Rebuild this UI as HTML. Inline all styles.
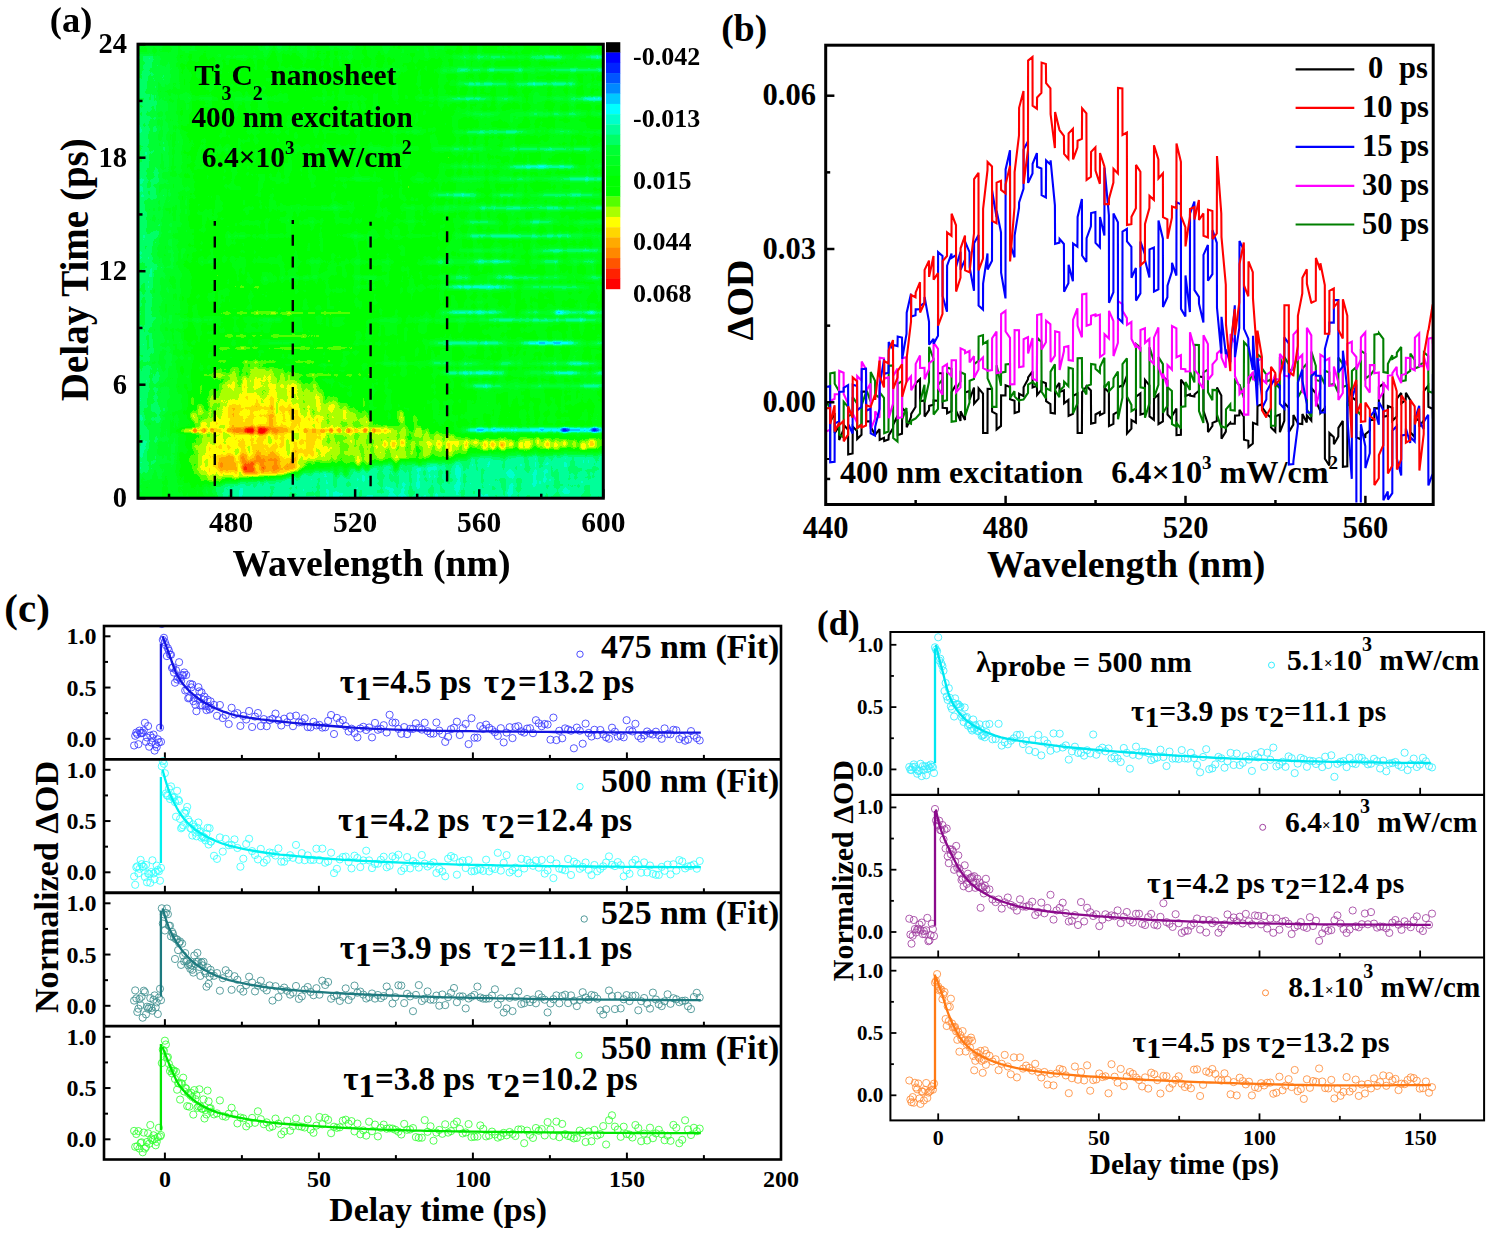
<!DOCTYPE html>
<html><head><meta charset="utf-8"><style>html,body{margin:0;padding:0;background:#fff;width:1494px;height:1235px;overflow:hidden} svg{display:block} text{font-family:'Liberation Serif',serif;font-weight:bold}</style></head>
<body><svg width="1494" height="1235" viewBox="0 0 1494 1235" style="font-family:'Liberation Serif',serif;font-weight:bold"><defs>
<clipPath id="clipA"><rect x="138.0" y="44.2" width="465.3" height="454.0"/></clipPath>
<filter id="blur3" x="-50%" y="-50%" width="200%" height="200%"><feGaussianBlur stdDeviation="3"/></filter>
<filter id="blur6" x="-50%" y="-50%" width="200%" height="200%"><feGaussianBlur stdDeviation="6"/></filter>
<filter id="blur10" x="-50%" y="-50%" width="200%" height="200%"><feGaussianBlur stdDeviation="10"/></filter>
<filter id="blur1" x="-50%" y="-50%" width="200%" height="200%"><feGaussianBlur stdDeviation="1.2"/></filter>
<clipPath id="clipB"><rect x="827" y="46.5" width="605" height="456"/></clipPath>
</defs>
<defs>
<filter id="jet" filterUnits="userSpaceOnUse" x="135.0" y="41.2" width="471.0" height="459.8" color-interpolation-filters="sRGB">
<feTurbulence type="fractalNoise" baseFrequency="0.13 0.035" numOctaves="2" seed="4" result="noise"/>
<feColorMatrix in="noise" type="matrix" values="1 0 0 0 0  1 0 0 0 0  1 0 0 0 0  0 0 0 0 1" result="ng"/>
<feTurbulence type="fractalNoise" baseFrequency="0.04 0.18" numOctaves="1" seed="9" result="noise2"/>
<feColorMatrix in="noise2" type="matrix" values="1 0 0 0 0  1 0 0 0 0  1 0 0 0 0  0 0 0 0 1" result="ng2"/>
<feComposite in="SourceGraphic" in2="ng" operator="arithmetic" k1="0" k2="1" k3="0.14" k4="-0.07" result="f1"/>
<feComposite in="f1" in2="ng2" operator="arithmetic" k1="0" k2="1" k3="0.08" k4="-0.04" result="field"/>
<feComponentTransfer in="field">
<feFuncR type="discrete" tableValues="0.0000 0.0000 0.0000 0.0000 0.0000 0.0000 0.0000 0.0000 0.0000 0.0000 0.0000 0.0000 0.0000 0.0000 0.0000 0.3333 0.6667 1.0000 1.0000 1.0000 1.0000 1.0000 1.0000 1.0000"/>
<feFuncG type="discrete" tableValues="0.0000 0.0000 0.1333 0.3333 0.5333 0.7843 1.0000 1.0000 1.0000 1.0000 1.0000 1.0000 1.0000 1.0000 1.0000 1.0000 1.0000 1.0000 0.8431 0.6667 0.5333 0.3333 0.1333 0.0000"/>
<feFuncB type="discrete" tableValues="0.0000 1.0000 1.0000 1.0000 1.0000 1.0000 1.0000 0.8000 0.6000 0.4000 0.2000 0.1333 0.0667 0.0000 0.0000 0.0000 0.0000 0.0000 0.0000 0.0000 0.0000 0.0000 0.0000 0.0000"/>
<feFuncA type="linear" slope="0" intercept="1"/>
</feComponentTransfer>
</filter>
<filter id="hb1" x="-100%" y="-300%" width="300%" height="700%" color-interpolation-filters="sRGB"><feGaussianBlur stdDeviation="7 1.4"/></filter>
<filter id="hb2" x="-100%" y="-300%" width="300%" height="700%" color-interpolation-filters="sRGB"><feGaussianBlur stdDeviation="3"/></filter>
<filter id="hb3" x="-100%" y="-300%" width="300%" height="700%" color-interpolation-filters="sRGB"><feGaussianBlur stdDeviation="7"/></filter>
<filter id="hb4" x="-100%" y="-300%" width="300%" height="700%" color-interpolation-filters="sRGB"><feGaussianBlur stdDeviation="1.5 4"/></filter>
<filter id="hb5" x="-100%" y="-300%" width="300%" height="700%" color-interpolation-filters="sRGB"><feGaussianBlur stdDeviation="1.5"/></filter>
</defs>
<g clip-path="url(#clipA)"><g filter="url(#jet)">
<rect x="135.0" y="41.2" width="471.0" height="459.8" fill="#8f8f8f"/>
<rect x="120" y="30" width="62" height="480" fill="#787878" filter="url(#hb3)"/>
<rect x="120" y="30" width="36" height="480" fill="#666666" filter="url(#hb3)"/>
<rect x="120" y="30" width="500" height="24" fill="#808080" filter="url(#hb2)"/>
<rect x="455" y="30" width="160" height="400" fill="#8b8b8b" filter="url(#hb3)"/>
<rect x="462" y="55.4" width="59" height="3.3" fill="#505050" opacity="0.71" filter="url(#hb1)"/>
<rect x="531" y="54.8" width="37" height="4.5" fill="#3a3a3a" opacity="0.62" filter="url(#hb1)"/>
<rect x="585" y="54.8" width="28" height="4.4" fill="#4c4c4c" opacity="0.99" filter="url(#hb1)"/>
<rect x="224" y="55.5" width="37" height="3" fill="#686868" opacity="0.8" filter="url(#hb1)"/>
<rect x="299" y="55.5" width="21" height="3" fill="#7c7c7c" opacity="0.8" filter="url(#hb1)"/>
<rect x="333" y="55.5" width="37" height="3" fill="#7c7c7c" opacity="0.8" filter="url(#hb1)"/>
<rect x="391" y="55.5" width="46" height="3" fill="#7c7c7c" opacity="0.8" filter="url(#hb1)"/>
<rect x="448" y="55.5" width="38" height="3" fill="#666666" opacity="0.8" filter="url(#hb1)"/>
<rect x="447" y="68.2" width="26" height="3.6" fill="#474747" opacity="0.92" filter="url(#hb1)"/>
<rect x="477" y="68.2" width="53" height="3.5" fill="#4d4d4d" opacity="0.92" filter="url(#hb1)"/>
<rect x="539" y="68.2" width="59" height="3.5" fill="#4f4f4f" opacity="0.80" filter="url(#hb1)"/>
<rect x="598" y="68.2" width="66" height="3.7" fill="#3c3c3c" opacity="0.94" filter="url(#hb1)"/>
<rect x="290" y="68.5" width="32" height="3" fill="#6c6c6c" opacity="0.8" filter="url(#hb1)"/>
<rect x="370" y="68.5" width="37" height="3" fill="#777777" opacity="0.8" filter="url(#hb1)"/>
<rect x="440" y="68.5" width="19" height="3" fill="#767676" opacity="0.8" filter="url(#hb1)"/>
<rect x="458" y="82.3" width="50" height="3.5" fill="#494949" opacity="0.92" filter="url(#hb1)"/>
<rect x="517" y="82.0" width="59" height="4.0" fill="#4a4a4a" opacity="0.89" filter="url(#hb1)"/>
<rect x="600" y="82.3" width="70" height="3.4" fill="#595959" opacity="0.92" filter="url(#hb1)"/>
<rect x="446" y="96.8" width="45" height="3.6" fill="#4e4e4e" opacity="0.98" filter="url(#hb1)"/>
<rect x="502" y="96.4" width="15" height="4.4" fill="#4b4b4b" opacity="0.85" filter="url(#hb1)"/>
<rect x="540" y="96.5" width="33" height="4.3" fill="#656565" opacity="0.68" filter="url(#hb1)"/>
<rect x="577" y="96.5" width="37" height="4.3" fill="#3b3b3b" opacity="0.94" filter="url(#hb1)"/>
<rect x="189" y="97.1" width="30" height="3" fill="#747474" opacity="0.8" filter="url(#hb1)"/>
<rect x="234" y="97.1" width="45" height="3" fill="#6d6d6d" opacity="0.8" filter="url(#hb1)"/>
<rect x="311" y="97.1" width="12" height="3" fill="#666666" opacity="0.8" filter="url(#hb1)"/>
<rect x="343" y="97.1" width="24" height="3" fill="#7e7e7e" opacity="0.8" filter="url(#hb1)"/>
<rect x="421" y="97.1" width="29" height="3" fill="#727272" opacity="0.8" filter="url(#hb1)"/>
<rect x="464" y="112.0" width="34" height="4.0" fill="#5d5d5d" opacity="0.76" filter="url(#hb1)"/>
<rect x="516" y="112.4" width="43" height="3.2" fill="#585858" opacity="0.88" filter="url(#hb1)"/>
<rect x="560" y="112.4" width="23" height="3.3" fill="#424242" opacity="0.68" filter="url(#hb1)"/>
<rect x="589" y="112.2" width="48" height="3.7" fill="#616161" opacity="0.74" filter="url(#hb1)"/>
<rect x="461" y="130.2" width="67" height="3.6" fill="#494949" opacity="0.88" filter="url(#hb1)"/>
<rect x="549" y="129.9" width="28" height="4.1" fill="#606060" opacity="0.80" filter="url(#hb1)"/>
<rect x="590" y="130.4" width="32" height="3.3" fill="#4f4f4f" opacity="0.62" filter="url(#hb1)"/>
<rect x="275" y="130.5" width="11" height="3" fill="#747474" opacity="0.8" filter="url(#hb1)"/>
<rect x="320" y="130.5" width="34" height="3" fill="#797979" opacity="0.8" filter="url(#hb1)"/>
<rect x="390" y="130.5" width="33" height="3" fill="#737373" opacity="0.8" filter="url(#hb1)"/>
<rect x="440" y="146.8" width="45" height="4.5" fill="#575757" opacity="0.68" filter="url(#hb1)"/>
<rect x="504" y="147.2" width="68" height="3.5" fill="#464646" opacity="0.78" filter="url(#hb1)"/>
<rect x="573" y="147.3" width="16" height="3.4" fill="#434343" opacity="0.94" filter="url(#hb1)"/>
<rect x="606" y="147.0" width="29" height="4.1" fill="#3b3b3b" opacity="0.68" filter="url(#hb1)"/>
<rect x="218" y="147.5" width="21" height="3" fill="#727272" opacity="0.8" filter="url(#hb1)"/>
<rect x="295" y="147.5" width="18" height="3" fill="#797979" opacity="0.8" filter="url(#hb1)"/>
<rect x="336" y="147.5" width="18" height="3" fill="#6e6e6e" opacity="0.8" filter="url(#hb1)"/>
<rect x="368" y="147.5" width="47" height="3" fill="#6f6f6f" opacity="0.8" filter="url(#hb1)"/>
<rect x="434" y="147.5" width="10" height="3" fill="#686868" opacity="0.8" filter="url(#hb1)"/>
<rect x="447" y="164.9" width="48" height="3.5" fill="#656565" opacity="0.96" filter="url(#hb1)"/>
<rect x="510" y="164.8" width="66" height="3.7" fill="#3d3d3d" opacity="0.94" filter="url(#hb1)"/>
<rect x="595" y="165.0" width="33" height="3.3" fill="#555555" opacity="0.80" filter="url(#hb1)"/>
<rect x="449" y="176.8" width="36" height="4.3" fill="#646464" opacity="0.75" filter="url(#hb1)"/>
<rect x="496" y="177.2" width="36" height="3.6" fill="#494949" opacity="0.62" filter="url(#hb1)"/>
<rect x="537" y="177.4" width="18" height="3.2" fill="#515151" opacity="0.78" filter="url(#hb1)"/>
<rect x="560" y="176.8" width="66" height="4.4" fill="#3e3e3e" opacity="0.75" filter="url(#hb1)"/>
<rect x="270" y="177.5" width="11" height="3" fill="#686868" opacity="0.8" filter="url(#hb1)"/>
<rect x="337" y="177.5" width="37" height="3" fill="#6d6d6d" opacity="0.8" filter="url(#hb1)"/>
<rect x="409" y="177.5" width="20" height="3" fill="#7d7d7d" opacity="0.8" filter="url(#hb1)"/>
<rect x="433" y="192.9" width="44" height="4.2" fill="#414141" opacity="0.76" filter="url(#hb1)"/>
<rect x="494" y="193.1" width="25" height="3.7" fill="#474747" opacity="0.77" filter="url(#hb1)"/>
<rect x="537" y="193.4" width="58" height="3.3" fill="#474747" opacity="0.78" filter="url(#hb1)"/>
<rect x="605" y="193.0" width="67" height="4.0" fill="#4f4f4f" opacity="0.82" filter="url(#hb1)"/>
<rect x="440" y="205.8" width="32" height="4.4" fill="#616161" opacity="0.80" filter="url(#hb1)"/>
<rect x="476" y="205.8" width="58" height="4.3" fill="#4e4e4e" opacity="0.79" filter="url(#hb1)"/>
<rect x="538" y="205.9" width="43" height="4.3" fill="#444444" opacity="0.74" filter="url(#hb1)"/>
<rect x="591" y="205.8" width="58" height="4.4" fill="#393939" opacity="1.00" filter="url(#hb1)"/>
<rect x="249" y="206.5" width="18" height="3" fill="#707070" opacity="0.8" filter="url(#hb1)"/>
<rect x="278" y="206.5" width="13" height="3" fill="#6a6a6a" opacity="0.8" filter="url(#hb1)"/>
<rect x="310" y="206.5" width="44" height="3" fill="#6c6c6c" opacity="0.8" filter="url(#hb1)"/>
<rect x="405" y="206.5" width="10" height="3" fill="#676767" opacity="0.8" filter="url(#hb1)"/>
<rect x="428" y="206.5" width="47" height="3" fill="#7b7b7b" opacity="0.8" filter="url(#hb1)"/>
<rect x="467" y="220.3" width="27" height="3.5" fill="#444444" opacity="0.83" filter="url(#hb1)"/>
<rect x="519" y="220.2" width="35" height="3.6" fill="#525252" opacity="0.83" filter="url(#hb1)"/>
<rect x="573" y="219.9" width="70" height="4.3" fill="#535353" opacity="0.63" filter="url(#hb1)"/>
<rect x="248" y="220.5" width="20" height="3" fill="#6e6e6e" opacity="0.8" filter="url(#hb1)"/>
<rect x="304" y="220.5" width="13" height="3" fill="#757575" opacity="0.8" filter="url(#hb1)"/>
<rect x="336" y="220.5" width="20" height="3" fill="#7d7d7d" opacity="0.8" filter="url(#hb1)"/>
<rect x="396" y="220.5" width="20" height="3" fill="#787878" opacity="0.8" filter="url(#hb1)"/>
<rect x="466" y="234.0" width="59" height="4.0" fill="#474747" opacity="0.83" filter="url(#hb1)"/>
<rect x="527" y="233.9" width="53" height="4.2" fill="#505050" opacity="0.81" filter="url(#hb1)"/>
<rect x="582" y="234.2" width="27" height="3.5" fill="#656565" opacity="0.72" filter="url(#hb1)"/>
<rect x="234" y="234.5" width="12" height="3" fill="#6d6d6d" opacity="0.8" filter="url(#hb1)"/>
<rect x="268" y="234.5" width="16" height="3" fill="#7a7a7a" opacity="0.8" filter="url(#hb1)"/>
<rect x="343" y="234.5" width="47" height="3" fill="#717171" opacity="0.8" filter="url(#hb1)"/>
<rect x="403" y="234.5" width="24" height="3" fill="#737373" opacity="0.8" filter="url(#hb1)"/>
<rect x="459" y="248.8" width="56" height="3.5" fill="#616161" opacity="0.79" filter="url(#hb1)"/>
<rect x="538" y="248.6" width="64" height="4.1" fill="#3e3e3e" opacity="0.68" filter="url(#hb1)"/>
<rect x="431" y="259.5" width="25" height="4.2" fill="#4c4c4c" opacity="0.82" filter="url(#hb1)"/>
<rect x="470" y="259.6" width="44" height="4.0" fill="#434343" opacity="0.86" filter="url(#hb1)"/>
<rect x="537" y="259.8" width="25" height="3.6" fill="#3e3e3e" opacity="0.74" filter="url(#hb1)"/>
<rect x="574" y="260.0" width="24" height="3.2" fill="#595959" opacity="0.93" filter="url(#hb1)"/>
<rect x="196" y="260.1" width="29" height="3" fill="#717171" opacity="0.8" filter="url(#hb1)"/>
<rect x="246" y="260.1" width="39" height="3" fill="#7b7b7b" opacity="0.8" filter="url(#hb1)"/>
<rect x="307" y="260.1" width="17" height="3" fill="#737373" opacity="0.8" filter="url(#hb1)"/>
<rect x="341" y="260.1" width="48" height="3" fill="#7c7c7c" opacity="0.8" filter="url(#hb1)"/>
<rect x="440" y="260.1" width="26" height="3" fill="#7a7a7a" opacity="0.8" filter="url(#hb1)"/>
<rect x="448" y="275.8" width="21" height="3.5" fill="#3a3a3a" opacity="0.87" filter="url(#hb1)"/>
<rect x="493" y="275.7" width="46" height="3.6" fill="#535353" opacity="0.96" filter="url(#hb1)"/>
<rect x="539" y="275.7" width="27" height="3.6" fill="#4d4d4d" opacity="0.66" filter="url(#hb1)"/>
<rect x="585" y="275.6" width="36" height="3.9" fill="#484848" opacity="0.69" filter="url(#hb1)"/>
<rect x="277" y="276.0" width="41" height="3" fill="#757575" opacity="0.8" filter="url(#hb1)"/>
<rect x="355" y="276.0" width="31" height="3" fill="#696969" opacity="0.8" filter="url(#hb1)"/>
<rect x="424" y="276.0" width="50" height="3" fill="#797979" opacity="0.8" filter="url(#hb1)"/>
<rect x="448" y="284.8" width="63" height="4.4" fill="#292929" opacity="0.68" filter="url(#hb1)"/>
<rect x="527" y="285.1" width="61" height="3.9" fill="#444444" opacity="0.62" filter="url(#hb1)"/>
<rect x="603" y="285.4" width="20" height="3.3" fill="#414141" opacity="0.98" filter="url(#hb1)"/>
<rect x="252" y="285.5" width="46" height="3" fill="#6a6a6a" opacity="0.8" filter="url(#hb1)"/>
<rect x="350" y="285.5" width="19" height="3" fill="#747474" opacity="0.8" filter="url(#hb1)"/>
<rect x="417" y="285.5" width="15" height="3" fill="#727272" opacity="0.8" filter="url(#hb1)"/>
<rect x="444" y="310.6" width="59" height="3.7" fill="#404040" opacity="0.98" filter="url(#hb1)"/>
<rect x="524" y="310.6" width="19" height="3.7" fill="#3a3a3a" opacity="0.66" filter="url(#hb1)"/>
<rect x="553" y="310.5" width="28" height="4.0" fill="#3e3e3e" opacity="0.87" filter="url(#hb1)"/>
<rect x="587" y="310.6" width="54" height="3.8" fill="#4d4d4d" opacity="0.77" filter="url(#hb1)"/>
<rect x="444" y="318.3" width="31" height="3.5" fill="#585858" opacity="0.72" filter="url(#hb1)"/>
<rect x="485" y="318.0" width="43" height="4.1" fill="#484848" opacity="0.76" filter="url(#hb1)"/>
<rect x="529" y="318.1" width="66" height="3.8" fill="#404040" opacity="0.78" filter="url(#hb1)"/>
<rect x="602" y="318.2" width="60" height="3.7" fill="#404040" opacity="0.64" filter="url(#hb1)"/>
<rect x="165" y="318.5" width="46" height="3" fill="#6a6a6a" opacity="0.8" filter="url(#hb1)"/>
<rect x="257" y="318.5" width="27" height="3" fill="#737373" opacity="0.8" filter="url(#hb1)"/>
<rect x="328" y="318.5" width="11" height="3" fill="#727272" opacity="0.8" filter="url(#hb1)"/>
<rect x="372" y="318.5" width="27" height="3" fill="#666666" opacity="0.8" filter="url(#hb1)"/>
<rect x="410" y="318.5" width="30" height="3" fill="#727272" opacity="0.8" filter="url(#hb1)"/>
<rect x="435" y="340.9" width="35" height="4.2" fill="#4b4b4b" opacity="0.93" filter="url(#hb1)"/>
<rect x="470" y="341.0" width="34" height="3.9" fill="#424242" opacity="0.93" filter="url(#hb1)"/>
<rect x="523" y="341.0" width="53" height="3.9" fill="#2c2c2c" opacity="0.99" filter="url(#hb1)"/>
<rect x="591" y="341.2" width="29" height="3.6" fill="#575757" opacity="1.00" filter="url(#hb1)"/>
<rect x="264" y="341.5" width="36" height="3" fill="#6c6c6c" opacity="0.8" filter="url(#hb1)"/>
<rect x="352" y="341.5" width="32" height="3" fill="#7e7e7e" opacity="0.8" filter="url(#hb1)"/>
<rect x="435" y="341.5" width="14" height="3" fill="#6c6c6c" opacity="0.8" filter="url(#hb1)"/>
<rect x="431" y="361.7" width="22" height="3.5" fill="#585858" opacity="0.92" filter="url(#hb1)"/>
<rect x="462" y="361.5" width="17" height="4.0" fill="#2f2f2f" opacity="0.60" filter="url(#hb1)"/>
<rect x="494" y="361.5" width="23" height="4.0" fill="#535353" opacity="0.79" filter="url(#hb1)"/>
<rect x="534" y="361.6" width="26" height="3.8" fill="#525252" opacity="0.76" filter="url(#hb1)"/>
<rect x="563" y="361.6" width="29" height="3.8" fill="#404040" opacity="0.89" filter="url(#hb1)"/>
<rect x="606" y="361.5" width="57" height="3.9" fill="#3d3d3d" opacity="0.61" filter="url(#hb1)"/>
<rect x="219" y="362.0" width="36" height="3" fill="#727272" opacity="0.8" filter="url(#hb1)"/>
<rect x="271" y="362.0" width="31" height="3" fill="#686868" opacity="0.8" filter="url(#hb1)"/>
<rect x="315" y="362.0" width="24" height="3" fill="#6b6b6b" opacity="0.8" filter="url(#hb1)"/>
<rect x="374" y="362.0" width="48" height="3" fill="#6b6b6b" opacity="0.8" filter="url(#hb1)"/>
<rect x="444" y="370.8" width="61" height="4.3" fill="#434343" opacity="0.91" filter="url(#hb1)"/>
<rect x="526" y="370.9" width="23" height="4.2" fill="#565656" opacity="0.65" filter="url(#hb1)"/>
<rect x="550" y="371.2" width="32" height="3.6" fill="#303030" opacity="0.85" filter="url(#hb1)"/>
<rect x="596" y="371.0" width="27" height="4.0" fill="#3d3d3d" opacity="0.96" filter="url(#hb1)"/>
<rect x="470" y="384.3" width="33" height="3.4" fill="#2e2e2e" opacity="0.70" filter="url(#hb1)"/>
<rect x="513" y="384.3" width="56" height="3.4" fill="#505050" opacity="0.64" filter="url(#hb1)"/>
<rect x="578" y="384.2" width="61" height="3.6" fill="#414141" opacity="0.82" filter="url(#hb1)"/>
<rect x="468" y="427.8" width="150" height="4.4" fill="#424242" filter="url(#hb1)"/>
<rect x="470" y="428.5" width="25" height="3" fill="#333333" opacity="0.7" filter="url(#hb1)"/>
<rect x="530" y="428.5" width="18" height="3" fill="#333333" opacity="0.7" filter="url(#hb1)"/>
<rect x="555" y="428.5" width="57" height="3" fill="#262626" opacity="0.7" filter="url(#hb1)"/>
<ellipse cx="565.2" cy="430" rx="4" ry="2" fill="#141414" filter="url(#hb5)"/>
<ellipse cx="594.9" cy="430" rx="4" ry="2" fill="#141414" filter="url(#hb5)"/>
<ellipse cx="590" cy="312.5" rx="6" ry="1.5" fill="#333333" filter="url(#hb5)"/>
<ellipse cx="560" cy="312.5" rx="5" ry="1.5" fill="#333333" filter="url(#hb5)"/>
<path d="M 200 500 L 205 488 L 230 479 L 290 471 L 380 463 L 450 460 L 480 455 L 603 453 L 620 453 L 620 510 L 200 510 Z" fill="#5b5b5b" filter="url(#hb2)"/>
<path d="M 120 500 L 140 475 L 215 485 L 215 510 L 120 510 Z" fill="#7d7d7d" filter="url(#hb3)"/>
<path d="M 185 482 L 192 450 L 205 405 L 225 372 L 255 362 L 290 372 L 330 395 L 380 425 L 405 445 L 380 458 L 290 468 L 230 476 Z" fill="#b1b1b1" filter="url(#hb3)"/>
<path d="M 330 462 L 455 458 L 470 450 L 603 449 L 603 438 L 470 438 L 400 425 L 340 420 Z" fill="#aaaaaa" filter="url(#hb2)"/>
<path d="M 205 476 L 210 445 L 222 412 L 250 392 L 285 400 L 315 425 L 335 450 L 300 463 L 240 474 Z" fill="#bfbfbf" filter="url(#hb3)"/>
<ellipse cx="258" cy="465" rx="44" ry="11" fill="#d6d6d6" filter="url(#hb2)"/>
<ellipse cx="253" cy="468" rx="12" ry="6" fill="#ebebeb" filter="url(#hb5)"/>
<rect x="180" y="428.5" width="210" height="4" fill="#c7c7c7" filter="url(#hb1)"/>
<ellipse cx="195.0" cy="430.5" rx="2.2" ry="2.6" fill="#d4d4d4"/>
<ellipse cx="203.5" cy="430.5" rx="2.2" ry="2.6" fill="#d4d4d4"/>
<ellipse cx="212.0" cy="430.5" rx="2.2" ry="2.6" fill="#d4d4d4"/>
<ellipse cx="220.5" cy="430.5" rx="2.2" ry="2.6" fill="#d4d4d4"/>
<ellipse cx="229.0" cy="430.5" rx="2.2" ry="2.6" fill="#d4d4d4"/>
<ellipse cx="237.5" cy="430.5" rx="2.2" ry="2.6" fill="#d4d4d4"/>
<ellipse cx="246.0" cy="430.5" rx="2.2" ry="2.6" fill="#d4d4d4"/>
<ellipse cx="254.5" cy="430.5" rx="2.2" ry="2.6" fill="#d4d4d4"/>
<ellipse cx="263.0" cy="430.5" rx="2.2" ry="2.6" fill="#d4d4d4"/>
<ellipse cx="271.5" cy="430.5" rx="2.2" ry="2.6" fill="#d4d4d4"/>
<ellipse cx="280.0" cy="430.5" rx="2.2" ry="2.6" fill="#d4d4d4"/>
<ellipse cx="288.5" cy="430.5" rx="2.2" ry="2.6" fill="#d4d4d4"/>
<ellipse cx="297.0" cy="430.5" rx="2.2" ry="2.6" fill="#d4d4d4"/>
<ellipse cx="305.5" cy="430.5" rx="2.2" ry="2.6" fill="#d4d4d4"/>
<ellipse cx="314.0" cy="430.5" rx="2.2" ry="2.6" fill="#d4d4d4"/>
<ellipse cx="322.5" cy="430.5" rx="2.2" ry="2.6" fill="#d4d4d4"/>
<ellipse cx="331.0" cy="430.5" rx="2.2" ry="2.6" fill="#d4d4d4"/>
<ellipse cx="339.5" cy="430.5" rx="2.2" ry="2.6" fill="#d4d4d4"/>
<ellipse cx="348.0" cy="430.5" rx="2.2" ry="2.6" fill="#d4d4d4"/>
<ellipse cx="356.5" cy="430.5" rx="2.2" ry="2.6" fill="#d4d4d4"/>
<ellipse cx="365.0" cy="430.5" rx="2.2" ry="2.6" fill="#d4d4d4"/>
<ellipse cx="373.5" cy="430.5" rx="2.2" ry="2.6" fill="#d4d4d4"/>
<ellipse cx="262" cy="430.5" rx="30" ry="3.5" fill="#dbdbdb" filter="url(#hb5)"/>
<ellipse cx="257" cy="430.5" rx="13" ry="3.2" fill="#ffffff" filter="url(#hb5)"/>
<rect x="230" y="285.5" width="70" height="3" fill="#b2b2b2" opacity="0.8" filter="url(#hb1)"/>
<rect x="210" y="311.5" width="150" height="3" fill="#b2b2b2" opacity="0.8" filter="url(#hb1)"/>
<rect x="215" y="334.5" width="105" height="3" fill="#b2b2b2" opacity="0.8" filter="url(#hb1)"/>
<rect x="200" y="346.5" width="160" height="3" fill="#b2b2b2" opacity="0.8" filter="url(#hb1)"/>
<rect x="210" y="360.5" width="130" height="3" fill="#b2b2b2" opacity="0.8" filter="url(#hb1)"/>
<rect x="200" y="373.5" width="180" height="3" fill="#b2b2b2" opacity="0.8" filter="url(#hb1)"/>
<ellipse cx="267.3" cy="435.0" rx="2.0" ry="6.7" fill="#c7c7c7" opacity="0.45" filter="url(#hb5)"/>
<ellipse cx="220.0" cy="398.0" rx="1.6" ry="4.3" fill="#c7c7c7" opacity="0.45" filter="url(#hb5)"/>
<ellipse cx="209.4" cy="466.9" rx="2.4" ry="8.8" fill="#b2b2b2" opacity="0.45" filter="url(#hb5)"/>
<ellipse cx="230.5" cy="408.0" rx="2.4" ry="9.1" fill="#c7c7c7" opacity="0.45" filter="url(#hb5)"/>
<ellipse cx="314.3" cy="383.6" rx="1.6" ry="8.5" fill="#c7c7c7" opacity="0.45" filter="url(#hb5)"/>
<ellipse cx="382.1" cy="445.8" rx="2.2" ry="6.9" fill="#9e9e9e" opacity="0.45" filter="url(#hb5)"/>
<ellipse cx="240.5" cy="470.5" rx="1.9" ry="8.6" fill="#c7c7c7" opacity="0.45" filter="url(#hb5)"/>
<ellipse cx="322.7" cy="425.8" rx="2.4" ry="4.7" fill="#9e9e9e" opacity="0.45" filter="url(#hb5)"/>
<ellipse cx="215.1" cy="475.7" rx="2.4" ry="7.4" fill="#c7c7c7" opacity="0.45" filter="url(#hb5)"/>
<ellipse cx="244.0" cy="386.9" rx="2.4" ry="4.1" fill="#c7c7c7" opacity="0.45" filter="url(#hb5)"/>
<ellipse cx="196.4" cy="407.1" rx="2.9" ry="6.7" fill="#9e9e9e" opacity="0.45" filter="url(#hb5)"/>
<ellipse cx="260.3" cy="473.1" rx="1.9" ry="6.9" fill="#b2b2b2" opacity="0.45" filter="url(#hb5)"/>
<ellipse cx="214.3" cy="370.9" rx="2.1" ry="8.1" fill="#b2b2b2" opacity="0.45" filter="url(#hb5)"/>
<ellipse cx="292.6" cy="423.5" rx="2.8" ry="6.4" fill="#c7c7c7" opacity="0.45" filter="url(#hb5)"/>
<ellipse cx="213.4" cy="442.2" rx="2.3" ry="6.2" fill="#9e9e9e" opacity="0.45" filter="url(#hb5)"/>
<ellipse cx="288.1" cy="448.6" rx="2.8" ry="9.8" fill="#9e9e9e" opacity="0.45" filter="url(#hb5)"/>
<ellipse cx="369.3" cy="458.5" rx="2.1" ry="6.1" fill="#b2b2b2" opacity="0.45" filter="url(#hb5)"/>
<ellipse cx="196.4" cy="419.0" rx="1.6" ry="5.3" fill="#c7c7c7" opacity="0.45" filter="url(#hb5)"/>
<ellipse cx="284.9" cy="414.5" rx="2.2" ry="8.2" fill="#c7c7c7" opacity="0.45" filter="url(#hb5)"/>
<ellipse cx="195.2" cy="447.9" rx="2.6" ry="4.1" fill="#c7c7c7" opacity="0.45" filter="url(#hb5)"/>
<ellipse cx="270.7" cy="438.7" rx="2.7" ry="9.8" fill="#9e9e9e" opacity="0.45" filter="url(#hb5)"/>
<ellipse cx="370.2" cy="436.9" rx="2.7" ry="9.6" fill="#9e9e9e" opacity="0.45" filter="url(#hb5)"/>
<ellipse cx="256.1" cy="431.9" rx="2.1" ry="6.1" fill="#9e9e9e" opacity="0.45" filter="url(#hb5)"/>
<ellipse cx="343.3" cy="425.9" rx="2.7" ry="7.7" fill="#9e9e9e" opacity="0.45" filter="url(#hb5)"/>
<ellipse cx="345.4" cy="468.3" rx="2.7" ry="8.7" fill="#9e9e9e" opacity="0.45" filter="url(#hb5)"/>
<ellipse cx="209.2" cy="436.4" rx="2.0" ry="6.2" fill="#9e9e9e" opacity="0.45" filter="url(#hb5)"/>
<ellipse cx="418.6" cy="431.6" rx="2.7" ry="6.3" fill="#c7c7c7" opacity="0.45" filter="url(#hb5)"/>
<ellipse cx="219.8" cy="475.9" rx="1.7" ry="9.4" fill="#b2b2b2" opacity="0.45" filter="url(#hb5)"/>
<ellipse cx="414.7" cy="420.6" rx="2.2" ry="7.3" fill="#c7c7c7" opacity="0.45" filter="url(#hb5)"/>
<ellipse cx="246.3" cy="373.7" rx="3.0" ry="4.0" fill="#9e9e9e" opacity="0.45" filter="url(#hb5)"/>
<ellipse cx="396.9" cy="413.5" rx="2.4" ry="6.6" fill="#b2b2b2" opacity="0.45" filter="url(#hb5)"/>
<ellipse cx="298.2" cy="468.6" rx="2.4" ry="9.6" fill="#9e9e9e" opacity="0.45" filter="url(#hb5)"/>
<ellipse cx="338.4" cy="389.9" rx="2.4" ry="4.1" fill="#9e9e9e" opacity="0.45" filter="url(#hb5)"/>
<ellipse cx="202.1" cy="412.2" rx="1.8" ry="8.0" fill="#9e9e9e" opacity="0.45" filter="url(#hb5)"/>
<ellipse cx="254.0" cy="396.1" rx="2.3" ry="9.1" fill="#b2b2b2" opacity="0.45" filter="url(#hb5)"/>
<ellipse cx="215.6" cy="376.1" rx="2.6" ry="6.4" fill="#b2b2b2" opacity="0.45" filter="url(#hb5)"/>
<ellipse cx="202.2" cy="427.3" rx="1.8" ry="8.0" fill="#c7c7c7" opacity="0.45" filter="url(#hb5)"/>
<ellipse cx="358.9" cy="398.1" rx="2.5" ry="5.4" fill="#9e9e9e" opacity="0.45" filter="url(#hb5)"/>
<ellipse cx="393.7" cy="413.0" rx="1.8" ry="6.8" fill="#9e9e9e" opacity="0.45" filter="url(#hb5)"/>
<ellipse cx="253.7" cy="454.7" rx="1.7" ry="7.2" fill="#b2b2b2" opacity="0.45" filter="url(#hb5)"/>
<ellipse cx="283.0" cy="468.6" rx="2.3" ry="4.9" fill="#b2b2b2" opacity="0.45" filter="url(#hb5)"/>
<ellipse cx="213.9" cy="435.4" rx="2.9" ry="4.5" fill="#b2b2b2" opacity="0.45" filter="url(#hb5)"/>
<ellipse cx="287.0" cy="410.0" rx="2.4" ry="6.8" fill="#b2b2b2" opacity="0.45" filter="url(#hb5)"/>
<ellipse cx="300.9" cy="459.6" rx="2.4" ry="5.4" fill="#9e9e9e" opacity="0.45" filter="url(#hb5)"/>
<ellipse cx="255.9" cy="417.0" rx="2.7" ry="7.4" fill="#b2b2b2" opacity="0.45" filter="url(#hb5)"/>
<ellipse cx="338.9" cy="418.6" rx="2.6" ry="5.1" fill="#b2b2b2" opacity="0.45" filter="url(#hb5)"/>
<ellipse cx="396.5" cy="460.7" rx="2.9" ry="8.7" fill="#c7c7c7" opacity="0.45" filter="url(#hb5)"/>
<ellipse cx="256.8" cy="468.8" rx="2.7" ry="6.8" fill="#c7c7c7" opacity="0.45" filter="url(#hb5)"/>
<ellipse cx="212.6" cy="475.3" rx="1.8" ry="7.3" fill="#b2b2b2" opacity="0.45" filter="url(#hb5)"/>
<ellipse cx="238.0" cy="454.7" rx="2.3" ry="7.4" fill="#9e9e9e" opacity="0.45" filter="url(#hb5)"/>
<ellipse cx="326.9" cy="457.4" rx="1.9" ry="6.2" fill="#9e9e9e" opacity="0.45" filter="url(#hb5)"/>
<ellipse cx="419.6" cy="460.5" rx="2.3" ry="5.9" fill="#c7c7c7" opacity="0.45" filter="url(#hb5)"/>
<ellipse cx="296.5" cy="434.1" rx="2.6" ry="8.1" fill="#9e9e9e" opacity="0.45" filter="url(#hb5)"/>
<ellipse cx="237.7" cy="406.6" rx="2.6" ry="7.5" fill="#c7c7c7" opacity="0.45" filter="url(#hb5)"/>
<ellipse cx="416.3" cy="423.3" rx="1.7" ry="4.4" fill="#b2b2b2" opacity="0.45" filter="url(#hb5)"/>
<ellipse cx="418.0" cy="455.0" rx="3.0" ry="9.1" fill="#9e9e9e" opacity="0.45" filter="url(#hb5)"/>
<ellipse cx="289.1" cy="390.8" rx="1.9" ry="5.0" fill="#c7c7c7" opacity="0.45" filter="url(#hb5)"/>
<ellipse cx="317.7" cy="431.6" rx="3.0" ry="8.8" fill="#b2b2b2" opacity="0.45" filter="url(#hb5)"/>
<ellipse cx="318.5" cy="446.4" rx="2.3" ry="6.8" fill="#b2b2b2" opacity="0.45" filter="url(#hb5)"/>
<ellipse cx="192.4" cy="417.0" rx="2.8" ry="4.4" fill="#c7c7c7" opacity="0.45" filter="url(#hb5)"/>
<ellipse cx="310.8" cy="472.7" rx="1.5" ry="5.8" fill="#9e9e9e" opacity="0.45" filter="url(#hb5)"/>
<ellipse cx="234.8" cy="476.0" rx="2.7" ry="5.6" fill="#c7c7c7" opacity="0.45" filter="url(#hb5)"/>
<ellipse cx="278.9" cy="442.9" rx="1.8" ry="8.7" fill="#c7c7c7" opacity="0.45" filter="url(#hb5)"/>
<ellipse cx="260.3" cy="395.6" rx="2.9" ry="8.3" fill="#9e9e9e" opacity="0.45" filter="url(#hb5)"/>
<ellipse cx="387.2" cy="454.5" rx="1.8" ry="8.2" fill="#9e9e9e" opacity="0.45" filter="url(#hb5)"/>
<ellipse cx="316.0" cy="448.8" rx="2.5" ry="8.7" fill="#b2b2b2" opacity="0.45" filter="url(#hb5)"/>
<ellipse cx="202.7" cy="387.8" rx="2.5" ry="9.2" fill="#9e9e9e" opacity="0.45" filter="url(#hb5)"/>
<ellipse cx="203.0" cy="426.3" rx="1.5" ry="4.9" fill="#c7c7c7" opacity="0.45" filter="url(#hb5)"/>
<ellipse cx="200.9" cy="390.5" rx="1.6" ry="7.9" fill="#c7c7c7" opacity="0.45" filter="url(#hb5)"/>
<ellipse cx="324.6" cy="444.0" rx="3.0" ry="5.7" fill="#9e9e9e" opacity="0.45" filter="url(#hb5)"/>
<ellipse cx="246.0" cy="402.9" rx="2.5" ry="8.5" fill="#c7c7c7" opacity="0.45" filter="url(#hb5)"/>
<ellipse cx="244.3" cy="384.5" rx="2.2" ry="9.4" fill="#c7c7c7" opacity="0.45" filter="url(#hb5)"/>
<ellipse cx="249.7" cy="452.4" rx="2.0" ry="8.2" fill="#b2b2b2" opacity="0.45" filter="url(#hb5)"/>
<ellipse cx="249.9" cy="412.1" rx="1.8" ry="6.4" fill="#c7c7c7" opacity="0.45" filter="url(#hb5)"/>
<ellipse cx="358.4" cy="462.5" rx="2.3" ry="9.5" fill="#c7c7c7" opacity="0.45" filter="url(#hb5)"/>
<ellipse cx="233.0" cy="445.3" rx="2.1" ry="9.6" fill="#b2b2b2" opacity="0.45" filter="url(#hb5)"/>
<ellipse cx="234.8" cy="397.5" rx="2.2" ry="8.1" fill="#b2b2b2" opacity="0.45" filter="url(#hb5)"/>
<ellipse cx="257.1" cy="466.9" rx="2.7" ry="5.6" fill="#9e9e9e" opacity="0.45" filter="url(#hb5)"/>
<ellipse cx="328.8" cy="440.9" rx="2.5" ry="7.8" fill="#9e9e9e" opacity="0.45" filter="url(#hb5)"/>
<ellipse cx="221.6" cy="428.7" rx="2.8" ry="4.7" fill="#9e9e9e" opacity="0.45" filter="url(#hb5)"/>
<ellipse cx="237.6" cy="381.3" rx="2.6" ry="4.6" fill="#c7c7c7" opacity="0.45" filter="url(#hb5)"/>
<ellipse cx="385.0" cy="417.2" rx="1.5" ry="4.4" fill="#c7c7c7" opacity="0.45" filter="url(#hb5)"/>
<ellipse cx="247.1" cy="374.2" rx="1.6" ry="4.8" fill="#9e9e9e" opacity="0.45" filter="url(#hb5)"/>
<ellipse cx="212.7" cy="415.9" rx="2.7" ry="8.7" fill="#9e9e9e" opacity="0.45" filter="url(#hb5)"/>
<ellipse cx="192.9" cy="450.9" rx="2.6" ry="5.6" fill="#9e9e9e" opacity="0.45" filter="url(#hb5)"/>
<ellipse cx="395.4" cy="464.1" rx="1.6" ry="9.7" fill="#b2b2b2" opacity="0.45" filter="url(#hb5)"/>
<ellipse cx="366.9" cy="462.2" rx="2.7" ry="9.5" fill="#c7c7c7" opacity="0.45" filter="url(#hb5)"/>
<ellipse cx="229.3" cy="440.0" rx="2.2" ry="9.2" fill="#b2b2b2" opacity="0.45" filter="url(#hb5)"/>
<ellipse cx="293.8" cy="387.2" rx="2.9" ry="8.2" fill="#c7c7c7" opacity="0.45" filter="url(#hb5)"/>
<ellipse cx="228.6" cy="390.3" rx="2.1" ry="9.6" fill="#b2b2b2" opacity="0.45" filter="url(#hb5)"/>
<ellipse cx="308.8" cy="399.1" rx="1.9" ry="7.2" fill="#9e9e9e" opacity="0.45" filter="url(#hb5)"/>
<ellipse cx="239.0" cy="381.4" rx="2.7" ry="7.9" fill="#9e9e9e" opacity="0.45" filter="url(#hb5)"/>
<ellipse cx="326.9" cy="397.6" rx="2.8" ry="5.6" fill="#9e9e9e" opacity="0.45" filter="url(#hb5)"/>
<ellipse cx="289.5" cy="380.6" rx="2.1" ry="4.5" fill="#b2b2b2" opacity="0.45" filter="url(#hb5)"/>
<ellipse cx="207.3" cy="408.9" rx="1.7" ry="8.9" fill="#9e9e9e" opacity="0.45" filter="url(#hb5)"/>
<ellipse cx="215.4" cy="419.8" rx="2.7" ry="8.7" fill="#c7c7c7" opacity="0.45" filter="url(#hb5)"/>
<ellipse cx="374.9" cy="405.0" rx="1.7" ry="10.0" fill="#9e9e9e" opacity="0.45" filter="url(#hb5)"/>
<ellipse cx="358.7" cy="412.4" rx="2.2" ry="7.5" fill="#b2b2b2" opacity="0.45" filter="url(#hb5)"/>
<ellipse cx="272.5" cy="405.7" rx="1.7" ry="9.7" fill="#c7c7c7" opacity="0.45" filter="url(#hb5)"/>
<ellipse cx="316.3" cy="419.8" rx="2.2" ry="4.1" fill="#c7c7c7" opacity="0.45" filter="url(#hb5)"/>
<ellipse cx="264.8" cy="419.7" rx="1.5" ry="4.0" fill="#b2b2b2" opacity="0.45" filter="url(#hb5)"/>
<ellipse cx="409.2" cy="437.6" rx="2.6" ry="4.3" fill="#9e9e9e" opacity="0.45" filter="url(#hb5)"/>
<ellipse cx="306.9" cy="392.3" rx="2.0" ry="5.2" fill="#c7c7c7" opacity="0.45" filter="url(#hb5)"/>
<ellipse cx="289.0" cy="404.9" rx="1.7" ry="8.7" fill="#c7c7c7" opacity="0.45" filter="url(#hb5)"/>
<ellipse cx="240.0" cy="468.1" rx="2.8" ry="8.4" fill="#9e9e9e" opacity="0.45" filter="url(#hb5)"/>
<ellipse cx="192.5" cy="397.9" rx="2.9" ry="7.3" fill="#c7c7c7" opacity="0.45" filter="url(#hb5)"/>
<ellipse cx="401.9" cy="419.9" rx="2.7" ry="5.6" fill="#b2b2b2" opacity="0.45" filter="url(#hb5)"/>
<ellipse cx="283.7" cy="459.3" rx="2.1" ry="7.9" fill="#b2b2b2" opacity="0.45" filter="url(#hb5)"/>
<ellipse cx="224.9" cy="392.7" rx="1.8" ry="5.0" fill="#b2b2b2" opacity="0.45" filter="url(#hb5)"/>
<ellipse cx="281.9" cy="436.5" rx="2.8" ry="9.9" fill="#c7c7c7" opacity="0.45" filter="url(#hb5)"/>
<ellipse cx="271.7" cy="423.6" rx="2.2" ry="9.1" fill="#c7c7c7" opacity="0.45" filter="url(#hb5)"/>
<ellipse cx="285.1" cy="450.3" rx="2.8" ry="6.5" fill="#b2b2b2" opacity="0.45" filter="url(#hb5)"/>
<ellipse cx="268.3" cy="379.8" rx="2.7" ry="7.8" fill="#b2b2b2" opacity="0.45" filter="url(#hb5)"/>
<ellipse cx="253.5" cy="446.0" rx="1.8" ry="8.8" fill="#c7c7c7" opacity="0.45" filter="url(#hb5)"/>
<ellipse cx="328.9" cy="419.1" rx="2.8" ry="5.9" fill="#9e9e9e" opacity="0.45" filter="url(#hb5)"/>
<ellipse cx="372.3" cy="451.3" rx="1.7" ry="9.0" fill="#9e9e9e" opacity="0.45" filter="url(#hb5)"/>
<ellipse cx="276.3" cy="409.8" rx="2.1" ry="6.5" fill="#9e9e9e" opacity="0.45" filter="url(#hb5)"/>
<ellipse cx="363.6" cy="403.6" rx="1.7" ry="8.5" fill="#b2b2b2" opacity="0.45" filter="url(#hb5)"/>
<ellipse cx="288.7" cy="428.1" rx="2.5" ry="7.7" fill="#c7c7c7" opacity="0.45" filter="url(#hb5)"/>
<ellipse cx="336.3" cy="470.6" rx="1.6" ry="7.1" fill="#9e9e9e" opacity="0.45" filter="url(#hb5)"/>
<ellipse cx="200.7" cy="409.7" rx="2.7" ry="5.7" fill="#c7c7c7" opacity="0.45" filter="url(#hb5)"/>
<ellipse cx="401.8" cy="417.3" rx="2.4" ry="6.9" fill="#b2b2b2" opacity="0.45" filter="url(#hb5)"/>
<ellipse cx="205.6" cy="399.6" rx="1.8" ry="6.7" fill="#9e9e9e" opacity="0.45" filter="url(#hb5)"/>
<ellipse cx="345.1" cy="414.5" rx="2.4" ry="7.4" fill="#c7c7c7" opacity="0.45" filter="url(#hb5)"/>
<ellipse cx="219.6" cy="374.2" rx="2.5" ry="7.3" fill="#c7c7c7" opacity="0.45" filter="url(#hb5)"/>
<ellipse cx="209.9" cy="460.2" rx="2.8" ry="9.8" fill="#b2b2b2" opacity="0.45" filter="url(#hb5)"/>
<ellipse cx="395.3" cy="412.9" rx="2.5" ry="7.4" fill="#9e9e9e" opacity="0.45" filter="url(#hb5)"/>
<ellipse cx="286.6" cy="459.3" rx="2.7" ry="4.2" fill="#b2b2b2" opacity="0.45" filter="url(#hb5)"/>
<ellipse cx="400.4" cy="415.5" rx="3.0" ry="7.9" fill="#c7c7c7" opacity="0.45" filter="url(#hb5)"/>
<ellipse cx="385.0" cy="444.1" rx="3" ry="4" fill="#cccccc" opacity="0.8" filter="url(#hb5)"/>
<ellipse cx="394.0" cy="444.7" rx="3" ry="4" fill="#cccccc" opacity="0.8" filter="url(#hb5)"/>
<ellipse cx="403.0" cy="443.7" rx="3" ry="4" fill="#c2c2c2" opacity="0.8" filter="url(#hb5)"/>
<ellipse cx="412.0" cy="446.1" rx="3" ry="4" fill="#b8b8b8" opacity="0.8" filter="url(#hb5)"/>
<ellipse cx="421.0" cy="444.7" rx="3" ry="4" fill="#b8b8b8" opacity="0.8" filter="url(#hb5)"/>
<ellipse cx="430.0" cy="444.4" rx="3" ry="4" fill="#b8b8b8" opacity="0.8" filter="url(#hb5)"/>
<ellipse cx="439.0" cy="445.4" rx="3" ry="4" fill="#c2c2c2" opacity="0.8" filter="url(#hb5)"/>
<ellipse cx="448.0" cy="446.2" rx="3" ry="4" fill="#c2c2c2" opacity="0.8" filter="url(#hb5)"/>
<ellipse cx="457.0" cy="444.2" rx="3" ry="4" fill="#c2c2c2" opacity="0.8" filter="url(#hb5)"/>
<ellipse cx="466.0" cy="445.0" rx="3" ry="4" fill="#c2c2c2" opacity="0.8" filter="url(#hb5)"/>
<ellipse cx="475.0" cy="443.4" rx="3" ry="4" fill="#c2c2c2" opacity="0.8" filter="url(#hb5)"/>
<ellipse cx="484.0" cy="445.4" rx="3" ry="4" fill="#c2c2c2" opacity="0.8" filter="url(#hb5)"/>
<ellipse cx="493.0" cy="444.9" rx="3" ry="4" fill="#cccccc" opacity="0.8" filter="url(#hb5)"/>
<ellipse cx="502.0" cy="445.1" rx="3" ry="4" fill="#cccccc" opacity="0.8" filter="url(#hb5)"/>
<ellipse cx="511.0" cy="444.6" rx="3" ry="4" fill="#c2c2c2" opacity="0.8" filter="url(#hb5)"/>
<ellipse cx="520.0" cy="446.3" rx="3" ry="4" fill="#c2c2c2" opacity="0.8" filter="url(#hb5)"/>
<ellipse cx="529.0" cy="444.5" rx="3" ry="4" fill="#c2c2c2" opacity="0.8" filter="url(#hb5)"/>
<ellipse cx="538.0" cy="443.0" rx="3" ry="4" fill="#c2c2c2" opacity="0.8" filter="url(#hb5)"/>
<ellipse cx="547.0" cy="444.3" rx="3" ry="4" fill="#cccccc" opacity="0.8" filter="url(#hb5)"/>
<ellipse cx="556.0" cy="445.6" rx="3" ry="4" fill="#b8b8b8" opacity="0.8" filter="url(#hb5)"/>
<ellipse cx="565.0" cy="443.4" rx="3" ry="4" fill="#cccccc" opacity="0.8" filter="url(#hb5)"/>
<ellipse cx="574.0" cy="444.8" rx="3" ry="4" fill="#b8b8b8" opacity="0.8" filter="url(#hb5)"/>
<ellipse cx="583.0" cy="446.3" rx="3" ry="4" fill="#c2c2c2" opacity="0.8" filter="url(#hb5)"/>
<ellipse cx="592.0" cy="443.6" rx="3" ry="4" fill="#cccccc" opacity="0.8" filter="url(#hb5)"/>
</g></g>
<line x1="214.80" y1="220.90" x2="214.80" y2="486.10" stroke="#000" stroke-width="2.4" stroke-dasharray="10.9 10.85" stroke-dashoffset="6.15"/>
<line x1="292.80" y1="220.00" x2="292.80" y2="484.80" stroke="#000" stroke-width="2.4" stroke-dasharray="10.9 10.85" stroke-dashoffset="6.95"/>
<line x1="370.60" y1="221.80" x2="370.60" y2="486.30" stroke="#000" stroke-width="2.4" stroke-dasharray="10.9 10.85" stroke-dashoffset="7.05"/>
<line x1="447.10" y1="216.50" x2="447.10" y2="481.50" stroke="#000" stroke-width="2.4" stroke-dasharray="10.9 10.85" stroke-dashoffset="6.95"/>
<rect x="138.00" y="44.20" width="465.30" height="454.00" fill="none" stroke="#000" stroke-width="3" />
<line x1="138.00" y1="498.20" x2="145.50" y2="498.20" stroke="#000" stroke-width="2.5" />
<text x="127.0" y="507.2" font-size="28.5" text-anchor="end" fill="#000" >0</text>
<line x1="138.00" y1="441.45" x2="142.50" y2="441.45" stroke="#000" stroke-width="2.5" />
<line x1="138.00" y1="384.70" x2="145.50" y2="384.70" stroke="#000" stroke-width="2.5" />
<text x="127.0" y="393.7" font-size="28.5" text-anchor="end" fill="#000" >6</text>
<line x1="138.00" y1="327.95" x2="142.50" y2="327.95" stroke="#000" stroke-width="2.5" />
<line x1="138.00" y1="271.20" x2="145.50" y2="271.20" stroke="#000" stroke-width="2.5" />
<text x="127.0" y="280.2" font-size="28.5" text-anchor="end" fill="#000" >12</text>
<line x1="138.00" y1="214.45" x2="142.50" y2="214.45" stroke="#000" stroke-width="2.5" />
<line x1="138.00" y1="157.70" x2="145.50" y2="157.70" stroke="#000" stroke-width="2.5" />
<text x="127.0" y="166.7" font-size="28.5" text-anchor="end" fill="#000" >18</text>
<line x1="138.00" y1="100.95" x2="142.50" y2="100.95" stroke="#000" stroke-width="2.5" />
<line x1="138.00" y1="44.20" x2="145.50" y2="44.20" stroke="#000" stroke-width="2.5" />
<text x="127.0" y="53.2" font-size="28.5" text-anchor="end" fill="#000" >24</text>
<line x1="169.02" y1="498.20" x2="169.02" y2="493.70" stroke="#000" stroke-width="2.5" />
<line x1="231.06" y1="498.20" x2="231.06" y2="489.20" stroke="#000" stroke-width="2.5" />
<text x="231.1" y="532.4" font-size="29.5" text-anchor="middle" fill="#000" >480</text>
<line x1="293.10" y1="498.20" x2="293.10" y2="493.70" stroke="#000" stroke-width="2.5" />
<line x1="355.14" y1="498.20" x2="355.14" y2="489.20" stroke="#000" stroke-width="2.5" />
<text x="355.1" y="532.4" font-size="29.5" text-anchor="middle" fill="#000" >520</text>
<line x1="417.18" y1="498.20" x2="417.18" y2="493.70" stroke="#000" stroke-width="2.5" />
<line x1="479.22" y1="498.20" x2="479.22" y2="489.20" stroke="#000" stroke-width="2.5" />
<text x="479.2" y="532.4" font-size="29.5" text-anchor="middle" fill="#000" >560</text>
<line x1="541.26" y1="498.20" x2="541.26" y2="493.70" stroke="#000" stroke-width="2.5" />
<line x1="603.30" y1="498.20" x2="603.30" y2="489.20" stroke="#000" stroke-width="2.5" />
<text x="603.3" y="532.4" font-size="29.5" text-anchor="middle" fill="#000" >600</text>
<text x="232.4" y="575.7" font-size="37.8" text-anchor="start" fill="#000" >Wavelength (nm)</text>
<text x="0.0" y="0.0" font-size="39" text-anchor="middle" fill="#000" transform="translate(87.8,269.7) rotate(-90)">Delay Time (ps)</text>
<text x="49.8" y="31.6" font-size="36.5" text-anchor="start" fill="#000" >(a)</text>
<rect x="606.00" y="42.20" width="14.30" height="10.58" fill="#000000" stroke="none" stroke-width="0" />
<rect x="606.00" y="52.48" width="14.30" height="10.58" fill="#0000ff" stroke="none" stroke-width="0" />
<rect x="606.00" y="62.76" width="14.30" height="10.58" fill="#0022ff" stroke="none" stroke-width="0" />
<rect x="606.00" y="73.04" width="14.30" height="10.58" fill="#0055ff" stroke="none" stroke-width="0" />
<rect x="606.00" y="83.32" width="14.30" height="10.58" fill="#0088ff" stroke="none" stroke-width="0" />
<rect x="606.00" y="93.60" width="14.30" height="10.58" fill="#00c8ff" stroke="none" stroke-width="0" />
<rect x="606.00" y="103.88" width="14.30" height="10.58" fill="#00ffff" stroke="none" stroke-width="0" />
<rect x="606.00" y="114.15" width="14.30" height="10.58" fill="#00ffcc" stroke="none" stroke-width="0" />
<rect x="606.00" y="124.43" width="14.30" height="10.58" fill="#00ff99" stroke="none" stroke-width="0" />
<rect x="606.00" y="134.71" width="14.30" height="10.58" fill="#00ff66" stroke="none" stroke-width="0" />
<rect x="606.00" y="144.99" width="14.30" height="10.58" fill="#00ff33" stroke="none" stroke-width="0" />
<rect x="606.00" y="155.27" width="14.30" height="10.58" fill="#00ff22" stroke="none" stroke-width="0" />
<rect x="606.00" y="165.55" width="14.30" height="10.58" fill="#00ff11" stroke="none" stroke-width="0" />
<rect x="606.00" y="175.83" width="14.30" height="10.58" fill="#00ff00" stroke="none" stroke-width="0" />
<rect x="606.00" y="186.11" width="14.30" height="10.58" fill="#00ff00" stroke="none" stroke-width="0" />
<rect x="606.00" y="196.39" width="14.30" height="10.58" fill="#55ff00" stroke="none" stroke-width="0" />
<rect x="606.00" y="206.67" width="14.30" height="10.58" fill="#aaff00" stroke="none" stroke-width="0" />
<rect x="606.00" y="216.95" width="14.30" height="10.58" fill="#ffff00" stroke="none" stroke-width="0" />
<rect x="606.00" y="227.23" width="14.30" height="10.58" fill="#ffd700" stroke="none" stroke-width="0" />
<rect x="606.00" y="237.50" width="14.30" height="10.58" fill="#ffaa00" stroke="none" stroke-width="0" />
<rect x="606.00" y="247.78" width="14.30" height="10.58" fill="#ff8800" stroke="none" stroke-width="0" />
<rect x="606.00" y="258.06" width="14.30" height="10.58" fill="#ff5500" stroke="none" stroke-width="0" />
<rect x="606.00" y="268.34" width="14.30" height="10.58" fill="#ff2200" stroke="none" stroke-width="0" />
<rect x="606.00" y="278.62" width="14.30" height="10.58" fill="#ff0000" stroke="none" stroke-width="0" />
<text x="633.0" y="64.9" font-size="26" text-anchor="start" fill="#000" >-0.042</text>
<text x="633.0" y="126.9" font-size="26" text-anchor="start" fill="#000" >-0.013</text>
<text x="633.0" y="188.8" font-size="26" text-anchor="start" fill="#000" >0.015</text>
<text x="633.0" y="249.5" font-size="26" text-anchor="start" fill="#000" >0.044</text>
<text x="633.0" y="301.8" font-size="26" text-anchor="start" fill="#000" >0.068</text>
<text x="194.2" y="85.1" font-size="29.5">Ti<tspan font-size="20" dy="14.5">3</tspan><tspan dy="-14.5">C</tspan><tspan font-size="20" dy="14.5">2</tspan><tspan dy="-14.5"> nanosheet</tspan></text>
<text x="191.4" y="127.3" font-size="29.3" text-anchor="start" fill="#000" >400 nm excitation</text>
<text x="201.8" y="166.8" font-size="29.5">6.4×10<tspan font-size="19" dy="-13">3</tspan><tspan dy="13"> mW/cm</tspan><tspan font-size="20" dy="-13">2</tspan></text>
<g clip-path="url(#clipB)" fill="none" stroke-width="2.1" stroke-linejoin="miter" stroke-miterlimit="3">
<polyline points="821.2,391.6 825.6,391.6 825.7,459.0 830.1,459.0 830.2,421.9 834.6,413.1 834.7,433.1 839.1,426.2 839.2,440.1 843.6,429.5 843.7,424.8 848.1,429.9 848.2,454.5 852.6,453.4 852.7,426.6 857.0,430.9 857.2,439.1 861.5,434.7 861.7,391.6 866.0,391.6 866.2,421.5 870.5,421.1 870.7,426.7 875.0,434.7 875.2,434.7 879.5,429.1 879.7,439.8 884.0,437.8 884.2,441.1 888.5,439.6 888.7,435.4 893.0,428.2 893.2,424.7 897.5,415.8 897.7,435.0 902.0,433.8 902.2,408.2 906.5,412.2 906.7,427.3 911.0,417.1 911.2,413.9 915.5,407.0 915.7,383.3 920.0,379.2 920.1,401.3 924.5,400.4 924.6,416.6 929.0,410.2 929.1,405.9 933.5,404.8 933.6,400.4 938.0,400.8 938.1,373.2 942.5,373.2 942.6,407.8 947.0,408.3 947.1,413.3 951.5,411.0 951.6,392.0 956.0,384.9 956.1,410.6 960.5,420.9 960.6,411.3 965.0,420.1 965.1,392.6 969.5,391.0 969.6,399.6 974.0,387.5 974.1,403.8 978.5,398.7 978.6,388.4 983.0,393.7 983.1,433.0 987.5,433.0 987.6,388.9 992.0,389.0 992.1,411.6 996.5,414.1 996.6,429.5 1001.0,425.9 1001.1,395.4 1005.5,395.5 1005.6,385.3 1010.0,387.0 1010.1,399.3 1014.5,400.8 1014.6,413.1 1019.0,411.6 1019.1,393.8 1023.5,396.1 1023.6,387.2 1028.0,379.2 1028.1,377.4 1032.5,371.5 1032.6,387.4 1036.9,385.8 1037.1,395.0 1041.4,389.8 1041.6,381.5 1045.9,383.2 1046.1,401.2 1050.4,404.1 1050.6,412.8 1054.9,413.5 1055.1,389.2 1059.4,382.9 1059.6,391.9 1063.9,390.2 1064.1,403.3 1068.4,399.9 1068.6,415.8 1072.9,413.9 1073.1,395.9 1077.4,393.6 1077.6,433.0 1081.9,433.0 1082.1,392.0 1086.4,386.7 1086.6,386.2 1090.9,390.5 1091.1,423.6 1095.4,422.7 1095.5,414.5 1099.9,412.1 1100.0,415.0 1104.4,412.9 1104.5,387.7 1108.9,392.3 1109.0,426.1 1113.4,423.9 1113.5,414.3 1117.9,411.7 1118.0,387.3 1122.4,385.3 1122.5,387.2 1126.9,375.9 1127.0,433.6 1131.4,428.7 1131.5,420.1 1135.9,422.6 1136.0,396.7 1140.4,393.3 1140.5,414.5 1144.9,413.2 1145.0,379.9 1149.4,385.3 1149.5,416.4 1153.9,419.8 1154.0,398.4 1158.4,394.5 1158.5,424.1 1162.9,421.4 1163.0,376.9 1167.4,380.3 1167.5,414.5 1171.9,419.4 1172.0,416.0 1176.4,408.6 1176.5,435.1 1180.9,434.8 1181.0,379.5 1185.4,385.8 1185.5,395.9 1189.9,394.3 1190.0,395.6 1194.4,396.5 1194.5,394.4 1198.9,390.8 1199.0,376.5 1203.4,377.1 1203.5,410.8 1207.9,424.1 1208.0,432.1 1212.4,426.0 1212.5,422.9 1216.8,421.0 1217.0,387.6 1221.3,395.4 1221.5,438.8 1225.8,431.6 1226.0,427.4 1230.3,422.7 1230.5,423.7 1234.8,423.6 1235.0,415.6 1239.3,415.3 1239.5,409.8 1243.8,416.7 1244.0,439.7 1248.3,440.8 1248.5,447.1 1252.8,443.5 1253.0,422.8 1257.3,424.5 1257.5,405.9 1261.8,404.3 1262.0,407.2 1266.3,413.2 1266.5,414.0 1270.8,417.3 1271.0,427.4 1275.3,431.7 1275.5,416.3 1279.8,414.6 1279.9,432.2 1284.3,420.9 1284.4,402.9 1288.8,407.9 1288.9,432.0 1293.3,424.6 1293.4,414.9 1297.8,423.1 1297.9,423.5 1302.3,424.0 1302.4,414.0 1306.8,422.4 1306.9,415.4 1311.3,420.7 1311.4,388.0 1315.8,393.4 1315.9,401.0 1320.3,411.0 1320.4,413.1 1324.8,408.0 1324.9,458.8 1329.3,465.5 1329.4,432.9 1333.8,437.2 1333.9,444.3 1338.3,436.4 1338.4,427.9 1342.8,420.9 1342.9,466.7 1347.3,466.2 1347.4,403.5 1351.8,387.1 1351.9,397.2 1356.3,400.6 1356.4,437.4 1360.8,439.3 1360.9,430.9 1365.3,438.0 1365.4,434.2 1369.8,430.5 1369.9,420.2 1374.3,419.7 1374.4,408.1 1378.8,408.3 1378.9,387.1 1383.3,383.9 1383.4,416.8 1387.8,415.9 1387.9,406.0 1392.3,407.8 1392.4,420.8 1396.7,416.6 1396.9,398.6 1401.2,392.9 1401.4,403.3 1405.7,400.0 1405.9,392.9 1410.2,400.0 1410.4,432.3 1414.7,437.2 1414.9,417.4 1419.2,421.0 1419.4,426.8 1423.7,420.2 1423.9,391.0 1428.2,385.6 1428.4,406.9 1432.7,408.8 1432.9,417.2 1437.2,415.7 1437.4,426.7 1441.7,424.3" stroke="#000000"/>
<polyline points="821.2,411.2 825.6,420.8 825.7,401.0 830.1,408.0 830.2,373.4 834.6,372.5 834.7,383.7 839.1,391.2 839.2,434.4 843.6,437.5 843.7,401.7 848.1,406.8 848.2,416.2 852.6,414.1 852.7,397.2 857.0,403.4 857.2,428.6 861.5,423.7 861.7,405.2 866.0,392.4 866.2,389.0 870.5,401.3 870.7,371.9 875.0,380.8 875.2,394.7 879.5,397.7 879.7,392.3 884.0,397.8 884.2,433.2 888.5,431.6 888.7,365.8 893.0,365.4 893.2,438.1 897.5,441.6 897.7,383.9 902.0,381.1 902.2,419.2 906.5,408.0 906.7,422.0 911.0,423.7 911.2,420.7 915.5,418.5 915.7,418.4 920.0,413.5 920.1,401.9 924.5,384.7 924.6,402.2 929.0,381.9 929.1,346.8 933.5,358.6 933.6,414.6 938.0,408.8 938.1,384.8 942.5,379.5 942.6,401.3 947.0,400.2 947.1,367.4 951.5,369.0 951.6,421.8 956.0,421.0 956.1,389.2 960.5,381.4 960.6,372.2 965.0,374.2 965.1,416.0 969.5,402.6 969.6,380.7 974.0,379.1 974.1,364.1 978.5,360.8 978.6,336.6 983.0,335.1 983.1,343.9 987.5,341.1 987.6,378.4 992.0,388.5 992.1,406.9 996.5,406.9 996.6,365.2 1001.0,385.7 1001.1,372.6 1005.5,371.8 1005.6,364.4 1010.0,364.0 1010.1,397.9 1014.5,391.2 1014.6,396.4 1019.0,400.9 1019.1,400.3 1023.5,399.5 1023.6,399.4 1028.0,392.9 1028.1,384.7 1032.5,382.0 1032.6,382.0 1036.9,386.1 1037.1,337.6 1041.4,342.0 1041.6,391.8 1045.9,398.3 1046.1,388.2 1050.4,390.4 1050.6,371.6 1054.9,364.3 1055.1,390.3 1059.4,397.3 1059.6,390.7 1063.9,386.5 1064.1,381.7 1068.4,386.1 1068.6,367.7 1072.9,368.8 1073.1,413.3 1077.4,403.3 1077.6,358.2 1081.9,358.0 1082.1,387.1 1086.4,394.4 1086.6,386.0 1090.9,384.6 1091.1,363.9 1095.4,364.6 1095.5,368.8 1099.9,372.7 1100.0,366.9 1104.4,357.7 1104.5,387.8 1108.9,381.6 1109.0,391.2 1113.4,386.6 1113.5,378.5 1117.9,371.5 1118.0,419.3 1122.4,397.7 1122.5,364.0 1126.9,358.3 1127.0,396.4 1131.4,404.7 1131.5,411.2 1135.9,408.5 1136.0,343.9 1140.4,347.4 1140.5,387.4 1144.9,388.2 1145.0,417.7 1149.4,403.4 1149.5,347.3 1153.9,361.1 1154.0,397.6 1158.4,384.9 1158.5,357.1 1162.9,364.1 1163.0,412.8 1167.4,405.7 1167.5,387.2 1171.9,391.0 1172.0,424.1 1176.4,426.5 1176.5,423.0 1180.9,428.6 1181.0,406.9 1185.4,406.3 1185.5,382.1 1189.9,389.9 1190.0,371.6 1194.4,382.4 1194.5,344.8 1198.9,345.1 1199.0,411.0 1203.4,422.9 1203.5,372.5 1207.9,369.5 1208.0,392.2 1212.4,400.2 1212.5,389.9 1216.8,390.1 1217.0,414.7 1221.3,427.6 1221.5,426.1 1225.8,428.1 1226.0,409.3 1230.3,404.2 1230.5,410.1 1234.8,410.5 1235.0,380.3 1239.3,385.1 1239.5,384.2 1243.8,397.7 1244.0,342.1 1248.3,346.7 1248.5,383.7 1252.8,372.6 1253.0,374.2 1257.3,385.2 1257.5,354.3 1261.8,357.9 1262.0,368.3 1266.3,374.5 1266.5,381.8 1270.8,379.3 1271.0,425.8 1275.3,425.8 1275.5,384.0 1279.8,388.2 1279.9,356.9 1284.3,371.8 1284.4,357.0 1288.8,364.4 1288.9,370.8 1293.3,368.8 1293.4,370.7 1297.8,352.7 1297.9,397.6 1302.3,389.4 1302.4,368.6 1306.8,363.5 1306.9,409.6 1311.3,416.8 1311.4,351.5 1315.8,365.8 1315.9,379.9 1320.3,381.2 1320.4,375.0 1324.8,384.4 1324.9,370.8 1329.3,372.4 1329.4,385.3 1333.8,383.8 1333.9,382.9 1338.3,392.7 1338.4,357.5 1342.8,363.9 1342.9,386.9 1347.3,385.2 1347.4,405.8 1351.8,402.1 1351.9,370.9 1356.3,367.1 1356.4,410.0 1360.8,415.0 1360.9,350.9 1365.3,353.7 1365.4,378.7 1369.8,375.2 1369.9,376.0 1374.3,369.5 1374.4,334.6 1378.8,333.9 1378.9,333.0 1383.3,338.8 1383.4,372.1 1387.8,372.9 1387.9,363.7 1392.3,355.2 1392.4,359.0 1396.7,356.3 1396.9,352.7 1401.2,347.0 1401.4,381.3 1405.7,380.3 1405.9,373.9 1410.2,370.9 1410.4,353.6 1414.7,359.9 1414.9,368.5 1419.2,366.7 1419.4,364.9 1423.7,362.6 1423.9,352.5 1428.2,355.9 1428.4,391.2 1432.7,392.9 1432.9,390.0 1437.2,393.4 1437.4,418.1 1441.7,418.1" stroke="#007f00"/>
<polyline points="821.2,413.9 825.6,417.6 825.7,431.8 830.1,429.7 830.2,401.1 834.6,398.8 834.7,394.2 839.1,394.2 839.2,370.8 843.6,372.8 843.7,393.9 848.1,403.6 848.2,412.3 852.6,412.4 852.7,413.4 857.0,422.5 857.2,376.0 861.5,380.4 861.7,361.6 866.0,369.2 866.2,391.1 870.5,383.5 870.7,429.1 875.0,418.9 875.2,411.3 879.5,417.8 879.7,357.8 884.0,358.4 884.2,378.8 888.5,377.2 888.7,418.2 893.0,403.8 893.2,376.0 897.5,368.4 897.7,418.1 902.0,417.2 902.2,358.4 906.5,357.1 906.7,381.5 911.0,376.3 911.2,390.3 915.5,382.9 915.7,363.9 920.0,355.4 920.1,368.0 924.5,367.9 924.6,379.2 929.0,369.3 929.1,363.3 933.5,359.8 933.6,342.7 938.0,348.9 938.1,388.2 942.5,394.7 942.6,367.0 947.0,364.2 947.1,371.9 951.5,376.1 951.6,360.2 956.0,360.2 956.1,392.2 960.5,387.4 960.6,348.4 965.0,350.4 965.1,353.2 969.5,351.0 969.6,362.4 974.0,356.2 974.1,377.7 978.5,369.4 978.6,361.7 983.0,357.4 983.1,368.2 987.5,370.4 987.6,370.8 992.0,370.1 992.1,338.2 996.5,331.6 996.6,373.1 1001.0,372.1 1001.1,314.1 1005.5,310.8 1005.6,331.5 1010.0,337.9 1010.1,384.4 1014.5,384.3 1014.6,330.0 1019.0,330.3 1019.1,367.2 1023.5,366.4 1023.6,339.2 1028.0,337.1 1028.1,353.4 1032.5,338.0 1032.6,378.7 1036.9,380.7 1037.1,315.0 1041.4,314.0 1041.6,349.5 1045.9,342.2 1046.1,320.7 1050.4,324.2 1050.6,362.1 1054.9,355.6 1055.1,331.4 1059.4,332.3 1059.6,369.9 1063.9,351.3 1064.1,347.0 1068.4,346.0 1068.6,360.1 1072.9,360.8 1073.1,319.6 1077.4,308.3 1077.6,325.9 1081.9,337.3 1082.1,294.4 1086.4,293.8 1086.6,325.8 1090.9,324.3 1091.1,315.7 1095.4,314.4 1095.5,316.0 1099.9,314.6 1100.0,357.0 1104.4,353.8 1104.5,334.2 1108.9,338.5 1109.0,310.8 1113.4,321.0 1113.5,356.1 1117.9,342.8 1118.0,301.0 1122.4,304.2 1122.5,310.8 1126.9,318.1 1127.0,324.8 1131.4,322.0 1131.5,338.9 1135.9,347.7 1136.0,344.6 1140.4,349.9 1140.5,330.0 1144.9,328.2 1145.0,342.9 1149.4,338.9 1149.5,359.8 1153.9,363.8 1154.0,337.7 1158.4,327.5 1158.5,367.4 1162.9,378.5 1163.0,373.5 1167.4,386.6 1167.5,365.0 1171.9,369.6 1172.0,326.0 1176.4,328.3 1176.5,357.3 1180.9,355.1 1181.0,368.8 1185.4,369.2 1185.5,371.5 1189.9,371.3 1190.0,332.2 1194.4,348.2 1194.5,369.7 1198.9,374.9 1199.0,382.0 1203.4,388.9 1203.5,335.2 1207.9,344.0 1208.0,379.9 1212.4,374.3 1212.5,364.4 1216.8,359.4 1217.0,353.5 1221.3,349.6 1221.5,357.6 1225.8,367.8 1226.0,350.7 1230.3,363.4 1230.5,334.0 1234.8,343.1 1235.0,376.2 1239.3,386.4 1239.5,394.1 1243.8,389.4 1244.0,414.6 1248.3,414.6 1248.5,377.6 1252.8,372.7 1253.0,379.3 1257.3,380.0 1257.5,361.2 1261.8,358.2 1262.0,379.4 1266.3,383.2 1266.5,374.9 1270.8,371.7 1271.0,386.3 1275.3,374.2 1275.5,379.3 1279.8,379.0 1279.9,353.8 1284.3,360.2 1284.4,375.7 1288.8,376.5 1288.9,378.6 1293.3,363.6 1293.4,334.6 1297.8,329.8 1297.9,359.3 1302.3,354.9 1302.4,391.4 1306.8,396.8 1306.9,327.7 1311.3,335.4 1311.4,373.2 1315.8,371.6 1315.9,406.5 1320.3,388.7 1320.4,354.7 1324.8,357.6 1324.9,360.9 1329.3,358.4 1329.4,385.8 1333.8,385.3 1333.9,366.6 1338.3,382.0 1338.4,400.0 1342.8,393.0 1342.9,358.4 1347.3,365.2 1347.4,343.9 1351.8,341.7 1351.9,351.6 1356.3,357.0 1356.4,369.5 1360.8,359.3 1360.9,337.5 1365.3,332.3 1365.4,386.2 1369.8,392.6 1369.9,365.0 1374.3,365.1 1374.4,373.3 1378.8,372.5 1378.9,399.3 1383.3,391.8 1383.4,383.3 1387.8,388.4 1387.9,375.5 1392.3,375.3 1392.4,373.1 1396.7,366.8 1396.9,374.3 1401.2,383.1 1401.4,375.1 1405.7,373.9 1405.9,357.8 1410.2,358.0 1410.4,368.0 1414.7,370.3 1414.9,337.6 1419.2,333.2 1419.4,366.1 1423.7,366.1 1423.9,356.7 1428.2,370.5 1428.4,338.7 1432.7,337.8 1432.9,359.6 1437.2,361.8 1437.4,375.1 1441.7,368.9" stroke="#ff00ff"/>
<polyline points="821.2,392.8 825.6,399.1 825.7,387.1 830.1,386.0 830.2,462.2 834.6,461.7 834.7,423.4 839.1,421.5 839.2,391.9 843.6,391.6 843.7,387.8 848.1,385.2 848.2,424.0 852.6,433.5 852.7,384.7 857.0,386.1 857.2,410.4 861.5,406.9 861.7,369.1 866.0,368.7 866.2,410.8 870.5,408.7 870.7,433.4 875.0,435.6 875.2,426.7 879.5,408.9 879.7,385.4 884.0,359.3 884.2,373.8 888.5,372.7 888.7,342.0 893.0,349.2 893.2,344.9 897.5,346.1 897.7,336.5 902.0,337.5 902.2,358.8 906.5,334.0 906.7,312.7 911.0,293.7 911.2,316.5 915.5,315.3 915.7,309.4 920.0,309.3 920.1,306.0 924.5,302.8 924.6,296.9 929.0,321.5 929.1,344.7 933.5,338.8 933.6,343.7 938.0,335.8 938.1,252.1 942.5,255.9 942.6,296.1 947.0,311.7 947.1,265.7 951.5,253.6 951.6,257.9 956.0,255.1 956.1,266.7 960.5,251.8 960.6,269.7 965.0,259.8 965.1,241.6 969.5,252.2 969.6,267.1 974.0,290.8 974.1,243.3 978.5,235.1 978.6,305.5 983.0,309.6 983.1,283.7 987.5,253.4 987.6,269.5 992.0,260.7 992.1,190.5 996.5,217.0 996.6,210.7 1001.0,232.4 1001.1,272.6 1005.5,298.4 1005.6,169.4 1010.0,150.2 1010.1,243.9 1014.5,257.3 1014.6,235.6 1019.0,208.0 1019.1,202.5 1023.5,188.9 1023.6,149.5 1028.0,141.3 1028.1,182.9 1032.5,173.5 1032.6,163.8 1036.9,153.1 1037.1,166.8 1041.4,168.5 1041.6,195.1 1045.9,197.4 1046.1,160.5 1050.4,164.5 1050.6,160.3 1054.9,205.3 1055.1,243.9 1059.4,242.6 1059.6,238.9 1063.9,244.0 1064.1,291.8 1068.4,283.3 1068.6,264.8 1072.9,281.2 1073.1,243.5 1077.4,246.6 1077.6,217.0 1081.9,199.0 1082.1,255.5 1086.4,261.9 1086.6,238.1 1090.9,226.3 1091.1,213.1 1095.4,212.1 1095.5,242.9 1099.9,247.4 1100.0,217.0 1104.4,235.6 1104.5,167.6 1108.9,215.2 1109.0,302.8 1113.4,292.2 1113.5,213.4 1117.9,222.3 1118.0,317.9 1122.4,322.4 1122.5,231.6 1126.9,228.8 1127.0,241.4 1131.4,246.9 1131.5,277.8 1135.9,267.9 1136.0,300.6 1140.4,293.4 1140.5,241.5 1144.9,254.3 1145.0,260.1 1149.4,277.4 1149.5,249.4 1153.9,247.5 1154.0,291.5 1158.4,289.4 1158.5,220.6 1162.9,238.7 1163.0,307.0 1167.4,297.3 1167.5,285.7 1171.9,271.5 1172.0,262.8 1176.4,275.6 1176.5,202.1 1180.9,204.3 1181.0,308.9 1185.4,316.5 1185.5,275.4 1189.9,312.1 1190.0,213.6 1194.4,201.5 1194.5,290.1 1198.9,296.8 1199.0,303.7 1203.4,322.6 1203.5,254.9 1207.9,244.9 1208.0,280.7 1212.4,274.2 1212.5,230.2 1216.8,242.8 1217.0,307.8 1221.3,353.6 1221.5,316.8 1225.8,354.2 1226.0,349.5 1230.3,361.9 1230.5,355.1 1234.8,305.3 1235.0,357.2 1239.3,327.9 1239.5,241.0 1243.8,249.9 1244.0,328.8 1248.3,338.7 1248.5,346.3 1252.8,369.9 1253.0,335.7 1257.3,405.4 1257.5,357.4 1261.8,395.9 1262.0,408.2 1266.3,399.5 1266.5,391.8 1270.8,383.7 1271.0,384.8 1275.3,378.5 1275.5,382.3 1279.8,385.6 1279.9,403.8 1284.3,408.5 1284.4,337.3 1288.8,343.7 1288.9,464.5 1293.3,464.1 1293.4,461.1 1297.8,426.2 1297.9,382.5 1302.3,369.6 1302.4,380.6 1306.8,404.1 1306.9,412.5 1311.3,412.5 1311.4,376.3 1315.8,371.9 1315.9,375.5 1320.3,376.0 1320.4,412.5 1324.8,412.5 1324.9,348.8 1329.3,331.5 1329.4,322.5 1333.8,322.6 1333.9,300.1 1338.3,300.1 1338.4,372.4 1342.8,366.5 1342.9,350.7 1347.3,389.1 1347.4,418.7 1351.8,478.8 1351.9,398.8 1356.3,384.5 1356.4,515.4 1360.8,515.1 1360.9,424.2 1365.3,446.2 1365.4,468.1 1369.8,453.2 1369.9,416.9 1374.3,411.2 1374.4,408.3 1378.8,424.8 1378.9,401.9 1383.3,410.1 1383.4,500.3 1387.8,491.4 1387.9,499.6 1392.3,493.1 1392.4,430.7 1396.7,426.1 1396.9,458.8 1401.2,475.5 1401.4,435.4 1405.7,434.8 1405.9,428.5 1410.2,443.0 1410.4,437.2 1414.7,441.5 1414.9,418.8 1419.2,405.8 1419.4,421.6 1423.7,428.9 1423.9,421.6 1428.2,414.7 1428.4,485.5 1432.7,473.5 1432.9,374.6 1437.2,370.6 1437.4,414.2 1441.7,422.2" stroke="#0000ff"/>
<polyline points="821.2,409.4 825.6,405.6 825.7,408.4 830.1,407.9 830.2,423.9 834.6,405.2 834.7,431.6 839.1,422.6 839.2,425.1 843.6,421.0 843.7,441.3 848.1,434.7 848.2,406.3 852.6,417.7 852.7,377.4 857.0,381.2 857.2,427.9 861.5,425.1 861.7,427.5 866.0,425.5 866.2,405.2 870.5,406.7 870.7,406.8 875.0,394.5 875.2,399.9 879.5,360.5 879.7,375.9 884.0,387.4 884.2,361.1 888.5,363.5 888.7,350.3 893.0,340.1 893.2,388.8 897.5,377.6 897.7,371.0 902.0,364.2 902.2,396.8 906.5,381.7 906.7,358.0 911.0,321.6 911.2,295.0 915.5,297.2 915.7,292.4 920.0,282.2 920.1,312.5 924.5,302.9 924.6,269.9 929.0,260.6 929.1,276.9 933.5,256.0 933.6,279.7 938.0,273.1 938.1,325.7 942.5,313.8 942.6,261.1 947.0,256.0 947.1,232.4 951.5,235.8 951.6,213.7 956.0,225.3 956.1,291.6 960.5,277.7 960.6,248.3 965.0,235.6 965.1,270.4 969.5,272.3 969.6,271.7 974.0,233.3 974.1,179.1 978.5,172.8 978.6,270.4 983.0,258.5 983.1,208.9 987.5,170.1 987.6,162.1 992.0,166.5 992.1,220.9 996.5,223.2 996.6,182.6 1001.0,180.8 1001.1,189.9 1005.5,193.3 1005.6,184.6 1010.0,165.8 1010.1,261.5 1014.5,207.2 1014.6,172.1 1019.0,135.3 1019.1,107.8 1023.5,91.1 1023.6,183.8 1028.0,149.9 1028.1,60.6 1032.5,57.0 1032.6,105.7 1036.9,108.7 1037.1,97.5 1041.4,92.9 1041.6,62.6 1045.9,64.0 1046.1,83.1 1050.4,88.3 1050.6,114.3 1054.9,148.0 1055.1,112.1 1059.4,129.6 1059.6,130.2 1063.9,135.9 1064.1,153.9 1068.4,158.9 1068.6,133.3 1072.9,128.8 1073.1,159.4 1077.4,147.6 1077.6,140.8 1081.9,138.9 1082.1,108.4 1086.4,113.4 1086.6,179.9 1090.9,176.8 1091.1,151.8 1095.4,147.3 1095.5,170.6 1099.9,183.8 1100.0,153.0 1104.4,166.4 1104.5,204.1 1108.9,204.1 1109.0,198.7 1113.4,182.5 1113.5,168.9 1117.9,173.5 1118.0,88.0 1122.4,88.5 1122.5,135.0 1126.9,132.5 1127.0,224.9 1131.4,224.2 1131.5,216.8 1135.9,208.3 1136.0,164.9 1140.4,171.7 1140.5,265.4 1144.9,261.4 1145.0,223.9 1149.4,208.0 1149.5,195.9 1153.9,199.9 1154.0,145.3 1158.4,159.4 1158.5,178.4 1162.9,173.3 1163.0,217.1 1167.4,219.4 1167.5,238.7 1171.9,217.7 1172.0,206.4 1176.4,208.0 1176.5,143.4 1180.9,161.8 1181.0,216.0 1185.4,227.1 1185.5,246.4 1189.9,216.7 1190.0,209.0 1194.4,207.0 1194.5,219.5 1198.9,200.1 1199.0,220.0 1203.4,213.4 1203.5,235.8 1207.9,237.4 1208.0,209.6 1212.4,211.1 1212.5,239.1 1216.8,233.4 1217.0,156.1 1221.3,213.5 1221.5,237.1 1225.8,284.7 1226.0,324.5 1230.3,371.2 1230.5,345.5 1234.8,309.0 1235.0,335.0 1239.3,302.5 1239.5,264.1 1243.8,242.4 1244.0,285.5 1248.3,296.3 1248.5,261.4 1252.8,272.2 1253.0,298.9 1257.3,358.0 1257.5,330.6 1261.8,356.4 1262.0,410.1 1266.3,417.6 1266.5,415.6 1270.8,407.7 1271.0,366.8 1275.3,373.0 1275.5,384.5 1279.8,379.6 1279.9,374.9 1284.3,358.0 1284.4,305.2 1288.8,305.2 1288.9,371.8 1293.3,375.4 1293.4,375.4 1297.8,345.9 1297.9,315.9 1302.3,293.5 1302.4,277.7 1306.8,269.3 1306.9,283.8 1311.3,302.7 1311.4,302.8 1315.8,300.6 1315.9,257.9 1320.3,270.1 1320.4,263.3 1324.8,285.0 1324.9,333.6 1329.3,333.7 1329.4,290.8 1333.8,288.5 1333.9,307.2 1338.3,301.9 1338.4,329.7 1342.8,338.6 1342.9,299.3 1347.3,315.7 1347.4,360.9 1351.8,437.8 1351.9,391.5 1356.3,379.9 1356.4,413.6 1360.8,403.3 1360.9,421.9 1365.3,421.4 1365.4,402.5 1369.8,409.5 1369.9,416.1 1374.3,419.3 1374.4,485.1 1378.8,478.3 1378.9,455.0 1383.3,445.3 1383.4,411.4 1387.8,409.9 1387.9,473.6 1392.3,465.7 1392.4,376.4 1396.7,391.2 1396.9,469.5 1401.2,459.4 1401.4,395.4 1405.7,401.9 1405.9,442.7 1410.2,440.1 1410.4,400.1 1414.7,406.4 1414.9,424.6 1419.2,408.5 1419.4,470.6 1423.7,434.2 1423.9,354.9 1428.2,330.3 1428.4,330.7 1432.7,304.5 1432.9,341.8 1437.2,339.1 1437.4,346.7 1441.7,335.7" stroke="#ff0000"/>
</g>
<rect x="825.70" y="45.20" width="607.50" height="459.30" fill="none" stroke="#000" stroke-width="3" />
<line x1="825.70" y1="478.95" x2="830.20" y2="478.95" stroke="#000" stroke-width="2.5" />
<line x1="825.70" y1="402.30" x2="834.40" y2="402.30" stroke="#000" stroke-width="2.5" />
<text x="815.9" y="411.9" font-size="30.5" text-anchor="end" fill="#000" >0.00</text>
<line x1="825.70" y1="325.65" x2="830.20" y2="325.65" stroke="#000" stroke-width="2.5" />
<line x1="825.70" y1="249.00" x2="834.40" y2="249.00" stroke="#000" stroke-width="2.5" />
<text x="815.9" y="258.6" font-size="30.5" text-anchor="end" fill="#000" >0.03</text>
<line x1="825.70" y1="172.35" x2="830.20" y2="172.35" stroke="#000" stroke-width="2.5" />
<line x1="825.70" y1="95.70" x2="834.40" y2="95.70" stroke="#000" stroke-width="2.5" />
<text x="815.9" y="105.3" font-size="30.5" text-anchor="end" fill="#000" >0.06</text>
<line x1="915.65" y1="504.50" x2="915.65" y2="500.00" stroke="#000" stroke-width="2.5" />
<line x1="1005.60" y1="504.50" x2="1005.60" y2="495.80" stroke="#000" stroke-width="2.5" />
<line x1="1095.55" y1="504.50" x2="1095.55" y2="500.00" stroke="#000" stroke-width="2.5" />
<line x1="1185.50" y1="504.50" x2="1185.50" y2="495.80" stroke="#000" stroke-width="2.5" />
<line x1="1275.45" y1="504.50" x2="1275.45" y2="500.00" stroke="#000" stroke-width="2.5" />
<line x1="1365.40" y1="504.50" x2="1365.40" y2="495.80" stroke="#000" stroke-width="2.5" />
<text x="825.7" y="538.3" font-size="30.5" text-anchor="middle" fill="#000" >440</text>
<text x="1005.6" y="538.3" font-size="30.5" text-anchor="middle" fill="#000" >480</text>
<text x="1185.5" y="538.3" font-size="30.5" text-anchor="middle" fill="#000" >520</text>
<text x="1365.4" y="538.3" font-size="30.5" text-anchor="middle" fill="#000" >560</text>
<text x="987.0" y="576.6" font-size="37.8" text-anchor="start" fill="#000" >Wavelength (nm)</text>
<text x="0.0" y="0.0" font-size="38" text-anchor="middle" fill="#000" transform="translate(753,300) rotate(-90)">ΔOD</text>
<text x="721.3" y="41.2" font-size="37.5" text-anchor="start" fill="#000" >(b)</text>
<line x1="1295.60" y1="69.40" x2="1354.30" y2="69.40" stroke="#000" stroke-width="2.2" />
<text x="1368.0" y="78.4" font-size="30.5" text-anchor="start" fill="#000" >0</text>
<text x="1427.8" y="78.4" font-size="30.5" text-anchor="end" fill="#000" >ps</text>
<line x1="1295.60" y1="107.90" x2="1354.30" y2="107.90" stroke="#ff0000" stroke-width="2.2" />
<text x="1362.0" y="116.9" font-size="30.5" text-anchor="start" fill="#000" >10 ps</text>
<line x1="1295.60" y1="146.80" x2="1354.30" y2="146.80" stroke="#0000ff" stroke-width="2.2" />
<text x="1362.0" y="155.8" font-size="30.5" text-anchor="start" fill="#000" >15 ps</text>
<line x1="1295.60" y1="185.80" x2="1354.30" y2="185.80" stroke="#ff00ff" stroke-width="2.2" />
<text x="1362.0" y="194.8" font-size="30.5" text-anchor="start" fill="#000" >30 ps</text>
<line x1="1295.60" y1="224.50" x2="1354.30" y2="224.50" stroke="#007f00" stroke-width="2.2" />
<text x="1362.0" y="233.5" font-size="30.5" text-anchor="start" fill="#000" >50 ps</text>
<text x="840.0" y="483.3" font-size="32.2">400 nm excitation <tspan dx="20">6.4×10</tspan><tspan font-size="19" dy="-14">3</tspan><tspan dy="14"> mW/cm</tspan><tspan font-size="19" dy="-14">2</tspan></text>
<clipPath id="clipC"><rect x="105" y="627" width="675" height="531"/></clipPath>
<g clip-path="url(#clipC)" fill="none" stroke="#3a3aff" stroke-width="0.85">
<circle cx="134.1" cy="745.5" r="3.6"/>
<circle cx="135.2" cy="735.8" r="3.6"/>
<circle cx="136.3" cy="732.6" r="3.6"/>
<circle cx="137.3" cy="734.2" r="3.6"/>
<circle cx="138.4" cy="744.2" r="3.6"/>
<circle cx="139.5" cy="730.6" r="3.6"/>
<circle cx="140.6" cy="733.1" r="3.6"/>
<circle cx="141.6" cy="733.1" r="3.6"/>
<circle cx="142.7" cy="732.8" r="3.6"/>
<circle cx="143.8" cy="730.4" r="3.6"/>
<circle cx="144.9" cy="722.8" r="3.6"/>
<circle cx="146.0" cy="741.8" r="3.6"/>
<circle cx="147.0" cy="737.5" r="3.6"/>
<circle cx="148.1" cy="726.1" r="3.6"/>
<circle cx="149.2" cy="746.7" r="3.6"/>
<circle cx="150.3" cy="735.6" r="3.6"/>
<circle cx="151.3" cy="742.4" r="3.6"/>
<circle cx="152.4" cy="737.9" r="3.6"/>
<circle cx="153.5" cy="734.6" r="3.6"/>
<circle cx="154.6" cy="750.6" r="3.6"/>
<circle cx="155.7" cy="744.4" r="3.6"/>
<circle cx="156.7" cy="747.1" r="3.6"/>
<circle cx="157.8" cy="739.3" r="3.6"/>
<circle cx="158.9" cy="742.4" r="3.6"/>
<circle cx="160.0" cy="727.7" r="3.6"/>
<circle cx="161.0" cy="741.8" r="3.6"/>
<circle cx="161.8" cy="624.0" r="3.6"/>
<circle cx="162.8" cy="639.9" r="3.6"/>
<circle cx="163.9" cy="637.8" r="3.6"/>
<circle cx="164.9" cy="642.2" r="3.6"/>
<circle cx="165.9" cy="645.2" r="3.6"/>
<circle cx="166.9" cy="656.1" r="3.6"/>
<circle cx="167.9" cy="648.3" r="3.6"/>
<circle cx="168.9" cy="650.7" r="3.6"/>
<circle cx="170.0" cy="654.6" r="3.6"/>
<circle cx="171.0" cy="654.8" r="3.6"/>
<circle cx="172.0" cy="668.0" r="3.6"/>
<circle cx="173.0" cy="667.2" r="3.6"/>
<circle cx="174.0" cy="672.6" r="3.6"/>
<circle cx="175.0" cy="682.7" r="3.6"/>
<circle cx="176.0" cy="670.2" r="3.6"/>
<circle cx="177.1" cy="679.5" r="3.6"/>
<circle cx="178.1" cy="677.3" r="3.6"/>
<circle cx="179.1" cy="662.2" r="3.6"/>
<circle cx="180.1" cy="678.3" r="3.6"/>
<circle cx="181.1" cy="680.7" r="3.6"/>
<circle cx="182.1" cy="675.2" r="3.6"/>
<circle cx="183.2" cy="675.3" r="3.6"/>
<circle cx="184.2" cy="672.5" r="3.6"/>
<circle cx="185.2" cy="690.5" r="3.6"/>
<circle cx="186.2" cy="675.0" r="3.6"/>
<circle cx="187.2" cy="689.9" r="3.6"/>
<circle cx="188.2" cy="698.3" r="3.6"/>
<circle cx="189.3" cy="697.7" r="3.6"/>
<circle cx="190.3" cy="684.0" r="3.6"/>
<circle cx="191.3" cy="687.4" r="3.6"/>
<circle cx="192.3" cy="684.5" r="3.6"/>
<circle cx="193.3" cy="701.2" r="3.6"/>
<circle cx="194.3" cy="697.9" r="3.6"/>
<circle cx="195.4" cy="704.8" r="3.6"/>
<circle cx="196.4" cy="711.2" r="3.6"/>
<circle cx="197.4" cy="697.9" r="3.6"/>
<circle cx="198.4" cy="687.2" r="3.6"/>
<circle cx="199.4" cy="691.3" r="3.6"/>
<circle cx="200.4" cy="705.5" r="3.6"/>
<circle cx="201.5" cy="692.3" r="3.6"/>
<circle cx="202.5" cy="705.5" r="3.6"/>
<circle cx="203.5" cy="699.7" r="3.6"/>
<circle cx="204.5" cy="696.7" r="3.6"/>
<circle cx="205.5" cy="706.1" r="3.6"/>
<circle cx="206.5" cy="710.1" r="3.6"/>
<circle cx="207.6" cy="699.7" r="3.6"/>
<circle cx="208.6" cy="706.2" r="3.6"/>
<circle cx="209.6" cy="709.4" r="3.6"/>
<circle cx="210.6" cy="701.4" r="3.6"/>
<circle cx="211.1" cy="707.8" r="3.6"/>
<circle cx="214.0" cy="704.9" r="3.6"/>
<circle cx="217.0" cy="715.8" r="3.6"/>
<circle cx="219.9" cy="705.0" r="3.6"/>
<circle cx="222.8" cy="718.1" r="3.6"/>
<circle cx="225.7" cy="715.2" r="3.6"/>
<circle cx="228.7" cy="724.0" r="3.6"/>
<circle cx="231.6" cy="707.8" r="3.6"/>
<circle cx="234.5" cy="714.5" r="3.6"/>
<circle cx="237.4" cy="713.1" r="3.6"/>
<circle cx="240.4" cy="725.9" r="3.6"/>
<circle cx="243.3" cy="715.9" r="3.6"/>
<circle cx="246.2" cy="719.5" r="3.6"/>
<circle cx="249.1" cy="711.0" r="3.6"/>
<circle cx="252.1" cy="727.0" r="3.6"/>
<circle cx="255.0" cy="716.6" r="3.6"/>
<circle cx="257.9" cy="713.0" r="3.6"/>
<circle cx="260.8" cy="726.1" r="3.6"/>
<circle cx="263.8" cy="719.1" r="3.6"/>
<circle cx="266.7" cy="726.2" r="3.6"/>
<circle cx="269.6" cy="720.1" r="3.6"/>
<circle cx="272.5" cy="718.8" r="3.6"/>
<circle cx="275.5" cy="713.6" r="3.6"/>
<circle cx="278.4" cy="720.4" r="3.6"/>
<circle cx="281.3" cy="725.5" r="3.6"/>
<circle cx="284.2" cy="718.7" r="3.6"/>
<circle cx="287.2" cy="722.2" r="3.6"/>
<circle cx="290.1" cy="716.4" r="3.6"/>
<circle cx="293.0" cy="726.2" r="3.6"/>
<circle cx="296.0" cy="715.6" r="3.6"/>
<circle cx="298.9" cy="722.4" r="3.6"/>
<circle cx="301.8" cy="722.3" r="3.6"/>
<circle cx="304.7" cy="718.2" r="3.6"/>
<circle cx="307.7" cy="727.1" r="3.6"/>
<circle cx="310.6" cy="727.3" r="3.6"/>
<circle cx="313.5" cy="721.8" r="3.6"/>
<circle cx="316.4" cy="725.4" r="3.6"/>
<circle cx="319.4" cy="724.9" r="3.6"/>
<circle cx="322.3" cy="727.6" r="3.6"/>
<circle cx="325.2" cy="727.3" r="3.6"/>
<circle cx="328.1" cy="720.9" r="3.6"/>
<circle cx="331.1" cy="715.0" r="3.6"/>
<circle cx="334.0" cy="734.0" r="3.6"/>
<circle cx="336.9" cy="717.9" r="3.6"/>
<circle cx="339.8" cy="722.5" r="3.6"/>
<circle cx="342.8" cy="720.1" r="3.6"/>
<circle cx="345.7" cy="726.1" r="3.6"/>
<circle cx="348.6" cy="731.5" r="3.6"/>
<circle cx="351.5" cy="728.7" r="3.6"/>
<circle cx="354.5" cy="733.0" r="3.6"/>
<circle cx="357.4" cy="737.3" r="3.6"/>
<circle cx="360.3" cy="728.5" r="3.6"/>
<circle cx="363.3" cy="726.8" r="3.6"/>
<circle cx="366.2" cy="730.0" r="3.6"/>
<circle cx="369.1" cy="727.5" r="3.6"/>
<circle cx="372.0" cy="737.4" r="3.6"/>
<circle cx="375.0" cy="722.9" r="3.6"/>
<circle cx="377.9" cy="729.8" r="3.6"/>
<circle cx="380.8" cy="728.8" r="3.6"/>
<circle cx="383.7" cy="725.2" r="3.6"/>
<circle cx="386.7" cy="732.5" r="3.6"/>
<circle cx="389.6" cy="714.8" r="3.6"/>
<circle cx="392.5" cy="722.5" r="3.6"/>
<circle cx="395.4" cy="722.7" r="3.6"/>
<circle cx="398.4" cy="728.9" r="3.6"/>
<circle cx="401.3" cy="733.8" r="3.6"/>
<circle cx="404.2" cy="727.1" r="3.6"/>
<circle cx="407.1" cy="734.1" r="3.6"/>
<circle cx="410.1" cy="728.8" r="3.6"/>
<circle cx="413.0" cy="728.9" r="3.6"/>
<circle cx="415.9" cy="723.3" r="3.6"/>
<circle cx="418.8" cy="727.9" r="3.6"/>
<circle cx="421.8" cy="729.6" r="3.6"/>
<circle cx="424.7" cy="722.7" r="3.6"/>
<circle cx="427.6" cy="731.2" r="3.6"/>
<circle cx="430.5" cy="733.6" r="3.6"/>
<circle cx="433.5" cy="733.6" r="3.6"/>
<circle cx="436.4" cy="722.5" r="3.6"/>
<circle cx="439.3" cy="730.6" r="3.6"/>
<circle cx="442.3" cy="734.1" r="3.6"/>
<circle cx="445.2" cy="741.9" r="3.6"/>
<circle cx="448.1" cy="736.8" r="3.6"/>
<circle cx="451.0" cy="729.2" r="3.6"/>
<circle cx="454.0" cy="727.7" r="3.6"/>
<circle cx="456.9" cy="721.7" r="3.6"/>
<circle cx="459.8" cy="735.0" r="3.6"/>
<circle cx="462.7" cy="728.3" r="3.6"/>
<circle cx="465.7" cy="723.9" r="3.6"/>
<circle cx="468.6" cy="744.1" r="3.6"/>
<circle cx="471.5" cy="718.2" r="3.6"/>
<circle cx="474.4" cy="737.7" r="3.6"/>
<circle cx="477.4" cy="737.7" r="3.6"/>
<circle cx="480.3" cy="726.1" r="3.6"/>
<circle cx="483.2" cy="729.0" r="3.6"/>
<circle cx="486.1" cy="724.6" r="3.6"/>
<circle cx="489.1" cy="727.8" r="3.6"/>
<circle cx="492.0" cy="729.8" r="3.6"/>
<circle cx="494.9" cy="732.2" r="3.6"/>
<circle cx="497.8" cy="735.9" r="3.6"/>
<circle cx="500.8" cy="728.2" r="3.6"/>
<circle cx="503.7" cy="742.4" r="3.6"/>
<circle cx="506.6" cy="732.6" r="3.6"/>
<circle cx="509.6" cy="727.2" r="3.6"/>
<circle cx="512.5" cy="738.1" r="3.6"/>
<circle cx="515.4" cy="726.9" r="3.6"/>
<circle cx="518.3" cy="726.2" r="3.6"/>
<circle cx="521.3" cy="731.3" r="3.6"/>
<circle cx="524.2" cy="732.6" r="3.6"/>
<circle cx="527.1" cy="728.6" r="3.6"/>
<circle cx="530.0" cy="728.2" r="3.6"/>
<circle cx="533.0" cy="733.2" r="3.6"/>
<circle cx="535.9" cy="720.2" r="3.6"/>
<circle cx="538.8" cy="723.3" r="3.6"/>
<circle cx="541.7" cy="726.2" r="3.6"/>
<circle cx="544.7" cy="724.0" r="3.6"/>
<circle cx="547.6" cy="724.5" r="3.6"/>
<circle cx="550.5" cy="739.7" r="3.6"/>
<circle cx="553.4" cy="717.6" r="3.6"/>
<circle cx="556.4" cy="740.1" r="3.6"/>
<circle cx="559.3" cy="730.8" r="3.6"/>
<circle cx="562.2" cy="738.3" r="3.6"/>
<circle cx="565.1" cy="728.4" r="3.6"/>
<circle cx="568.1" cy="729.5" r="3.6"/>
<circle cx="571.0" cy="730.7" r="3.6"/>
<circle cx="573.9" cy="748.3" r="3.6"/>
<circle cx="576.8" cy="727.6" r="3.6"/>
<circle cx="579.8" cy="730.7" r="3.6"/>
<circle cx="582.7" cy="743.7" r="3.6"/>
<circle cx="585.6" cy="723.6" r="3.6"/>
<circle cx="588.6" cy="733.0" r="3.6"/>
<circle cx="591.5" cy="736.5" r="3.6"/>
<circle cx="594.4" cy="729.8" r="3.6"/>
<circle cx="597.3" cy="735.2" r="3.6"/>
<circle cx="600.3" cy="730.0" r="3.6"/>
<circle cx="603.2" cy="734.3" r="3.6"/>
<circle cx="606.1" cy="737.3" r="3.6"/>
<circle cx="609.0" cy="738.7" r="3.6"/>
<circle cx="612.0" cy="727.7" r="3.6"/>
<circle cx="614.9" cy="731.7" r="3.6"/>
<circle cx="617.8" cy="736.6" r="3.6"/>
<circle cx="620.7" cy="735.6" r="3.6"/>
<circle cx="623.7" cy="737.3" r="3.6"/>
<circle cx="626.6" cy="720.2" r="3.6"/>
<circle cx="629.5" cy="730.2" r="3.6"/>
<circle cx="632.4" cy="731.4" r="3.6"/>
<circle cx="635.4" cy="723.8" r="3.6"/>
<circle cx="638.3" cy="736.1" r="3.6"/>
<circle cx="641.2" cy="738.6" r="3.6"/>
<circle cx="644.1" cy="735.3" r="3.6"/>
<circle cx="647.1" cy="731.5" r="3.6"/>
<circle cx="650.0" cy="733.6" r="3.6"/>
<circle cx="652.9" cy="734.5" r="3.6"/>
<circle cx="655.9" cy="731.7" r="3.6"/>
<circle cx="658.8" cy="735.1" r="3.6"/>
<circle cx="661.7" cy="738.8" r="3.6"/>
<circle cx="664.6" cy="728.4" r="3.6"/>
<circle cx="667.6" cy="734.1" r="3.6"/>
<circle cx="670.5" cy="734.3" r="3.6"/>
<circle cx="673.4" cy="729.8" r="3.6"/>
<circle cx="676.3" cy="730.3" r="3.6"/>
<circle cx="679.3" cy="739.1" r="3.6"/>
<circle cx="682.2" cy="736.9" r="3.6"/>
<circle cx="685.1" cy="740.7" r="3.6"/>
<circle cx="688.0" cy="739.6" r="3.6"/>
<circle cx="691.0" cy="731.1" r="3.6"/>
<circle cx="693.9" cy="735.6" r="3.6"/>
<circle cx="696.8" cy="738.1" r="3.6"/>
<circle cx="699.7" cy="740.4" r="3.6"/>
<path d="M 160.9 729.6 L 160.9 643.5 M 162.6 636.3 L 163.4 638.6 L 164.3 640.9 L 165.1 643.2 L 166.0 645.5 L 166.8 647.8 L 167.7 650.1 L 168.5 652.3 L 169.4 654.7 L 170.2 657.1 L 171.1 659.5 L 171.9 662.0 L 172.8 664.4 L 173.6 666.8 L 174.5 669.0 L 175.3 671.2 L 176.2 673.1 L 177.0 674.8 L 177.9 676.4 L 178.7 677.8 L 179.6 679.1 L 180.4 680.4 L 181.3 681.6 L 182.1 682.8 L 183.0 684.0 L 183.8 685.0 L 184.7 686.1 L 185.5 687.1 L 186.4 688.0 L 187.2 689.0 L 188.1 689.8 L 188.9 690.7 L 189.8 691.5 L 190.6 692.3 L 191.5 693.0 L 192.3 693.7 L 193.2 694.5 L 194.0 695.2 L 194.9 695.8 L 195.7 696.5 L 197.2 697.7 L 203.6 702.0 L 210.0 705.7 L 216.4 708.7 L 222.7 711.3 L 229.1 713.5 L 235.5 715.3 L 241.9 716.5 L 248.2 717.6 L 254.6 718.5 L 261.0 719.4 L 267.4 720.1 L 273.7 720.8 L 280.1 721.5 L 286.5 722.2 L 292.9 722.8 L 299.2 723.4 L 305.6 724.0 L 312.0 724.5 L 318.4 725.0 L 324.7 725.5 L 331.1 726.0 L 337.5 726.5 L 343.9 727.0 L 350.2 727.4 L 356.6 727.9 L 363.0 728.2 L 369.3 728.6 L 375.7 728.9 L 382.1 729.1 L 388.5 729.4 L 394.8 729.6 L 401.2 729.8 L 407.6 730.0 L 414.0 730.2 L 420.3 730.4 L 426.7 730.5 L 433.1 730.7 L 439.5 730.8 L 445.8 730.9 L 452.2 731.0 L 458.6 731.1 L 465.0 731.2 L 471.3 731.2 L 477.7 731.3 L 484.1 731.4 L 490.5 731.4 L 496.8 731.5 L 503.2 731.6 L 509.6 731.6 L 516.0 731.7 L 522.3 731.7 L 528.7 731.8 L 535.1 731.8 L 541.5 731.9 L 547.8 731.9 L 554.2 732.0 L 560.6 732.0 L 567.0 732.0 L 573.3 732.1 L 579.7 732.1 L 586.1 732.2 L 592.5 732.2 L 598.8 732.2 L 605.2 732.3 L 611.6 732.3 L 618.0 732.3 L 624.3 732.4 L 630.7 732.4 L 637.1 732.4 L 643.5 732.5 L 649.8 732.5 L 656.2 732.5 L 662.6 732.5 L 668.9 732.6 L 675.3 732.6 L 681.7 732.6 L 688.1 732.6 L 694.4 732.6 L 700.8 732.6" fill="none" stroke="#1414e0" stroke-width="2.3"/>
</g>
<line x1="104.00" y1="738.80" x2="110.50" y2="738.80" stroke="#000" stroke-width="2" />
<text x="96.5" y="746.8" font-size="24" text-anchor="end" fill="#000" >0.0</text>
<line x1="104.00" y1="713.17" x2="108.00" y2="713.17" stroke="#000" stroke-width="2" />
<line x1="104.00" y1="687.55" x2="110.50" y2="687.55" stroke="#000" stroke-width="2" />
<text x="96.5" y="695.5" font-size="24" text-anchor="end" fill="#000" >0.5</text>
<line x1="104.00" y1="661.92" x2="108.00" y2="661.92" stroke="#000" stroke-width="2" />
<line x1="104.00" y1="636.30" x2="110.50" y2="636.30" stroke="#000" stroke-width="2" />
<text x="96.5" y="644.3" font-size="24" text-anchor="end" fill="#000" >1.0</text>
<line x1="164.90" y1="759.40" x2="164.90" y2="752.40" stroke="#000" stroke-width="2" />
<line x1="241.90" y1="759.40" x2="241.90" y2="754.90" stroke="#000" stroke-width="2" />
<line x1="318.90" y1="759.40" x2="318.90" y2="752.40" stroke="#000" stroke-width="2" />
<line x1="395.90" y1="759.40" x2="395.90" y2="754.90" stroke="#000" stroke-width="2" />
<line x1="472.90" y1="759.40" x2="472.90" y2="752.40" stroke="#000" stroke-width="2" />
<line x1="549.90" y1="759.40" x2="549.90" y2="754.90" stroke="#000" stroke-width="2" />
<line x1="626.90" y1="759.40" x2="626.90" y2="752.40" stroke="#000" stroke-width="2" />
<line x1="703.90" y1="759.40" x2="703.90" y2="754.90" stroke="#000" stroke-width="2" />
<circle cx="580" cy="654.2" r="3.2" fill="none" stroke="#3a3aff" stroke-width="0.9"/>
<text x="600.9" y="658.0" font-size="33.8" text-anchor="start" fill="#000" >475 nm (Fit)</text>
<text x="339.8" y="692.8" font-size="33">τ<tspan dy="7">1</tspan><tspan dy="-7">=</tspan>4.5 ps <tspan dx="4.5">τ</tspan><tspan dy="7" dx="1">2</tspan><tspan dy="-7" dx="1.5">=</tspan>13.2 ps</text>
<g clip-path="url(#clipC)" fill="none" stroke="#33ffff" stroke-width="0.85">
<circle cx="134.1" cy="876.5" r="3.6"/>
<circle cx="135.2" cy="884.8" r="3.6"/>
<circle cx="136.3" cy="867.3" r="3.6"/>
<circle cx="137.3" cy="866.3" r="3.6"/>
<circle cx="138.4" cy="873.3" r="3.6"/>
<circle cx="139.5" cy="868.8" r="3.6"/>
<circle cx="140.6" cy="859.9" r="3.6"/>
<circle cx="141.6" cy="864.2" r="3.6"/>
<circle cx="142.7" cy="866.6" r="3.6"/>
<circle cx="143.8" cy="866.7" r="3.6"/>
<circle cx="144.9" cy="877.0" r="3.6"/>
<circle cx="146.0" cy="864.9" r="3.6"/>
<circle cx="147.0" cy="882.3" r="3.6"/>
<circle cx="148.1" cy="873.5" r="3.6"/>
<circle cx="149.2" cy="874.2" r="3.6"/>
<circle cx="150.3" cy="882.8" r="3.6"/>
<circle cx="151.3" cy="872.0" r="3.6"/>
<circle cx="152.4" cy="860.3" r="3.6"/>
<circle cx="153.5" cy="873.5" r="3.6"/>
<circle cx="154.6" cy="879.3" r="3.6"/>
<circle cx="155.7" cy="871.9" r="3.6"/>
<circle cx="156.7" cy="865.6" r="3.6"/>
<circle cx="157.8" cy="870.0" r="3.6"/>
<circle cx="158.9" cy="871.3" r="3.6"/>
<circle cx="160.0" cy="880.7" r="3.6"/>
<circle cx="161.0" cy="867.9" r="3.6"/>
<circle cx="161.8" cy="766.3" r="3.6"/>
<circle cx="162.8" cy="761.1" r="3.6"/>
<circle cx="163.9" cy="763.8" r="3.6"/>
<circle cx="164.9" cy="773.2" r="3.6"/>
<circle cx="165.9" cy="793.4" r="3.6"/>
<circle cx="166.9" cy="795.3" r="3.6"/>
<circle cx="167.9" cy="795.9" r="3.6"/>
<circle cx="168.9" cy="788.8" r="3.6"/>
<circle cx="170.0" cy="799.0" r="3.6"/>
<circle cx="171.0" cy="786.4" r="3.6"/>
<circle cx="172.0" cy="796.4" r="3.6"/>
<circle cx="173.0" cy="797.7" r="3.6"/>
<circle cx="174.0" cy="797.1" r="3.6"/>
<circle cx="175.0" cy="802.1" r="3.6"/>
<circle cx="176.0" cy="816.7" r="3.6"/>
<circle cx="177.1" cy="790.8" r="3.6"/>
<circle cx="178.1" cy="799.7" r="3.6"/>
<circle cx="179.1" cy="801.0" r="3.6"/>
<circle cx="180.1" cy="818.9" r="3.6"/>
<circle cx="181.1" cy="828.3" r="3.6"/>
<circle cx="182.1" cy="827.2" r="3.6"/>
<circle cx="183.2" cy="825.3" r="3.6"/>
<circle cx="184.2" cy="812.6" r="3.6"/>
<circle cx="185.2" cy="813.6" r="3.6"/>
<circle cx="186.2" cy="810.8" r="3.6"/>
<circle cx="187.2" cy="806.9" r="3.6"/>
<circle cx="188.2" cy="819.6" r="3.6"/>
<circle cx="189.3" cy="821.8" r="3.6"/>
<circle cx="190.3" cy="828.0" r="3.6"/>
<circle cx="191.3" cy="828.7" r="3.6"/>
<circle cx="192.3" cy="835.5" r="3.6"/>
<circle cx="193.3" cy="824.4" r="3.6"/>
<circle cx="194.3" cy="826.6" r="3.6"/>
<circle cx="195.4" cy="832.6" r="3.6"/>
<circle cx="196.4" cy="836.3" r="3.6"/>
<circle cx="197.4" cy="827.9" r="3.6"/>
<circle cx="198.4" cy="822.5" r="3.6"/>
<circle cx="199.4" cy="832.0" r="3.6"/>
<circle cx="200.4" cy="831.2" r="3.6"/>
<circle cx="201.5" cy="837.8" r="3.6"/>
<circle cx="202.5" cy="836.2" r="3.6"/>
<circle cx="203.5" cy="837.3" r="3.6"/>
<circle cx="204.5" cy="837.6" r="3.6"/>
<circle cx="205.5" cy="840.4" r="3.6"/>
<circle cx="206.5" cy="833.8" r="3.6"/>
<circle cx="207.6" cy="827.9" r="3.6"/>
<circle cx="208.6" cy="844.5" r="3.6"/>
<circle cx="209.6" cy="828.2" r="3.6"/>
<circle cx="210.6" cy="841.6" r="3.6"/>
<circle cx="211.1" cy="841.6" r="3.6"/>
<circle cx="214.0" cy="855.8" r="3.6"/>
<circle cx="217.0" cy="858.9" r="3.6"/>
<circle cx="219.9" cy="837.4" r="3.6"/>
<circle cx="222.8" cy="851.6" r="3.6"/>
<circle cx="225.7" cy="838.9" r="3.6"/>
<circle cx="228.7" cy="845.2" r="3.6"/>
<circle cx="231.6" cy="844.8" r="3.6"/>
<circle cx="234.5" cy="839.4" r="3.6"/>
<circle cx="237.4" cy="848.0" r="3.6"/>
<circle cx="240.4" cy="866.7" r="3.6"/>
<circle cx="243.3" cy="858.7" r="3.6"/>
<circle cx="246.2" cy="844.0" r="3.6"/>
<circle cx="249.1" cy="838.8" r="3.6"/>
<circle cx="252.1" cy="851.1" r="3.6"/>
<circle cx="255.0" cy="855.0" r="3.6"/>
<circle cx="257.9" cy="859.4" r="3.6"/>
<circle cx="260.8" cy="848.9" r="3.6"/>
<circle cx="263.8" cy="862.6" r="3.6"/>
<circle cx="266.7" cy="859.9" r="3.6"/>
<circle cx="269.6" cy="852.5" r="3.6"/>
<circle cx="272.5" cy="853.1" r="3.6"/>
<circle cx="275.5" cy="855.5" r="3.6"/>
<circle cx="278.4" cy="848.4" r="3.6"/>
<circle cx="281.3" cy="861.7" r="3.6"/>
<circle cx="284.2" cy="861.7" r="3.6"/>
<circle cx="287.2" cy="857.7" r="3.6"/>
<circle cx="290.1" cy="855.2" r="3.6"/>
<circle cx="293.0" cy="857.8" r="3.6"/>
<circle cx="296.0" cy="844.9" r="3.6"/>
<circle cx="298.9" cy="859.8" r="3.6"/>
<circle cx="301.8" cy="853.1" r="3.6"/>
<circle cx="304.7" cy="860.2" r="3.6"/>
<circle cx="307.7" cy="855.4" r="3.6"/>
<circle cx="310.6" cy="859.9" r="3.6"/>
<circle cx="313.5" cy="859.9" r="3.6"/>
<circle cx="316.4" cy="848.7" r="3.6"/>
<circle cx="319.4" cy="860.0" r="3.6"/>
<circle cx="322.3" cy="848.6" r="3.6"/>
<circle cx="325.2" cy="862.7" r="3.6"/>
<circle cx="328.1" cy="861.4" r="3.6"/>
<circle cx="331.1" cy="852.7" r="3.6"/>
<circle cx="334.0" cy="873.1" r="3.6"/>
<circle cx="336.9" cy="868.8" r="3.6"/>
<circle cx="339.8" cy="859.4" r="3.6"/>
<circle cx="342.8" cy="857.0" r="3.6"/>
<circle cx="345.7" cy="856.6" r="3.6"/>
<circle cx="348.6" cy="861.9" r="3.6"/>
<circle cx="351.5" cy="868.4" r="3.6"/>
<circle cx="354.5" cy="855.7" r="3.6"/>
<circle cx="357.4" cy="858.0" r="3.6"/>
<circle cx="360.3" cy="867.1" r="3.6"/>
<circle cx="363.3" cy="860.4" r="3.6"/>
<circle cx="366.2" cy="850.7" r="3.6"/>
<circle cx="369.1" cy="860.4" r="3.6"/>
<circle cx="372.0" cy="868.1" r="3.6"/>
<circle cx="375.0" cy="863.9" r="3.6"/>
<circle cx="377.9" cy="863.7" r="3.6"/>
<circle cx="380.8" cy="859.8" r="3.6"/>
<circle cx="383.7" cy="856.7" r="3.6"/>
<circle cx="386.7" cy="867.3" r="3.6"/>
<circle cx="389.6" cy="865.8" r="3.6"/>
<circle cx="392.5" cy="856.4" r="3.6"/>
<circle cx="395.4" cy="858.1" r="3.6"/>
<circle cx="398.4" cy="854.7" r="3.6"/>
<circle cx="401.3" cy="871.0" r="3.6"/>
<circle cx="404.2" cy="868.2" r="3.6"/>
<circle cx="407.1" cy="857.1" r="3.6"/>
<circle cx="410.1" cy="868.4" r="3.6"/>
<circle cx="413.0" cy="861.2" r="3.6"/>
<circle cx="415.9" cy="863.5" r="3.6"/>
<circle cx="418.8" cy="867.6" r="3.6"/>
<circle cx="421.8" cy="855.0" r="3.6"/>
<circle cx="424.7" cy="863.6" r="3.6"/>
<circle cx="427.6" cy="866.5" r="3.6"/>
<circle cx="430.5" cy="864.7" r="3.6"/>
<circle cx="433.5" cy="862.4" r="3.6"/>
<circle cx="436.4" cy="873.0" r="3.6"/>
<circle cx="439.3" cy="869.0" r="3.6"/>
<circle cx="442.3" cy="871.5" r="3.6"/>
<circle cx="445.2" cy="876.3" r="3.6"/>
<circle cx="448.1" cy="858.7" r="3.6"/>
<circle cx="451.0" cy="856.1" r="3.6"/>
<circle cx="454.0" cy="857.6" r="3.6"/>
<circle cx="456.9" cy="874.7" r="3.6"/>
<circle cx="459.8" cy="862.3" r="3.6"/>
<circle cx="462.7" cy="860.8" r="3.6"/>
<circle cx="465.7" cy="868.0" r="3.6"/>
<circle cx="468.6" cy="860.1" r="3.6"/>
<circle cx="471.5" cy="871.3" r="3.6"/>
<circle cx="474.4" cy="871.1" r="3.6"/>
<circle cx="477.4" cy="869.8" r="3.6"/>
<circle cx="480.3" cy="869.2" r="3.6"/>
<circle cx="483.2" cy="870.9" r="3.6"/>
<circle cx="486.1" cy="859.7" r="3.6"/>
<circle cx="489.1" cy="871.4" r="3.6"/>
<circle cx="492.0" cy="868.0" r="3.6"/>
<circle cx="494.9" cy="869.0" r="3.6"/>
<circle cx="497.8" cy="852.8" r="3.6"/>
<circle cx="500.8" cy="870.6" r="3.6"/>
<circle cx="503.7" cy="862.8" r="3.6"/>
<circle cx="506.6" cy="855.1" r="3.6"/>
<circle cx="509.6" cy="872.4" r="3.6"/>
<circle cx="512.5" cy="870.4" r="3.6"/>
<circle cx="515.4" cy="867.6" r="3.6"/>
<circle cx="518.3" cy="873.3" r="3.6"/>
<circle cx="521.3" cy="858.8" r="3.6"/>
<circle cx="524.2" cy="868.5" r="3.6"/>
<circle cx="527.1" cy="859.9" r="3.6"/>
<circle cx="530.0" cy="862.9" r="3.6"/>
<circle cx="533.0" cy="865.8" r="3.6"/>
<circle cx="535.9" cy="860.5" r="3.6"/>
<circle cx="538.8" cy="867.7" r="3.6"/>
<circle cx="541.7" cy="860.0" r="3.6"/>
<circle cx="544.7" cy="873.6" r="3.6"/>
<circle cx="547.6" cy="870.4" r="3.6"/>
<circle cx="550.5" cy="859.3" r="3.6"/>
<circle cx="553.4" cy="878.1" r="3.6"/>
<circle cx="556.4" cy="863.5" r="3.6"/>
<circle cx="559.3" cy="868.6" r="3.6"/>
<circle cx="562.2" cy="869.4" r="3.6"/>
<circle cx="565.1" cy="870.3" r="3.6"/>
<circle cx="568.1" cy="859.0" r="3.6"/>
<circle cx="571.0" cy="875.0" r="3.6"/>
<circle cx="573.9" cy="861.7" r="3.6"/>
<circle cx="576.8" cy="863.7" r="3.6"/>
<circle cx="579.8" cy="868.8" r="3.6"/>
<circle cx="582.7" cy="866.9" r="3.6"/>
<circle cx="585.6" cy="862.5" r="3.6"/>
<circle cx="588.6" cy="869.9" r="3.6"/>
<circle cx="591.5" cy="875.1" r="3.6"/>
<circle cx="594.4" cy="865.0" r="3.6"/>
<circle cx="597.3" cy="871.3" r="3.6"/>
<circle cx="600.3" cy="868.9" r="3.6"/>
<circle cx="603.2" cy="866.3" r="3.6"/>
<circle cx="606.1" cy="862.5" r="3.6"/>
<circle cx="609.0" cy="856.4" r="3.6"/>
<circle cx="612.0" cy="864.8" r="3.6"/>
<circle cx="614.9" cy="866.1" r="3.6"/>
<circle cx="617.8" cy="862.1" r="3.6"/>
<circle cx="620.7" cy="865.2" r="3.6"/>
<circle cx="623.7" cy="876.3" r="3.6"/>
<circle cx="626.6" cy="870.2" r="3.6"/>
<circle cx="629.5" cy="873.8" r="3.6"/>
<circle cx="632.4" cy="862.9" r="3.6"/>
<circle cx="635.4" cy="859.7" r="3.6"/>
<circle cx="638.3" cy="864.9" r="3.6"/>
<circle cx="641.2" cy="872.7" r="3.6"/>
<circle cx="644.1" cy="862.4" r="3.6"/>
<circle cx="647.1" cy="872.4" r="3.6"/>
<circle cx="650.0" cy="865.5" r="3.6"/>
<circle cx="652.9" cy="873.8" r="3.6"/>
<circle cx="655.9" cy="874.8" r="3.6"/>
<circle cx="658.8" cy="874.9" r="3.6"/>
<circle cx="661.7" cy="866.9" r="3.6"/>
<circle cx="664.6" cy="870.8" r="3.6"/>
<circle cx="667.6" cy="864.6" r="3.6"/>
<circle cx="670.5" cy="874.4" r="3.6"/>
<circle cx="673.4" cy="864.3" r="3.6"/>
<circle cx="676.3" cy="870.6" r="3.6"/>
<circle cx="679.3" cy="860.1" r="3.6"/>
<circle cx="682.2" cy="861.4" r="3.6"/>
<circle cx="685.1" cy="868.4" r="3.6"/>
<circle cx="688.0" cy="866.5" r="3.6"/>
<circle cx="691.0" cy="865.8" r="3.6"/>
<circle cx="693.9" cy="864.5" r="3.6"/>
<circle cx="696.8" cy="868.7" r="3.6"/>
<circle cx="699.7" cy="861.0" r="3.6"/>
<path d="M 160.9 863.1 L 160.9 777.0 M 162.6 769.8 L 163.4 772.9 L 164.3 776.0 L 165.1 779.1 L 166.0 782.0 L 166.8 784.7 L 167.7 787.4 L 168.5 789.8 L 169.4 792.0 L 170.2 794.1 L 171.1 796.1 L 171.9 798.0 L 172.8 799.9 L 173.6 801.7 L 174.5 803.4 L 175.3 805.1 L 176.2 806.8 L 177.0 808.3 L 177.9 809.8 L 178.7 811.3 L 179.6 812.7 L 180.4 814.0 L 181.3 815.2 L 182.1 816.4 L 183.0 817.5 L 183.8 818.5 L 184.7 819.5 L 185.5 820.5 L 186.4 821.4 L 187.2 822.3 L 188.1 823.2 L 188.9 824.0 L 189.8 824.9 L 190.6 825.7 L 191.5 826.4 L 192.3 827.2 L 193.2 827.9 L 194.0 828.6 L 194.9 829.3 L 195.7 830.0 L 197.2 831.1 L 203.6 835.1 L 210.0 838.4 L 216.4 841.3 L 222.7 843.7 L 229.1 845.6 L 235.5 847.2 L 241.9 848.6 L 248.2 849.9 L 254.6 851.0 L 261.0 852.0 L 267.4 853.0 L 273.7 853.8 L 280.1 854.6 L 286.5 855.2 L 292.9 855.9 L 299.2 856.4 L 305.6 857.0 L 312.0 857.5 L 318.4 858.0 L 324.7 858.5 L 331.1 858.9 L 337.5 859.4 L 343.9 859.8 L 350.2 860.1 L 356.6 860.5 L 363.0 860.8 L 369.3 861.1 L 375.7 861.5 L 382.1 861.8 L 388.5 862.0 L 394.8 862.3 L 401.2 862.6 L 407.6 862.9 L 414.0 863.1 L 420.3 863.4 L 426.7 863.6 L 433.1 863.8 L 439.5 864.0 L 445.8 864.2 L 452.2 864.4 L 458.6 864.6 L 465.0 864.7 L 471.3 864.9 L 477.7 865.0 L 484.1 865.1 L 490.5 865.2 L 496.8 865.4 L 503.2 865.5 L 509.6 865.6 L 516.0 865.7 L 522.3 865.8 L 528.7 865.9 L 535.1 865.9 L 541.5 866.0 L 547.8 866.1 L 554.2 866.2 L 560.6 866.2 L 567.0 866.3 L 573.3 866.4 L 579.7 866.4 L 586.1 866.5 L 592.5 866.5 L 598.8 866.6 L 605.2 866.6 L 611.6 866.7 L 618.0 866.7 L 624.3 866.8 L 630.7 866.8 L 637.1 866.9 L 643.5 866.9 L 649.8 867.0 L 656.2 867.0 L 662.6 867.0 L 668.9 867.1 L 675.3 867.1 L 681.7 867.1 L 688.1 867.1 L 694.4 867.2 L 700.8 867.2" fill="none" stroke="#00f0f0" stroke-width="2.3"/>
</g>
<line x1="104.00" y1="872.30" x2="110.50" y2="872.30" stroke="#000" stroke-width="2" />
<text x="96.5" y="880.3" font-size="24" text-anchor="end" fill="#000" >0.0</text>
<line x1="104.00" y1="846.67" x2="108.00" y2="846.67" stroke="#000" stroke-width="2" />
<line x1="104.00" y1="821.05" x2="110.50" y2="821.05" stroke="#000" stroke-width="2" />
<text x="96.5" y="829.0" font-size="24" text-anchor="end" fill="#000" >0.5</text>
<line x1="104.00" y1="795.42" x2="108.00" y2="795.42" stroke="#000" stroke-width="2" />
<line x1="104.00" y1="769.80" x2="110.50" y2="769.80" stroke="#000" stroke-width="2" />
<text x="96.5" y="777.8" font-size="24" text-anchor="end" fill="#000" >1.0</text>
<line x1="164.90" y1="892.80" x2="164.90" y2="885.80" stroke="#000" stroke-width="2" />
<line x1="241.90" y1="892.80" x2="241.90" y2="888.30" stroke="#000" stroke-width="2" />
<line x1="318.90" y1="892.80" x2="318.90" y2="885.80" stroke="#000" stroke-width="2" />
<line x1="395.90" y1="892.80" x2="395.90" y2="888.30" stroke="#000" stroke-width="2" />
<line x1="472.90" y1="892.80" x2="472.90" y2="885.80" stroke="#000" stroke-width="2" />
<line x1="549.90" y1="892.80" x2="549.90" y2="888.30" stroke="#000" stroke-width="2" />
<line x1="626.90" y1="892.80" x2="626.90" y2="885.80" stroke="#000" stroke-width="2" />
<line x1="703.90" y1="892.80" x2="703.90" y2="888.30" stroke="#000" stroke-width="2" />
<circle cx="580" cy="786.6" r="3.2" fill="none" stroke="#33ffff" stroke-width="0.9"/>
<text x="600.9" y="792.0" font-size="33.8" text-anchor="start" fill="#000" >500 nm (Fit)</text>
<text x="338.0" y="831.2" font-size="33">τ<tspan dy="7">1</tspan><tspan dy="-7">=</tspan>4.2 ps <tspan dx="4.5">τ</tspan><tspan dy="7" dx="1">2</tspan><tspan dy="-7" dx="1.5">=</tspan>12.4 ps</text>
<g clip-path="url(#clipC)" fill="none" stroke="#3f8f8f" stroke-width="0.85">
<circle cx="134.1" cy="1000.6" r="3.6"/>
<circle cx="135.2" cy="990.4" r="3.6"/>
<circle cx="136.3" cy="998.4" r="3.6"/>
<circle cx="137.3" cy="1012.0" r="3.6"/>
<circle cx="138.4" cy="1008.7" r="3.6"/>
<circle cx="139.5" cy="999.0" r="3.6"/>
<circle cx="140.6" cy="1005.1" r="3.6"/>
<circle cx="141.6" cy="996.8" r="3.6"/>
<circle cx="142.7" cy="1017.7" r="3.6"/>
<circle cx="143.8" cy="990.7" r="3.6"/>
<circle cx="144.9" cy="992.2" r="3.6"/>
<circle cx="146.0" cy="1014.4" r="3.6"/>
<circle cx="147.0" cy="1006.7" r="3.6"/>
<circle cx="148.1" cy="1008.8" r="3.6"/>
<circle cx="149.2" cy="1007.2" r="3.6"/>
<circle cx="150.3" cy="998.1" r="3.6"/>
<circle cx="151.3" cy="1008.0" r="3.6"/>
<circle cx="152.4" cy="1010.7" r="3.6"/>
<circle cx="153.5" cy="999.7" r="3.6"/>
<circle cx="154.6" cy="995.4" r="3.6"/>
<circle cx="155.7" cy="1007.4" r="3.6"/>
<circle cx="156.7" cy="1002.4" r="3.6"/>
<circle cx="157.8" cy="1014.0" r="3.6"/>
<circle cx="158.9" cy="997.6" r="3.6"/>
<circle cx="160.0" cy="988.8" r="3.6"/>
<circle cx="161.0" cy="1000.2" r="3.6"/>
<circle cx="161.8" cy="908.3" r="3.6"/>
<circle cx="162.8" cy="923.6" r="3.6"/>
<circle cx="163.9" cy="914.4" r="3.6"/>
<circle cx="164.9" cy="930.5" r="3.6"/>
<circle cx="165.9" cy="912.9" r="3.6"/>
<circle cx="166.9" cy="908.5" r="3.6"/>
<circle cx="167.9" cy="914.2" r="3.6"/>
<circle cx="168.9" cy="925.8" r="3.6"/>
<circle cx="170.0" cy="925.7" r="3.6"/>
<circle cx="171.0" cy="936.4" r="3.6"/>
<circle cx="172.0" cy="931.8" r="3.6"/>
<circle cx="173.0" cy="933.8" r="3.6"/>
<circle cx="174.0" cy="937.6" r="3.6"/>
<circle cx="175.0" cy="959.0" r="3.6"/>
<circle cx="176.0" cy="939.2" r="3.6"/>
<circle cx="177.1" cy="939.5" r="3.6"/>
<circle cx="178.1" cy="950.1" r="3.6"/>
<circle cx="179.1" cy="942.9" r="3.6"/>
<circle cx="180.1" cy="941.5" r="3.6"/>
<circle cx="181.1" cy="964.9" r="3.6"/>
<circle cx="182.1" cy="943.6" r="3.6"/>
<circle cx="183.2" cy="955.5" r="3.6"/>
<circle cx="184.2" cy="961.5" r="3.6"/>
<circle cx="185.2" cy="953.1" r="3.6"/>
<circle cx="186.2" cy="961.3" r="3.6"/>
<circle cx="187.2" cy="960.2" r="3.6"/>
<circle cx="188.2" cy="965.3" r="3.6"/>
<circle cx="189.3" cy="963.8" r="3.6"/>
<circle cx="190.3" cy="968.8" r="3.6"/>
<circle cx="191.3" cy="965.2" r="3.6"/>
<circle cx="192.3" cy="969.8" r="3.6"/>
<circle cx="193.3" cy="972.6" r="3.6"/>
<circle cx="194.3" cy="955.5" r="3.6"/>
<circle cx="195.4" cy="964.0" r="3.6"/>
<circle cx="196.4" cy="961.8" r="3.6"/>
<circle cx="197.4" cy="952.9" r="3.6"/>
<circle cx="198.4" cy="961.5" r="3.6"/>
<circle cx="199.4" cy="967.0" r="3.6"/>
<circle cx="200.4" cy="975.9" r="3.6"/>
<circle cx="201.5" cy="962.5" r="3.6"/>
<circle cx="202.5" cy="965.4" r="3.6"/>
<circle cx="203.5" cy="961.8" r="3.6"/>
<circle cx="204.5" cy="971.0" r="3.6"/>
<circle cx="205.5" cy="973.4" r="3.6"/>
<circle cx="206.5" cy="986.7" r="3.6"/>
<circle cx="207.6" cy="967.6" r="3.6"/>
<circle cx="208.6" cy="983.8" r="3.6"/>
<circle cx="209.6" cy="976.6" r="3.6"/>
<circle cx="210.6" cy="969.8" r="3.6"/>
<circle cx="211.1" cy="973.2" r="3.6"/>
<circle cx="214.0" cy="975.8" r="3.6"/>
<circle cx="217.0" cy="973.1" r="3.6"/>
<circle cx="219.9" cy="990.7" r="3.6"/>
<circle cx="222.8" cy="978.2" r="3.6"/>
<circle cx="225.7" cy="970.2" r="3.6"/>
<circle cx="228.7" cy="973.5" r="3.6"/>
<circle cx="231.6" cy="989.8" r="3.6"/>
<circle cx="234.5" cy="976.2" r="3.6"/>
<circle cx="237.4" cy="979.8" r="3.6"/>
<circle cx="240.4" cy="988.8" r="3.6"/>
<circle cx="243.3" cy="991.6" r="3.6"/>
<circle cx="246.2" cy="985.1" r="3.6"/>
<circle cx="249.1" cy="976.7" r="3.6"/>
<circle cx="252.1" cy="982.5" r="3.6"/>
<circle cx="255.0" cy="991.4" r="3.6"/>
<circle cx="257.9" cy="985.7" r="3.6"/>
<circle cx="260.8" cy="980.7" r="3.6"/>
<circle cx="263.8" cy="987.8" r="3.6"/>
<circle cx="266.7" cy="990.4" r="3.6"/>
<circle cx="269.6" cy="985.4" r="3.6"/>
<circle cx="272.5" cy="1000.6" r="3.6"/>
<circle cx="275.5" cy="986.2" r="3.6"/>
<circle cx="278.4" cy="997.1" r="3.6"/>
<circle cx="281.3" cy="989.9" r="3.6"/>
<circle cx="284.2" cy="987.6" r="3.6"/>
<circle cx="287.2" cy="990.8" r="3.6"/>
<circle cx="290.1" cy="994.6" r="3.6"/>
<circle cx="293.0" cy="992.7" r="3.6"/>
<circle cx="296.0" cy="986.0" r="3.6"/>
<circle cx="298.9" cy="998.9" r="3.6"/>
<circle cx="301.8" cy="996.4" r="3.6"/>
<circle cx="304.7" cy="989.6" r="3.6"/>
<circle cx="307.7" cy="987.0" r="3.6"/>
<circle cx="310.6" cy="992.0" r="3.6"/>
<circle cx="313.5" cy="995.2" r="3.6"/>
<circle cx="316.4" cy="988.2" r="3.6"/>
<circle cx="319.4" cy="994.7" r="3.6"/>
<circle cx="322.3" cy="980.7" r="3.6"/>
<circle cx="325.2" cy="985.0" r="3.6"/>
<circle cx="328.1" cy="982.0" r="3.6"/>
<circle cx="331.1" cy="998.7" r="3.6"/>
<circle cx="334.0" cy="996.1" r="3.6"/>
<circle cx="336.9" cy="995.1" r="3.6"/>
<circle cx="339.8" cy="1000.9" r="3.6"/>
<circle cx="342.8" cy="996.8" r="3.6"/>
<circle cx="345.7" cy="988.4" r="3.6"/>
<circle cx="348.6" cy="1000.0" r="3.6"/>
<circle cx="351.5" cy="995.9" r="3.6"/>
<circle cx="354.5" cy="985.6" r="3.6"/>
<circle cx="357.4" cy="992.7" r="3.6"/>
<circle cx="360.3" cy="991.6" r="3.6"/>
<circle cx="363.3" cy="994.6" r="3.6"/>
<circle cx="366.2" cy="998.5" r="3.6"/>
<circle cx="369.1" cy="997.1" r="3.6"/>
<circle cx="372.0" cy="993.5" r="3.6"/>
<circle cx="375.0" cy="998.6" r="3.6"/>
<circle cx="377.9" cy="995.0" r="3.6"/>
<circle cx="380.8" cy="998.1" r="3.6"/>
<circle cx="383.7" cy="996.1" r="3.6"/>
<circle cx="386.7" cy="986.5" r="3.6"/>
<circle cx="389.6" cy="992.2" r="3.6"/>
<circle cx="392.5" cy="1003.5" r="3.6"/>
<circle cx="395.4" cy="997.1" r="3.6"/>
<circle cx="398.4" cy="985.3" r="3.6"/>
<circle cx="401.3" cy="985.6" r="3.6"/>
<circle cx="404.2" cy="1003.1" r="3.6"/>
<circle cx="407.1" cy="993.8" r="3.6"/>
<circle cx="410.1" cy="996.4" r="3.6"/>
<circle cx="413.0" cy="1011.2" r="3.6"/>
<circle cx="415.9" cy="994.9" r="3.6"/>
<circle cx="418.8" cy="985.1" r="3.6"/>
<circle cx="421.8" cy="1001.0" r="3.6"/>
<circle cx="424.7" cy="998.7" r="3.6"/>
<circle cx="427.6" cy="991.4" r="3.6"/>
<circle cx="430.5" cy="999.7" r="3.6"/>
<circle cx="433.5" cy="999.7" r="3.6"/>
<circle cx="436.4" cy="995.6" r="3.6"/>
<circle cx="439.3" cy="1005.7" r="3.6"/>
<circle cx="442.3" cy="994.5" r="3.6"/>
<circle cx="445.2" cy="1005.1" r="3.6"/>
<circle cx="448.1" cy="997.2" r="3.6"/>
<circle cx="451.0" cy="992.8" r="3.6"/>
<circle cx="454.0" cy="988.0" r="3.6"/>
<circle cx="456.9" cy="1002.2" r="3.6"/>
<circle cx="459.8" cy="996.4" r="3.6"/>
<circle cx="462.7" cy="996.4" r="3.6"/>
<circle cx="465.7" cy="1008.4" r="3.6"/>
<circle cx="468.6" cy="998.5" r="3.6"/>
<circle cx="471.5" cy="996.7" r="3.6"/>
<circle cx="474.4" cy="994.9" r="3.6"/>
<circle cx="477.4" cy="986.6" r="3.6"/>
<circle cx="480.3" cy="997.5" r="3.6"/>
<circle cx="483.2" cy="998.6" r="3.6"/>
<circle cx="486.1" cy="998.8" r="3.6"/>
<circle cx="489.1" cy="998.4" r="3.6"/>
<circle cx="492.0" cy="995.6" r="3.6"/>
<circle cx="494.9" cy="989.3" r="3.6"/>
<circle cx="497.8" cy="1004.6" r="3.6"/>
<circle cx="500.8" cy="998.4" r="3.6"/>
<circle cx="503.7" cy="1012.5" r="3.6"/>
<circle cx="506.6" cy="1008.4" r="3.6"/>
<circle cx="509.6" cy="997.8" r="3.6"/>
<circle cx="512.5" cy="1011.1" r="3.6"/>
<circle cx="515.4" cy="996.9" r="3.6"/>
<circle cx="518.3" cy="991.4" r="3.6"/>
<circle cx="521.3" cy="1004.0" r="3.6"/>
<circle cx="524.2" cy="1003.2" r="3.6"/>
<circle cx="527.1" cy="999.0" r="3.6"/>
<circle cx="530.0" cy="1002.1" r="3.6"/>
<circle cx="533.0" cy="999.5" r="3.6"/>
<circle cx="535.9" cy="1003.3" r="3.6"/>
<circle cx="538.8" cy="994.2" r="3.6"/>
<circle cx="541.7" cy="997.5" r="3.6"/>
<circle cx="544.7" cy="999.7" r="3.6"/>
<circle cx="547.6" cy="1012.4" r="3.6"/>
<circle cx="550.5" cy="1003.5" r="3.6"/>
<circle cx="553.4" cy="999.2" r="3.6"/>
<circle cx="556.4" cy="995.4" r="3.6"/>
<circle cx="559.3" cy="1003.3" r="3.6"/>
<circle cx="562.2" cy="996.0" r="3.6"/>
<circle cx="565.1" cy="994.7" r="3.6"/>
<circle cx="568.1" cy="1003.1" r="3.6"/>
<circle cx="571.0" cy="995.4" r="3.6"/>
<circle cx="573.9" cy="1000.7" r="3.6"/>
<circle cx="576.8" cy="1006.1" r="3.6"/>
<circle cx="579.8" cy="1000.0" r="3.6"/>
<circle cx="582.7" cy="992.2" r="3.6"/>
<circle cx="585.6" cy="997.5" r="3.6"/>
<circle cx="588.6" cy="999.7" r="3.6"/>
<circle cx="591.5" cy="995.0" r="3.6"/>
<circle cx="594.4" cy="995.7" r="3.6"/>
<circle cx="597.3" cy="998.7" r="3.6"/>
<circle cx="600.3" cy="1010.5" r="3.6"/>
<circle cx="603.2" cy="1014.5" r="3.6"/>
<circle cx="606.1" cy="1009.3" r="3.6"/>
<circle cx="609.0" cy="990.5" r="3.6"/>
<circle cx="612.0" cy="996.1" r="3.6"/>
<circle cx="614.9" cy="1009.1" r="3.6"/>
<circle cx="617.8" cy="995.7" r="3.6"/>
<circle cx="620.7" cy="1008.4" r="3.6"/>
<circle cx="623.7" cy="999.3" r="3.6"/>
<circle cx="626.6" cy="995.1" r="3.6"/>
<circle cx="629.5" cy="1001.1" r="3.6"/>
<circle cx="632.4" cy="995.9" r="3.6"/>
<circle cx="635.4" cy="995.5" r="3.6"/>
<circle cx="638.3" cy="1010.3" r="3.6"/>
<circle cx="641.2" cy="1001.2" r="3.6"/>
<circle cx="644.1" cy="998.0" r="3.6"/>
<circle cx="647.1" cy="1003.7" r="3.6"/>
<circle cx="650.0" cy="1008.6" r="3.6"/>
<circle cx="652.9" cy="992.6" r="3.6"/>
<circle cx="655.9" cy="999.5" r="3.6"/>
<circle cx="658.8" cy="1004.3" r="3.6"/>
<circle cx="661.7" cy="1006.1" r="3.6"/>
<circle cx="664.6" cy="1001.3" r="3.6"/>
<circle cx="667.6" cy="994.3" r="3.6"/>
<circle cx="670.5" cy="1003.8" r="3.6"/>
<circle cx="673.4" cy="998.2" r="3.6"/>
<circle cx="676.3" cy="999.3" r="3.6"/>
<circle cx="679.3" cy="1002.2" r="3.6"/>
<circle cx="682.2" cy="1000.9" r="3.6"/>
<circle cx="685.1" cy="1000.6" r="3.6"/>
<circle cx="688.0" cy="1006.3" r="3.6"/>
<circle cx="691.0" cy="1009.1" r="3.6"/>
<circle cx="693.9" cy="997.0" r="3.6"/>
<circle cx="696.8" cy="992.8" r="3.6"/>
<circle cx="699.7" cy="997.6" r="3.6"/>
<path d="M 160.9 996.6 L 160.9 910.5 M 162.6 908.4 L 163.4 911.3 L 164.3 914.1 L 165.1 916.8 L 166.0 919.5 L 166.8 922.0 L 167.7 924.4 L 168.5 926.6 L 169.4 928.6 L 170.2 930.5 L 171.1 932.3 L 171.9 934.0 L 172.8 935.7 L 173.6 937.3 L 174.5 938.8 L 175.3 940.3 L 176.2 941.8 L 177.0 943.2 L 177.9 944.5 L 178.7 945.8 L 179.6 947.0 L 180.4 948.2 L 181.3 949.4 L 182.1 950.5 L 183.0 951.5 L 183.8 952.5 L 184.7 953.5 L 185.5 954.4 L 186.4 955.4 L 187.2 956.3 L 188.1 957.2 L 188.9 958.0 L 189.8 958.9 L 190.6 959.7 L 191.5 960.5 L 192.3 961.3 L 193.2 962.0 L 194.0 962.7 L 194.9 963.4 L 195.7 964.1 L 197.2 965.3 L 203.6 969.4 L 210.0 972.8 L 216.4 975.7 L 222.7 978.1 L 229.1 980.1 L 235.5 981.6 L 241.9 983.0 L 248.2 984.3 L 254.6 985.4 L 261.0 986.5 L 267.4 987.4 L 273.7 988.2 L 280.1 988.9 L 286.5 989.5 L 292.9 990.1 L 299.2 990.6 L 305.6 991.1 L 312.0 991.6 L 318.4 992.0 L 324.7 992.4 L 331.1 992.8 L 337.5 993.2 L 343.9 993.5 L 350.2 993.8 L 356.6 994.1 L 363.0 994.4 L 369.3 994.7 L 375.7 995.0 L 382.1 995.2 L 388.5 995.5 L 394.8 995.7 L 401.2 995.9 L 407.6 996.1 L 414.0 996.4 L 420.3 996.6 L 426.7 996.7 L 433.1 996.9 L 439.5 997.1 L 445.8 997.3 L 452.2 997.4 L 458.6 997.6 L 465.0 997.7 L 471.3 997.8 L 477.7 998.0 L 484.1 998.1 L 490.5 998.2 L 496.8 998.3 L 503.2 998.4 L 509.6 998.5 L 516.0 998.6 L 522.3 998.7 L 528.7 998.8 L 535.1 998.9 L 541.5 999.0 L 547.8 999.1 L 554.2 999.2 L 560.6 999.2 L 567.0 999.3 L 573.3 999.3 L 579.7 999.4 L 586.1 999.5 L 592.5 999.5 L 598.8 999.6 L 605.2 999.6 L 611.6 999.7 L 618.0 999.7 L 624.3 999.8 L 630.7 999.8 L 637.1 999.9 L 643.5 999.9 L 649.8 1000.0 L 656.2 1000.0 L 662.6 1000.0 L 668.9 1000.1 L 675.3 1000.1 L 681.7 1000.1 L 688.1 1000.1 L 694.4 1000.1 L 700.8 1000.2" fill="none" stroke="#1d7a7f" stroke-width="2.3"/>
</g>
<line x1="104.00" y1="1005.80" x2="110.50" y2="1005.80" stroke="#000" stroke-width="2" />
<text x="96.5" y="1013.8" font-size="24" text-anchor="end" fill="#000" >0.0</text>
<line x1="104.00" y1="980.17" x2="108.00" y2="980.17" stroke="#000" stroke-width="2" />
<line x1="104.00" y1="954.55" x2="110.50" y2="954.55" stroke="#000" stroke-width="2" />
<text x="96.5" y="962.5" font-size="24" text-anchor="end" fill="#000" >0.5</text>
<line x1="104.00" y1="928.92" x2="108.00" y2="928.92" stroke="#000" stroke-width="2" />
<line x1="104.00" y1="903.30" x2="110.50" y2="903.30" stroke="#000" stroke-width="2" />
<text x="96.5" y="911.3" font-size="24" text-anchor="end" fill="#000" >1.0</text>
<line x1="164.90" y1="1026.20" x2="164.90" y2="1019.20" stroke="#000" stroke-width="2" />
<line x1="241.90" y1="1026.20" x2="241.90" y2="1021.70" stroke="#000" stroke-width="2" />
<line x1="318.90" y1="1026.20" x2="318.90" y2="1019.20" stroke="#000" stroke-width="2" />
<line x1="395.90" y1="1026.20" x2="395.90" y2="1021.70" stroke="#000" stroke-width="2" />
<line x1="472.90" y1="1026.20" x2="472.90" y2="1019.20" stroke="#000" stroke-width="2" />
<line x1="549.90" y1="1026.20" x2="549.90" y2="1021.70" stroke="#000" stroke-width="2" />
<line x1="626.90" y1="1026.20" x2="626.90" y2="1019.20" stroke="#000" stroke-width="2" />
<line x1="703.90" y1="1026.20" x2="703.90" y2="1021.70" stroke="#000" stroke-width="2" />
<circle cx="584.2" cy="919.0" r="3.2" fill="none" stroke="#3f8f8f" stroke-width="0.9"/>
<text x="600.9" y="923.8" font-size="33.8" text-anchor="start" fill="#000" >525 nm (Fit)</text>
<text x="339.8" y="958.7" font-size="33">τ<tspan dy="7">1</tspan><tspan dy="-7">=</tspan>3.9 ps <tspan dx="4.5">τ</tspan><tspan dy="7" dx="1">2</tspan><tspan dy="-7" dx="1.5">=</tspan>11.1 ps</text>
<g clip-path="url(#clipC)" fill="none" stroke="#33ff33" stroke-width="0.85">
<circle cx="134.1" cy="1130.9" r="3.6"/>
<circle cx="135.2" cy="1146.8" r="3.6"/>
<circle cx="136.3" cy="1134.0" r="3.6"/>
<circle cx="137.3" cy="1146.3" r="3.6"/>
<circle cx="138.4" cy="1131.1" r="3.6"/>
<circle cx="139.5" cy="1148.6" r="3.6"/>
<circle cx="140.6" cy="1143.0" r="3.6"/>
<circle cx="141.6" cy="1142.3" r="3.6"/>
<circle cx="142.7" cy="1152.3" r="3.6"/>
<circle cx="143.8" cy="1132.6" r="3.6"/>
<circle cx="144.9" cy="1148.6" r="3.6"/>
<circle cx="146.0" cy="1147.0" r="3.6"/>
<circle cx="147.0" cy="1142.0" r="3.6"/>
<circle cx="148.1" cy="1133.3" r="3.6"/>
<circle cx="149.2" cy="1143.7" r="3.6"/>
<circle cx="150.3" cy="1125.0" r="3.6"/>
<circle cx="151.3" cy="1138.4" r="3.6"/>
<circle cx="152.4" cy="1140.2" r="3.6"/>
<circle cx="153.5" cy="1135.3" r="3.6"/>
<circle cx="154.6" cy="1139.1" r="3.6"/>
<circle cx="155.7" cy="1145.3" r="3.6"/>
<circle cx="156.7" cy="1141.9" r="3.6"/>
<circle cx="157.8" cy="1137.2" r="3.6"/>
<circle cx="158.9" cy="1127.8" r="3.6"/>
<circle cx="160.0" cy="1136.5" r="3.6"/>
<circle cx="161.0" cy="1135.1" r="3.6"/>
<circle cx="161.8" cy="1063.1" r="3.6"/>
<circle cx="162.8" cy="1049.7" r="3.6"/>
<circle cx="163.9" cy="1050.8" r="3.6"/>
<circle cx="164.9" cy="1040.7" r="3.6"/>
<circle cx="165.9" cy="1044.5" r="3.6"/>
<circle cx="166.9" cy="1057.6" r="3.6"/>
<circle cx="167.9" cy="1057.1" r="3.6"/>
<circle cx="168.9" cy="1063.9" r="3.6"/>
<circle cx="170.0" cy="1071.1" r="3.6"/>
<circle cx="171.0" cy="1068.2" r="3.6"/>
<circle cx="172.0" cy="1073.4" r="3.6"/>
<circle cx="173.0" cy="1070.8" r="3.6"/>
<circle cx="174.0" cy="1070.5" r="3.6"/>
<circle cx="175.0" cy="1079.0" r="3.6"/>
<circle cx="176.0" cy="1071.6" r="3.6"/>
<circle cx="177.1" cy="1089.7" r="3.6"/>
<circle cx="178.1" cy="1083.2" r="3.6"/>
<circle cx="179.1" cy="1083.5" r="3.6"/>
<circle cx="180.1" cy="1099.6" r="3.6"/>
<circle cx="181.1" cy="1083.2" r="3.6"/>
<circle cx="182.1" cy="1083.7" r="3.6"/>
<circle cx="183.2" cy="1077.7" r="3.6"/>
<circle cx="184.2" cy="1091.5" r="3.6"/>
<circle cx="185.2" cy="1087.9" r="3.6"/>
<circle cx="186.2" cy="1088.6" r="3.6"/>
<circle cx="187.2" cy="1106.1" r="3.6"/>
<circle cx="188.2" cy="1093.2" r="3.6"/>
<circle cx="189.3" cy="1106.7" r="3.6"/>
<circle cx="190.3" cy="1095.2" r="3.6"/>
<circle cx="191.3" cy="1092.9" r="3.6"/>
<circle cx="192.3" cy="1097.0" r="3.6"/>
<circle cx="193.3" cy="1114.6" r="3.6"/>
<circle cx="194.3" cy="1090.1" r="3.6"/>
<circle cx="195.4" cy="1099.2" r="3.6"/>
<circle cx="196.4" cy="1095.0" r="3.6"/>
<circle cx="197.4" cy="1107.8" r="3.6"/>
<circle cx="198.4" cy="1106.4" r="3.6"/>
<circle cx="199.4" cy="1089.3" r="3.6"/>
<circle cx="200.4" cy="1106.3" r="3.6"/>
<circle cx="201.5" cy="1108.6" r="3.6"/>
<circle cx="202.5" cy="1108.7" r="3.6"/>
<circle cx="203.5" cy="1099.4" r="3.6"/>
<circle cx="204.5" cy="1118.5" r="3.6"/>
<circle cx="205.5" cy="1110.0" r="3.6"/>
<circle cx="206.5" cy="1114.5" r="3.6"/>
<circle cx="207.6" cy="1090.6" r="3.6"/>
<circle cx="208.6" cy="1101.3" r="3.6"/>
<circle cx="209.6" cy="1108.7" r="3.6"/>
<circle cx="210.6" cy="1108.2" r="3.6"/>
<circle cx="211.1" cy="1111.7" r="3.6"/>
<circle cx="214.0" cy="1114.4" r="3.6"/>
<circle cx="217.0" cy="1113.4" r="3.6"/>
<circle cx="219.9" cy="1100.4" r="3.6"/>
<circle cx="222.8" cy="1116.1" r="3.6"/>
<circle cx="225.7" cy="1116.7" r="3.6"/>
<circle cx="228.7" cy="1113.8" r="3.6"/>
<circle cx="231.6" cy="1107.8" r="3.6"/>
<circle cx="234.5" cy="1114.1" r="3.6"/>
<circle cx="237.4" cy="1123.4" r="3.6"/>
<circle cx="240.4" cy="1117.6" r="3.6"/>
<circle cx="243.3" cy="1118.3" r="3.6"/>
<circle cx="246.2" cy="1126.4" r="3.6"/>
<circle cx="249.1" cy="1123.6" r="3.6"/>
<circle cx="252.1" cy="1117.9" r="3.6"/>
<circle cx="255.0" cy="1122.8" r="3.6"/>
<circle cx="257.9" cy="1111.3" r="3.6"/>
<circle cx="260.8" cy="1119.2" r="3.6"/>
<circle cx="263.8" cy="1124.2" r="3.6"/>
<circle cx="266.7" cy="1122.4" r="3.6"/>
<circle cx="269.6" cy="1127.5" r="3.6"/>
<circle cx="272.5" cy="1126.4" r="3.6"/>
<circle cx="275.5" cy="1118.6" r="3.6"/>
<circle cx="278.4" cy="1123.6" r="3.6"/>
<circle cx="281.3" cy="1134.4" r="3.6"/>
<circle cx="284.2" cy="1131.4" r="3.6"/>
<circle cx="287.2" cy="1120.7" r="3.6"/>
<circle cx="290.1" cy="1130.7" r="3.6"/>
<circle cx="293.0" cy="1126.2" r="3.6"/>
<circle cx="296.0" cy="1118.5" r="3.6"/>
<circle cx="298.9" cy="1126.2" r="3.6"/>
<circle cx="301.8" cy="1126.7" r="3.6"/>
<circle cx="304.7" cy="1127.5" r="3.6"/>
<circle cx="307.7" cy="1119.4" r="3.6"/>
<circle cx="310.6" cy="1129.6" r="3.6"/>
<circle cx="313.5" cy="1132.8" r="3.6"/>
<circle cx="316.4" cy="1125.6" r="3.6"/>
<circle cx="319.4" cy="1117.0" r="3.6"/>
<circle cx="322.3" cy="1124.3" r="3.6"/>
<circle cx="325.2" cy="1117.8" r="3.6"/>
<circle cx="328.1" cy="1119.8" r="3.6"/>
<circle cx="331.1" cy="1133.2" r="3.6"/>
<circle cx="334.0" cy="1126.7" r="3.6"/>
<circle cx="336.9" cy="1127.8" r="3.6"/>
<circle cx="339.8" cy="1127.3" r="3.6"/>
<circle cx="342.8" cy="1120.6" r="3.6"/>
<circle cx="345.7" cy="1119.7" r="3.6"/>
<circle cx="348.6" cy="1123.6" r="3.6"/>
<circle cx="351.5" cy="1121.1" r="3.6"/>
<circle cx="354.5" cy="1131.4" r="3.6"/>
<circle cx="357.4" cy="1123.6" r="3.6"/>
<circle cx="360.3" cy="1134.3" r="3.6"/>
<circle cx="363.3" cy="1130.4" r="3.6"/>
<circle cx="366.2" cy="1135.6" r="3.6"/>
<circle cx="369.1" cy="1121.7" r="3.6"/>
<circle cx="372.0" cy="1131.2" r="3.6"/>
<circle cx="375.0" cy="1124.6" r="3.6"/>
<circle cx="377.9" cy="1136.4" r="3.6"/>
<circle cx="380.8" cy="1127.8" r="3.6"/>
<circle cx="383.7" cy="1124.6" r="3.6"/>
<circle cx="386.7" cy="1128.7" r="3.6"/>
<circle cx="389.6" cy="1128.3" r="3.6"/>
<circle cx="392.5" cy="1128.6" r="3.6"/>
<circle cx="395.4" cy="1129.8" r="3.6"/>
<circle cx="398.4" cy="1131.7" r="3.6"/>
<circle cx="401.3" cy="1134.5" r="3.6"/>
<circle cx="404.2" cy="1123.9" r="3.6"/>
<circle cx="407.1" cy="1129.8" r="3.6"/>
<circle cx="410.1" cy="1129.5" r="3.6"/>
<circle cx="413.0" cy="1128.1" r="3.6"/>
<circle cx="415.9" cy="1137.1" r="3.6"/>
<circle cx="418.8" cy="1137.8" r="3.6"/>
<circle cx="421.8" cy="1137.7" r="3.6"/>
<circle cx="424.7" cy="1120.1" r="3.6"/>
<circle cx="427.6" cy="1131.8" r="3.6"/>
<circle cx="430.5" cy="1126.3" r="3.6"/>
<circle cx="433.5" cy="1140.7" r="3.6"/>
<circle cx="436.4" cy="1132.6" r="3.6"/>
<circle cx="439.3" cy="1129.9" r="3.6"/>
<circle cx="442.3" cy="1133.8" r="3.6"/>
<circle cx="445.2" cy="1124.3" r="3.6"/>
<circle cx="448.1" cy="1132.6" r="3.6"/>
<circle cx="451.0" cy="1131.1" r="3.6"/>
<circle cx="454.0" cy="1124.3" r="3.6"/>
<circle cx="456.9" cy="1121.6" r="3.6"/>
<circle cx="459.8" cy="1128.9" r="3.6"/>
<circle cx="462.7" cy="1133.4" r="3.6"/>
<circle cx="465.7" cy="1132.5" r="3.6"/>
<circle cx="468.6" cy="1124.1" r="3.6"/>
<circle cx="471.5" cy="1137.1" r="3.6"/>
<circle cx="474.4" cy="1136.8" r="3.6"/>
<circle cx="477.4" cy="1136.6" r="3.6"/>
<circle cx="480.3" cy="1125.4" r="3.6"/>
<circle cx="483.2" cy="1128.9" r="3.6"/>
<circle cx="486.1" cy="1136.4" r="3.6"/>
<circle cx="489.1" cy="1135.6" r="3.6"/>
<circle cx="492.0" cy="1131.6" r="3.6"/>
<circle cx="494.9" cy="1134.5" r="3.6"/>
<circle cx="497.8" cy="1137.6" r="3.6"/>
<circle cx="500.8" cy="1136.4" r="3.6"/>
<circle cx="503.7" cy="1132.9" r="3.6"/>
<circle cx="506.6" cy="1135.3" r="3.6"/>
<circle cx="509.6" cy="1132.0" r="3.6"/>
<circle cx="512.5" cy="1133.9" r="3.6"/>
<circle cx="515.4" cy="1136.0" r="3.6"/>
<circle cx="518.3" cy="1129.5" r="3.6"/>
<circle cx="521.3" cy="1129.4" r="3.6"/>
<circle cx="524.2" cy="1143.2" r="3.6"/>
<circle cx="527.1" cy="1130.6" r="3.6"/>
<circle cx="530.0" cy="1134.8" r="3.6"/>
<circle cx="533.0" cy="1137.9" r="3.6"/>
<circle cx="535.9" cy="1128.0" r="3.6"/>
<circle cx="538.8" cy="1130.8" r="3.6"/>
<circle cx="541.7" cy="1129.1" r="3.6"/>
<circle cx="544.7" cy="1135.4" r="3.6"/>
<circle cx="547.6" cy="1122.1" r="3.6"/>
<circle cx="550.5" cy="1129.5" r="3.6"/>
<circle cx="553.4" cy="1135.8" r="3.6"/>
<circle cx="556.4" cy="1121.6" r="3.6"/>
<circle cx="559.3" cy="1137.2" r="3.6"/>
<circle cx="562.2" cy="1123.9" r="3.6"/>
<circle cx="565.1" cy="1134.2" r="3.6"/>
<circle cx="568.1" cy="1136.0" r="3.6"/>
<circle cx="571.0" cy="1136.7" r="3.6"/>
<circle cx="573.9" cy="1138.4" r="3.6"/>
<circle cx="576.8" cy="1137.9" r="3.6"/>
<circle cx="579.8" cy="1130.6" r="3.6"/>
<circle cx="582.7" cy="1133.2" r="3.6"/>
<circle cx="585.6" cy="1142.0" r="3.6"/>
<circle cx="588.6" cy="1131.5" r="3.6"/>
<circle cx="591.5" cy="1141.2" r="3.6"/>
<circle cx="594.4" cy="1129.9" r="3.6"/>
<circle cx="597.3" cy="1135.4" r="3.6"/>
<circle cx="600.3" cy="1134.1" r="3.6"/>
<circle cx="603.2" cy="1126.1" r="3.6"/>
<circle cx="606.1" cy="1144.5" r="3.6"/>
<circle cx="609.0" cy="1120.2" r="3.6"/>
<circle cx="612.0" cy="1115.3" r="3.6"/>
<circle cx="614.9" cy="1126.6" r="3.6"/>
<circle cx="617.8" cy="1129.6" r="3.6"/>
<circle cx="620.7" cy="1136.8" r="3.6"/>
<circle cx="623.7" cy="1126.7" r="3.6"/>
<circle cx="626.6" cy="1134.0" r="3.6"/>
<circle cx="629.5" cy="1134.6" r="3.6"/>
<circle cx="632.4" cy="1137.5" r="3.6"/>
<circle cx="635.4" cy="1125.0" r="3.6"/>
<circle cx="638.3" cy="1128.1" r="3.6"/>
<circle cx="641.2" cy="1141.2" r="3.6"/>
<circle cx="644.1" cy="1133.6" r="3.6"/>
<circle cx="647.1" cy="1140.5" r="3.6"/>
<circle cx="650.0" cy="1127.7" r="3.6"/>
<circle cx="652.9" cy="1138.2" r="3.6"/>
<circle cx="655.9" cy="1133.4" r="3.6"/>
<circle cx="658.8" cy="1129.8" r="3.6"/>
<circle cx="661.7" cy="1134.2" r="3.6"/>
<circle cx="664.6" cy="1140.2" r="3.6"/>
<circle cx="667.6" cy="1135.7" r="3.6"/>
<circle cx="670.5" cy="1140.8" r="3.6"/>
<circle cx="673.4" cy="1124.9" r="3.6"/>
<circle cx="676.3" cy="1127.8" r="3.6"/>
<circle cx="679.3" cy="1143.2" r="3.6"/>
<circle cx="682.2" cy="1139.8" r="3.6"/>
<circle cx="685.1" cy="1120.3" r="3.6"/>
<circle cx="688.0" cy="1129.4" r="3.6"/>
<circle cx="691.0" cy="1135.0" r="3.6"/>
<circle cx="693.9" cy="1127.8" r="3.6"/>
<circle cx="696.8" cy="1131.2" r="3.6"/>
<circle cx="699.7" cy="1128.6" r="3.6"/>
<path d="M 160.9 1130.1 L 160.9 1044.0 M 162.6 1047.0 L 163.4 1049.4 L 164.3 1051.7 L 165.1 1054.0 L 166.0 1056.2 L 166.8 1058.3 L 167.7 1060.3 L 168.5 1062.4 L 169.4 1064.5 L 170.2 1066.5 L 171.1 1068.6 L 171.9 1070.6 L 172.8 1072.6 L 173.6 1074.5 L 174.5 1076.4 L 175.3 1078.1 L 176.2 1079.9 L 177.0 1081.5 L 177.9 1083.0 L 178.7 1084.4 L 179.6 1085.7 L 180.4 1086.8 L 181.3 1087.8 L 182.1 1088.8 L 183.0 1089.8 L 183.8 1090.8 L 184.7 1091.7 L 185.5 1092.6 L 186.4 1093.5 L 187.2 1094.3 L 188.1 1095.2 L 188.9 1096.0 L 189.8 1096.8 L 190.6 1097.5 L 191.5 1098.3 L 192.3 1099.0 L 193.2 1099.7 L 194.0 1100.4 L 194.9 1101.0 L 195.7 1101.7 L 197.2 1102.8 L 203.6 1106.7 L 210.0 1109.7 L 216.4 1112.1 L 222.7 1114.0 L 229.1 1115.7 L 235.5 1117.0 L 241.9 1118.2 L 248.2 1119.3 L 254.6 1120.3 L 261.0 1121.2 L 267.4 1122.1 L 273.7 1122.8 L 280.1 1123.5 L 286.5 1124.0 L 292.9 1124.5 L 299.2 1125.0 L 305.6 1125.5 L 312.0 1125.9 L 318.4 1126.3 L 324.7 1126.7 L 331.1 1127.1 L 337.5 1127.5 L 343.9 1127.8 L 350.2 1128.2 L 356.6 1128.5 L 363.0 1128.8 L 369.3 1129.1 L 375.7 1129.3 L 382.1 1129.6 L 388.5 1129.8 L 394.8 1130.0 L 401.2 1130.2 L 407.6 1130.4 L 414.0 1130.6 L 420.3 1130.7 L 426.7 1130.8 L 433.1 1130.9 L 439.5 1131.1 L 445.8 1131.2 L 452.2 1131.3 L 458.6 1131.4 L 465.0 1131.5 L 471.3 1131.6 L 477.7 1131.7 L 484.1 1131.8 L 490.5 1131.8 L 496.8 1131.9 L 503.2 1132.0 L 509.6 1132.1 L 516.0 1132.1 L 522.3 1132.2 L 528.7 1132.2 L 535.1 1132.3 L 541.5 1132.4 L 547.8 1132.4 L 554.2 1132.5 L 560.6 1132.5 L 567.0 1132.5 L 573.3 1132.6 L 579.7 1132.6 L 586.1 1132.7 L 592.5 1132.7 L 598.8 1132.7 L 605.2 1132.8 L 611.6 1132.8 L 618.0 1132.9 L 624.3 1132.9 L 630.7 1132.9 L 637.1 1133.0 L 643.5 1133.0 L 649.8 1133.0 L 656.2 1133.0 L 662.6 1133.1 L 668.9 1133.1 L 675.3 1133.1 L 681.7 1133.1 L 688.1 1133.1 L 694.4 1133.1 L 700.8 1133.1" fill="none" stroke="#00e600" stroke-width="2.3"/>
</g>
<line x1="104.00" y1="1139.30" x2="110.50" y2="1139.30" stroke="#000" stroke-width="2" />
<text x="96.5" y="1147.3" font-size="24" text-anchor="end" fill="#000" >0.0</text>
<line x1="104.00" y1="1113.67" x2="108.00" y2="1113.67" stroke="#000" stroke-width="2" />
<line x1="104.00" y1="1088.05" x2="110.50" y2="1088.05" stroke="#000" stroke-width="2" />
<text x="96.5" y="1096.0" font-size="24" text-anchor="end" fill="#000" >0.5</text>
<line x1="104.00" y1="1062.42" x2="108.00" y2="1062.42" stroke="#000" stroke-width="2" />
<line x1="104.00" y1="1036.80" x2="110.50" y2="1036.80" stroke="#000" stroke-width="2" />
<text x="96.5" y="1044.8" font-size="24" text-anchor="end" fill="#000" >1.0</text>
<line x1="164.90" y1="1159.60" x2="164.90" y2="1152.60" stroke="#000" stroke-width="2" />
<line x1="241.90" y1="1159.60" x2="241.90" y2="1155.10" stroke="#000" stroke-width="2" />
<line x1="318.90" y1="1159.60" x2="318.90" y2="1152.60" stroke="#000" stroke-width="2" />
<line x1="395.90" y1="1159.60" x2="395.90" y2="1155.10" stroke="#000" stroke-width="2" />
<line x1="472.90" y1="1159.60" x2="472.90" y2="1152.60" stroke="#000" stroke-width="2" />
<line x1="549.90" y1="1159.60" x2="549.90" y2="1155.10" stroke="#000" stroke-width="2" />
<line x1="626.90" y1="1159.60" x2="626.90" y2="1152.60" stroke="#000" stroke-width="2" />
<line x1="703.90" y1="1159.60" x2="703.90" y2="1155.10" stroke="#000" stroke-width="2" />
<circle cx="578.9" cy="1055.3" r="3.2" fill="none" stroke="#33ff33" stroke-width="0.9"/>
<text x="600.9" y="1059.0" font-size="33.8" text-anchor="start" fill="#000" >550 nm (Fit)</text>
<text x="343.3" y="1089.9" font-size="33">τ<tspan dy="7">1</tspan><tspan dy="-7">=</tspan>3.8 ps <tspan dx="4.5">τ</tspan><tspan dy="7" dx="1">2</tspan><tspan dy="-7" dx="1.5">=</tspan>10.2 ps</text>
<rect x="104.00" y="626.00" width="677.00" height="533.50" fill="none" stroke="#000" stroke-width="2.6" />
<line x1="104.00" y1="759.38" x2="781.00" y2="759.38" stroke="#000" stroke-width="2.8" />
<line x1="104.00" y1="892.75" x2="781.00" y2="892.75" stroke="#000" stroke-width="2.8" />
<line x1="104.00" y1="1026.12" x2="781.00" y2="1026.12" stroke="#000" stroke-width="2.8" />
<text x="164.9" y="1187.3" font-size="24" text-anchor="middle" fill="#000" >0</text>
<text x="318.9" y="1187.3" font-size="24" text-anchor="middle" fill="#000" >50</text>
<text x="472.9" y="1187.3" font-size="24" text-anchor="middle" fill="#000" >100</text>
<text x="626.9" y="1187.3" font-size="24" text-anchor="middle" fill="#000" >150</text>
<text x="780.9" y="1187.3" font-size="24" text-anchor="middle" fill="#000" >200</text>
<text x="329.3" y="1221.3" font-size="33.8" text-anchor="start" fill="#000" >Delay time (ps)</text>
<text x="0.0" y="0.0" font-size="34.2" text-anchor="middle" fill="#000" transform="translate(58,887) rotate(-90)">Normalized ΔOD</text>
<text x="4.3" y="622.0" font-size="41" text-anchor="start" fill="#000" >(c)</text>
<clipPath id="clipD"><rect x="891.5" y="633" width="591.5" height="486.5"/></clipPath>
<g clip-path="url(#clipD)" fill="none" stroke="#33eeff" stroke-width="0.85">
<circle cx="909.3" cy="767.0" r="3.6"/>
<circle cx="910.4" cy="769.8" r="3.6"/>
<circle cx="911.5" cy="770.0" r="3.6"/>
<circle cx="912.7" cy="767.1" r="3.6"/>
<circle cx="913.8" cy="764.4" r="3.6"/>
<circle cx="914.9" cy="766.7" r="3.6"/>
<circle cx="916.0" cy="769.2" r="3.6"/>
<circle cx="917.2" cy="773.7" r="3.6"/>
<circle cx="918.3" cy="771.1" r="3.6"/>
<circle cx="919.4" cy="770.6" r="3.6"/>
<circle cx="920.5" cy="763.8" r="3.6"/>
<circle cx="921.7" cy="776.1" r="3.6"/>
<circle cx="922.8" cy="766.1" r="3.6"/>
<circle cx="923.9" cy="770.0" r="3.6"/>
<circle cx="925.0" cy="766.3" r="3.6"/>
<circle cx="926.2" cy="775.3" r="3.6"/>
<circle cx="927.3" cy="768.9" r="3.6"/>
<circle cx="928.4" cy="766.0" r="3.6"/>
<circle cx="929.5" cy="768.0" r="3.6"/>
<circle cx="930.6" cy="764.6" r="3.6"/>
<circle cx="931.8" cy="766.6" r="3.6"/>
<circle cx="932.9" cy="767.2" r="3.6"/>
<circle cx="934.0" cy="773.0" r="3.6"/>
<circle cx="935.0" cy="647.3" r="3.6"/>
<circle cx="936.0" cy="649.7" r="3.6"/>
<circle cx="937.1" cy="651.2" r="3.6"/>
<circle cx="938.2" cy="637.3" r="3.6"/>
<circle cx="939.2" cy="660.4" r="3.6"/>
<circle cx="940.3" cy="658.7" r="3.6"/>
<circle cx="941.3" cy="663.6" r="3.6"/>
<circle cx="942.4" cy="666.1" r="3.6"/>
<circle cx="943.5" cy="670.8" r="3.6"/>
<circle cx="944.5" cy="691.0" r="3.6"/>
<circle cx="945.6" cy="683.0" r="3.6"/>
<circle cx="946.7" cy="696.5" r="3.6"/>
<circle cx="947.7" cy="699.9" r="3.6"/>
<circle cx="948.8" cy="688.2" r="3.6"/>
<circle cx="949.8" cy="697.8" r="3.6"/>
<circle cx="950.9" cy="706.4" r="3.6"/>
<circle cx="952.0" cy="709.0" r="3.6"/>
<circle cx="953.0" cy="702.7" r="3.6"/>
<circle cx="954.1" cy="716.5" r="3.6"/>
<circle cx="955.1" cy="698.4" r="3.6"/>
<circle cx="956.2" cy="704.5" r="3.6"/>
<circle cx="957.3" cy="704.3" r="3.6"/>
<circle cx="958.3" cy="704.3" r="3.6"/>
<circle cx="959.4" cy="707.4" r="3.6"/>
<circle cx="960.4" cy="706.4" r="3.6"/>
<circle cx="961.5" cy="717.2" r="3.6"/>
<circle cx="962.6" cy="715.2" r="3.6"/>
<circle cx="963.6" cy="722.0" r="3.6"/>
<circle cx="964.7" cy="707.5" r="3.6"/>
<circle cx="965.7" cy="717.9" r="3.6"/>
<circle cx="966.8" cy="717.0" r="3.6"/>
<circle cx="967.9" cy="725.6" r="3.6"/>
<circle cx="968.9" cy="724.1" r="3.6"/>
<circle cx="970.0" cy="724.6" r="3.6"/>
<circle cx="971.0" cy="728.5" r="3.6"/>
<circle cx="972.1" cy="730.5" r="3.6"/>
<circle cx="973.2" cy="719.5" r="3.6"/>
<circle cx="974.2" cy="729.0" r="3.6"/>
<circle cx="975.3" cy="725.1" r="3.6"/>
<circle cx="976.3" cy="727.2" r="3.6"/>
<circle cx="977.4" cy="731.0" r="3.6"/>
<circle cx="978.5" cy="730.9" r="3.6"/>
<circle cx="979.5" cy="724.3" r="3.6"/>
<circle cx="980.6" cy="729.4" r="3.6"/>
<circle cx="981.6" cy="736.0" r="3.6"/>
<circle cx="982.7" cy="735.4" r="3.6"/>
<circle cx="983.8" cy="734.6" r="3.6"/>
<circle cx="984.8" cy="737.3" r="3.6"/>
<circle cx="985.9" cy="724.6" r="3.6"/>
<circle cx="986.4" cy="732.3" r="3.6"/>
<circle cx="989.4" cy="724.0" r="3.6"/>
<circle cx="992.5" cy="739.3" r="3.6"/>
<circle cx="995.6" cy="739.0" r="3.6"/>
<circle cx="998.6" cy="723.8" r="3.6"/>
<circle cx="1001.7" cy="745.6" r="3.6"/>
<circle cx="1004.7" cy="742.3" r="3.6"/>
<circle cx="1007.8" cy="744.3" r="3.6"/>
<circle cx="1010.8" cy="740.7" r="3.6"/>
<circle cx="1013.9" cy="738.3" r="3.6"/>
<circle cx="1016.9" cy="734.9" r="3.6"/>
<circle cx="1020.0" cy="734.7" r="3.6"/>
<circle cx="1023.0" cy="744.1" r="3.6"/>
<circle cx="1026.1" cy="740.9" r="3.6"/>
<circle cx="1029.1" cy="750.2" r="3.6"/>
<circle cx="1032.2" cy="739.7" r="3.6"/>
<circle cx="1035.2" cy="752.0" r="3.6"/>
<circle cx="1038.3" cy="734.8" r="3.6"/>
<circle cx="1041.3" cy="755.4" r="3.6"/>
<circle cx="1044.4" cy="740.2" r="3.6"/>
<circle cx="1047.4" cy="743.6" r="3.6"/>
<circle cx="1050.5" cy="750.7" r="3.6"/>
<circle cx="1053.5" cy="733.4" r="3.6"/>
<circle cx="1056.6" cy="748.7" r="3.6"/>
<circle cx="1059.7" cy="733.7" r="3.6"/>
<circle cx="1062.7" cy="747.5" r="3.6"/>
<circle cx="1065.8" cy="745.4" r="3.6"/>
<circle cx="1068.8" cy="759.6" r="3.6"/>
<circle cx="1071.9" cy="751.4" r="3.6"/>
<circle cx="1074.9" cy="746.7" r="3.6"/>
<circle cx="1078.0" cy="752.9" r="3.6"/>
<circle cx="1081.0" cy="752.8" r="3.6"/>
<circle cx="1084.1" cy="755.6" r="3.6"/>
<circle cx="1087.1" cy="750.3" r="3.6"/>
<circle cx="1090.2" cy="753.4" r="3.6"/>
<circle cx="1093.2" cy="734.5" r="3.6"/>
<circle cx="1096.3" cy="754.7" r="3.6"/>
<circle cx="1099.3" cy="749.9" r="3.6"/>
<circle cx="1102.4" cy="747.7" r="3.6"/>
<circle cx="1105.4" cy="751.3" r="3.6"/>
<circle cx="1108.5" cy="748.5" r="3.6"/>
<circle cx="1111.5" cy="758.3" r="3.6"/>
<circle cx="1114.6" cy="756.7" r="3.6"/>
<circle cx="1117.6" cy="758.5" r="3.6"/>
<circle cx="1120.7" cy="762.0" r="3.6"/>
<circle cx="1123.8" cy="748.0" r="3.6"/>
<circle cx="1126.8" cy="752.9" r="3.6"/>
<circle cx="1129.9" cy="768.7" r="3.6"/>
<circle cx="1132.9" cy="754.8" r="3.6"/>
<circle cx="1136.0" cy="746.6" r="3.6"/>
<circle cx="1139.0" cy="755.5" r="3.6"/>
<circle cx="1142.1" cy="751.8" r="3.6"/>
<circle cx="1145.1" cy="751.9" r="3.6"/>
<circle cx="1148.2" cy="753.1" r="3.6"/>
<circle cx="1151.2" cy="760.1" r="3.6"/>
<circle cx="1154.3" cy="758.7" r="3.6"/>
<circle cx="1157.3" cy="757.6" r="3.6"/>
<circle cx="1160.4" cy="749.7" r="3.6"/>
<circle cx="1163.4" cy="757.0" r="3.6"/>
<circle cx="1166.5" cy="766.0" r="3.6"/>
<circle cx="1169.5" cy="751.6" r="3.6"/>
<circle cx="1172.6" cy="758.6" r="3.6"/>
<circle cx="1175.6" cy="758.4" r="3.6"/>
<circle cx="1178.7" cy="759.0" r="3.6"/>
<circle cx="1181.7" cy="750.1" r="3.6"/>
<circle cx="1184.8" cy="758.4" r="3.6"/>
<circle cx="1187.9" cy="758.7" r="3.6"/>
<circle cx="1190.9" cy="752.7" r="3.6"/>
<circle cx="1194.0" cy="758.0" r="3.6"/>
<circle cx="1197.0" cy="764.9" r="3.6"/>
<circle cx="1200.1" cy="772.3" r="3.6"/>
<circle cx="1203.1" cy="757.0" r="3.6"/>
<circle cx="1206.2" cy="749.2" r="3.6"/>
<circle cx="1209.2" cy="769.2" r="3.6"/>
<circle cx="1212.3" cy="768.3" r="3.6"/>
<circle cx="1215.3" cy="764.4" r="3.6"/>
<circle cx="1218.4" cy="756.9" r="3.6"/>
<circle cx="1221.4" cy="758.3" r="3.6"/>
<circle cx="1224.5" cy="767.7" r="3.6"/>
<circle cx="1227.5" cy="761.2" r="3.6"/>
<circle cx="1230.6" cy="752.9" r="3.6"/>
<circle cx="1233.6" cy="765.0" r="3.6"/>
<circle cx="1236.7" cy="753.5" r="3.6"/>
<circle cx="1239.7" cy="765.1" r="3.6"/>
<circle cx="1242.8" cy="762.8" r="3.6"/>
<circle cx="1245.8" cy="756.1" r="3.6"/>
<circle cx="1248.9" cy="759.6" r="3.6"/>
<circle cx="1251.9" cy="770.9" r="3.6"/>
<circle cx="1255.0" cy="754.1" r="3.6"/>
<circle cx="1258.1" cy="757.4" r="3.6"/>
<circle cx="1261.1" cy="752.1" r="3.6"/>
<circle cx="1264.2" cy="766.8" r="3.6"/>
<circle cx="1267.2" cy="752.7" r="3.6"/>
<circle cx="1270.3" cy="759.8" r="3.6"/>
<circle cx="1273.3" cy="747.6" r="3.6"/>
<circle cx="1276.4" cy="766.4" r="3.6"/>
<circle cx="1279.4" cy="764.7" r="3.6"/>
<circle cx="1282.5" cy="761.8" r="3.6"/>
<circle cx="1285.5" cy="766.8" r="3.6"/>
<circle cx="1288.6" cy="756.4" r="3.6"/>
<circle cx="1291.6" cy="758.2" r="3.6"/>
<circle cx="1294.7" cy="773.1" r="3.6"/>
<circle cx="1297.7" cy="763.6" r="3.6"/>
<circle cx="1300.8" cy="757.9" r="3.6"/>
<circle cx="1303.8" cy="759.3" r="3.6"/>
<circle cx="1306.9" cy="766.8" r="3.6"/>
<circle cx="1309.9" cy="760.7" r="3.6"/>
<circle cx="1313.0" cy="761.2" r="3.6"/>
<circle cx="1316.0" cy="764.0" r="3.6"/>
<circle cx="1319.1" cy="761.1" r="3.6"/>
<circle cx="1322.2" cy="767.1" r="3.6"/>
<circle cx="1325.2" cy="756.7" r="3.6"/>
<circle cx="1328.3" cy="765.0" r="3.6"/>
<circle cx="1331.3" cy="755.3" r="3.6"/>
<circle cx="1334.4" cy="776.8" r="3.6"/>
<circle cx="1337.4" cy="763.8" r="3.6"/>
<circle cx="1340.5" cy="761.9" r="3.6"/>
<circle cx="1343.5" cy="761.1" r="3.6"/>
<circle cx="1346.6" cy="767.1" r="3.6"/>
<circle cx="1349.6" cy="757.9" r="3.6"/>
<circle cx="1352.7" cy="763.3" r="3.6"/>
<circle cx="1355.7" cy="764.0" r="3.6"/>
<circle cx="1358.8" cy="757.4" r="3.6"/>
<circle cx="1361.8" cy="757.9" r="3.6"/>
<circle cx="1364.9" cy="761.3" r="3.6"/>
<circle cx="1367.9" cy="764.3" r="3.6"/>
<circle cx="1371.0" cy="763.7" r="3.6"/>
<circle cx="1374.0" cy="758.8" r="3.6"/>
<circle cx="1377.1" cy="761.2" r="3.6"/>
<circle cx="1380.1" cy="768.5" r="3.6"/>
<circle cx="1383.2" cy="760.6" r="3.6"/>
<circle cx="1386.3" cy="771.3" r="3.6"/>
<circle cx="1389.3" cy="763.5" r="3.6"/>
<circle cx="1392.4" cy="763.0" r="3.6"/>
<circle cx="1395.4" cy="762.0" r="3.6"/>
<circle cx="1398.5" cy="765.1" r="3.6"/>
<circle cx="1401.5" cy="766.9" r="3.6"/>
<circle cx="1404.6" cy="752.7" r="3.6"/>
<circle cx="1407.6" cy="770.1" r="3.6"/>
<circle cx="1410.7" cy="764.2" r="3.6"/>
<circle cx="1413.7" cy="758.6" r="3.6"/>
<circle cx="1416.8" cy="767.0" r="3.6"/>
<circle cx="1419.8" cy="764.6" r="3.6"/>
<circle cx="1422.9" cy="757.8" r="3.6"/>
<circle cx="1425.9" cy="761.3" r="3.6"/>
<circle cx="1429.0" cy="766.0" r="3.6"/>
<circle cx="1432.0" cy="767.4" r="3.6"/>
<path d="M 935.0 763.2 L 935.0 648.5 M 935.8 644.8 L 936.7 648.4 L 937.6 652.0 L 938.4 655.6 L 939.3 659.1 L 940.2 662.5 L 941.1 665.9 L 942.0 669.2 L 942.9 672.6 L 943.8 676.0 L 944.6 679.6 L 945.5 683.0 L 946.4 686.4 L 947.3 689.7 L 948.2 692.7 L 949.1 695.3 L 950.0 697.6 L 950.8 699.5 L 951.7 701.3 L 952.6 703.0 L 953.5 704.6 L 954.4 706.1 L 955.3 707.5 L 956.2 708.8 L 957.0 710.1 L 957.9 711.3 L 958.8 712.4 L 959.7 713.5 L 960.6 714.5 L 961.5 715.5 L 962.4 716.4 L 963.2 717.3 L 964.1 718.1 L 965.0 719.0 L 965.9 719.8 L 966.8 720.5 L 967.7 721.3 L 968.6 722.0 L 969.4 722.7 L 970.3 723.4 L 971.9 724.5 L 977.7 728.1 L 983.6 731.0 L 989.4 733.4 L 995.2 735.6 L 1001.0 737.3 L 1006.8 738.6 L 1012.6 739.7 L 1018.4 740.7 L 1024.2 741.6 L 1030.0 742.4 L 1035.8 743.2 L 1041.6 744.0 L 1047.4 744.7 L 1053.2 745.4 L 1059.1 746.1 L 1064.9 746.8 L 1070.7 747.4 L 1076.5 748.0 L 1082.3 748.5 L 1088.1 749.1 L 1093.9 749.6 L 1099.7 750.1 L 1105.5 750.6 L 1111.3 751.1 L 1117.1 751.6 L 1122.9 752.0 L 1128.7 752.5 L 1134.6 752.9 L 1140.4 753.3 L 1146.2 753.7 L 1152.0 754.1 L 1157.8 754.5 L 1163.6 754.9 L 1169.4 755.2 L 1175.2 755.6 L 1181.0 755.9 L 1186.8 756.2 L 1192.6 756.5 L 1198.4 756.9 L 1204.2 757.2 L 1210.1 757.5 L 1215.9 757.8 L 1221.7 758.0 L 1227.5 758.3 L 1233.3 758.6 L 1239.1 758.8 L 1244.9 759.0 L 1250.7 759.3 L 1256.5 759.5 L 1262.3 759.7 L 1268.1 759.9 L 1273.9 760.2 L 1279.8 760.4 L 1285.6 760.6 L 1291.4 760.8 L 1297.2 761.0 L 1303.0 761.1 L 1308.8 761.3 L 1314.6 761.4 L 1320.4 761.6 L 1326.2 761.7 L 1332.0 761.8 L 1337.8 761.9 L 1343.6 762.0 L 1349.4 762.1 L 1355.3 762.2 L 1361.1 762.3 L 1366.9 762.3 L 1372.7 762.4 L 1378.5 762.5 L 1384.3 762.6 L 1390.1 762.6 L 1395.9 762.7 L 1401.7 762.8 L 1407.5 762.8 L 1413.3 762.8 L 1419.1 762.9 L 1424.9 762.9 L 1430.8 762.9" fill="none" stroke="#00e6f0" stroke-width="2.3"/>
</g>
<line x1="890.40" y1="769.40" x2="896.40" y2="769.40" stroke="#000" stroke-width="1.8" />
<text x="883.3" y="776.4" font-size="21" text-anchor="end" fill="#000" >0.0</text>
<line x1="890.40" y1="738.25" x2="893.90" y2="738.25" stroke="#000" stroke-width="1.8" />
<line x1="890.40" y1="707.10" x2="896.40" y2="707.10" stroke="#000" stroke-width="1.8" />
<text x="883.3" y="714.1" font-size="21" text-anchor="end" fill="#000" >0.5</text>
<line x1="890.40" y1="675.95" x2="893.90" y2="675.95" stroke="#000" stroke-width="1.8" />
<line x1="890.40" y1="644.80" x2="896.40" y2="644.80" stroke="#000" stroke-width="1.8" />
<text x="883.3" y="651.8" font-size="21" text-anchor="end" fill="#000" >1.0</text>
<line x1="938.20" y1="794.80" x2="938.20" y2="787.80" stroke="#000" stroke-width="1.8" />
<line x1="1018.53" y1="794.80" x2="1018.53" y2="790.30" stroke="#000" stroke-width="1.8" />
<line x1="1098.85" y1="794.80" x2="1098.85" y2="787.80" stroke="#000" stroke-width="1.8" />
<line x1="1179.17" y1="794.80" x2="1179.17" y2="790.30" stroke="#000" stroke-width="1.8" />
<line x1="1259.50" y1="794.80" x2="1259.50" y2="787.80" stroke="#000" stroke-width="1.8" />
<line x1="1339.83" y1="794.80" x2="1339.83" y2="790.30" stroke="#000" stroke-width="1.8" />
<line x1="1420.15" y1="794.80" x2="1420.15" y2="787.80" stroke="#000" stroke-width="1.8" />
<g clip-path="url(#clipD)" fill="none" stroke="#a040a0" stroke-width="0.85">
<circle cx="909.3" cy="918.7" r="3.6"/>
<circle cx="910.4" cy="934.5" r="3.6"/>
<circle cx="911.5" cy="943.7" r="3.6"/>
<circle cx="912.7" cy="935.7" r="3.6"/>
<circle cx="913.8" cy="920.0" r="3.6"/>
<circle cx="914.9" cy="929.0" r="3.6"/>
<circle cx="916.0" cy="932.5" r="3.6"/>
<circle cx="917.2" cy="929.6" r="3.6"/>
<circle cx="918.3" cy="928.8" r="3.6"/>
<circle cx="919.4" cy="924.5" r="3.6"/>
<circle cx="920.5" cy="930.1" r="3.6"/>
<circle cx="921.7" cy="922.6" r="3.6"/>
<circle cx="922.8" cy="934.1" r="3.6"/>
<circle cx="923.9" cy="931.1" r="3.6"/>
<circle cx="925.0" cy="934.2" r="3.6"/>
<circle cx="926.2" cy="930.3" r="3.6"/>
<circle cx="927.3" cy="917.9" r="3.6"/>
<circle cx="928.4" cy="941.2" r="3.6"/>
<circle cx="929.5" cy="940.4" r="3.6"/>
<circle cx="930.6" cy="935.0" r="3.6"/>
<circle cx="931.8" cy="923.7" r="3.6"/>
<circle cx="932.9" cy="929.1" r="3.6"/>
<circle cx="934.0" cy="936.1" r="3.6"/>
<circle cx="935.0" cy="809.0" r="3.6"/>
<circle cx="936.0" cy="820.3" r="3.6"/>
<circle cx="937.1" cy="823.8" r="3.6"/>
<circle cx="938.2" cy="825.4" r="3.6"/>
<circle cx="939.2" cy="820.7" r="3.6"/>
<circle cx="940.3" cy="830.0" r="3.6"/>
<circle cx="941.3" cy="830.5" r="3.6"/>
<circle cx="942.4" cy="825.0" r="3.6"/>
<circle cx="943.5" cy="839.5" r="3.6"/>
<circle cx="944.5" cy="829.7" r="3.6"/>
<circle cx="945.6" cy="848.5" r="3.6"/>
<circle cx="946.7" cy="828.5" r="3.6"/>
<circle cx="947.7" cy="856.3" r="3.6"/>
<circle cx="948.8" cy="863.2" r="3.6"/>
<circle cx="949.8" cy="849.2" r="3.6"/>
<circle cx="950.9" cy="854.3" r="3.6"/>
<circle cx="952.0" cy="849.6" r="3.6"/>
<circle cx="953.0" cy="851.3" r="3.6"/>
<circle cx="954.1" cy="869.8" r="3.6"/>
<circle cx="955.1" cy="861.7" r="3.6"/>
<circle cx="956.2" cy="845.9" r="3.6"/>
<circle cx="957.3" cy="868.0" r="3.6"/>
<circle cx="958.3" cy="855.4" r="3.6"/>
<circle cx="959.4" cy="868.5" r="3.6"/>
<circle cx="960.4" cy="873.3" r="3.6"/>
<circle cx="961.5" cy="880.0" r="3.6"/>
<circle cx="962.6" cy="878.4" r="3.6"/>
<circle cx="963.6" cy="886.3" r="3.6"/>
<circle cx="964.7" cy="865.3" r="3.6"/>
<circle cx="965.7" cy="878.4" r="3.6"/>
<circle cx="966.8" cy="883.9" r="3.6"/>
<circle cx="967.9" cy="873.7" r="3.6"/>
<circle cx="968.9" cy="888.2" r="3.6"/>
<circle cx="970.0" cy="878.3" r="3.6"/>
<circle cx="971.0" cy="877.7" r="3.6"/>
<circle cx="972.1" cy="876.9" r="3.6"/>
<circle cx="973.2" cy="882.3" r="3.6"/>
<circle cx="974.2" cy="876.2" r="3.6"/>
<circle cx="975.3" cy="887.8" r="3.6"/>
<circle cx="976.3" cy="882.9" r="3.6"/>
<circle cx="977.4" cy="878.6" r="3.6"/>
<circle cx="978.5" cy="886.6" r="3.6"/>
<circle cx="979.5" cy="882.5" r="3.6"/>
<circle cx="980.6" cy="907.8" r="3.6"/>
<circle cx="981.6" cy="886.6" r="3.6"/>
<circle cx="982.7" cy="887.3" r="3.6"/>
<circle cx="983.8" cy="893.4" r="3.6"/>
<circle cx="984.8" cy="885.7" r="3.6"/>
<circle cx="985.9" cy="878.8" r="3.6"/>
<circle cx="986.4" cy="889.2" r="3.6"/>
<circle cx="989.4" cy="889.4" r="3.6"/>
<circle cx="992.5" cy="899.4" r="3.6"/>
<circle cx="995.6" cy="902.1" r="3.6"/>
<circle cx="998.6" cy="899.4" r="3.6"/>
<circle cx="1001.7" cy="908.6" r="3.6"/>
<circle cx="1004.7" cy="902.3" r="3.6"/>
<circle cx="1007.8" cy="897.5" r="3.6"/>
<circle cx="1010.8" cy="904.9" r="3.6"/>
<circle cx="1013.9" cy="906.6" r="3.6"/>
<circle cx="1016.9" cy="910.6" r="3.6"/>
<circle cx="1020.0" cy="899.3" r="3.6"/>
<circle cx="1023.0" cy="906.5" r="3.6"/>
<circle cx="1026.1" cy="906.7" r="3.6"/>
<circle cx="1029.1" cy="905.3" r="3.6"/>
<circle cx="1032.2" cy="901.7" r="3.6"/>
<circle cx="1035.2" cy="915.0" r="3.6"/>
<circle cx="1038.3" cy="912.0" r="3.6"/>
<circle cx="1041.3" cy="902.6" r="3.6"/>
<circle cx="1044.4" cy="913.3" r="3.6"/>
<circle cx="1047.4" cy="908.0" r="3.6"/>
<circle cx="1050.5" cy="894.8" r="3.6"/>
<circle cx="1053.5" cy="919.6" r="3.6"/>
<circle cx="1056.6" cy="910.4" r="3.6"/>
<circle cx="1059.7" cy="907.8" r="3.6"/>
<circle cx="1062.7" cy="902.7" r="3.6"/>
<circle cx="1065.8" cy="913.1" r="3.6"/>
<circle cx="1068.8" cy="921.5" r="3.6"/>
<circle cx="1071.9" cy="920.7" r="3.6"/>
<circle cx="1074.9" cy="915.2" r="3.6"/>
<circle cx="1078.0" cy="925.0" r="3.6"/>
<circle cx="1081.0" cy="902.1" r="3.6"/>
<circle cx="1084.1" cy="921.4" r="3.6"/>
<circle cx="1087.1" cy="907.8" r="3.6"/>
<circle cx="1090.2" cy="912.2" r="3.6"/>
<circle cx="1093.2" cy="916.0" r="3.6"/>
<circle cx="1096.3" cy="914.3" r="3.6"/>
<circle cx="1099.3" cy="926.1" r="3.6"/>
<circle cx="1102.4" cy="919.6" r="3.6"/>
<circle cx="1105.4" cy="914.3" r="3.6"/>
<circle cx="1108.5" cy="917.3" r="3.6"/>
<circle cx="1111.5" cy="915.4" r="3.6"/>
<circle cx="1114.6" cy="916.2" r="3.6"/>
<circle cx="1117.6" cy="910.4" r="3.6"/>
<circle cx="1120.7" cy="923.1" r="3.6"/>
<circle cx="1123.8" cy="916.8" r="3.6"/>
<circle cx="1126.8" cy="912.0" r="3.6"/>
<circle cx="1129.9" cy="920.3" r="3.6"/>
<circle cx="1132.9" cy="922.5" r="3.6"/>
<circle cx="1136.0" cy="913.8" r="3.6"/>
<circle cx="1139.0" cy="913.7" r="3.6"/>
<circle cx="1142.1" cy="923.8" r="3.6"/>
<circle cx="1145.1" cy="925.0" r="3.6"/>
<circle cx="1148.2" cy="917.2" r="3.6"/>
<circle cx="1151.2" cy="913.9" r="3.6"/>
<circle cx="1154.3" cy="924.7" r="3.6"/>
<circle cx="1157.3" cy="925.4" r="3.6"/>
<circle cx="1160.4" cy="916.9" r="3.6"/>
<circle cx="1163.4" cy="903.2" r="3.6"/>
<circle cx="1166.5" cy="922.1" r="3.6"/>
<circle cx="1169.5" cy="923.8" r="3.6"/>
<circle cx="1172.6" cy="926.9" r="3.6"/>
<circle cx="1175.6" cy="914.2" r="3.6"/>
<circle cx="1178.7" cy="923.2" r="3.6"/>
<circle cx="1181.7" cy="932.9" r="3.6"/>
<circle cx="1184.8" cy="931.2" r="3.6"/>
<circle cx="1187.9" cy="930.6" r="3.6"/>
<circle cx="1190.9" cy="925.7" r="3.6"/>
<circle cx="1194.0" cy="923.2" r="3.6"/>
<circle cx="1197.0" cy="918.5" r="3.6"/>
<circle cx="1200.1" cy="929.6" r="3.6"/>
<circle cx="1203.1" cy="919.9" r="3.6"/>
<circle cx="1206.2" cy="932.5" r="3.6"/>
<circle cx="1209.2" cy="920.1" r="3.6"/>
<circle cx="1212.3" cy="923.2" r="3.6"/>
<circle cx="1215.3" cy="921.2" r="3.6"/>
<circle cx="1218.4" cy="932.7" r="3.6"/>
<circle cx="1221.4" cy="928.6" r="3.6"/>
<circle cx="1224.5" cy="924.4" r="3.6"/>
<circle cx="1227.5" cy="914.4" r="3.6"/>
<circle cx="1230.6" cy="921.1" r="3.6"/>
<circle cx="1233.6" cy="917.5" r="3.6"/>
<circle cx="1236.7" cy="921.3" r="3.6"/>
<circle cx="1239.7" cy="916.7" r="3.6"/>
<circle cx="1242.8" cy="923.5" r="3.6"/>
<circle cx="1245.8" cy="913.9" r="3.6"/>
<circle cx="1248.9" cy="921.3" r="3.6"/>
<circle cx="1251.9" cy="924.4" r="3.6"/>
<circle cx="1255.0" cy="915.4" r="3.6"/>
<circle cx="1258.1" cy="915.9" r="3.6"/>
<circle cx="1261.1" cy="924.3" r="3.6"/>
<circle cx="1264.2" cy="916.0" r="3.6"/>
<circle cx="1267.2" cy="928.5" r="3.6"/>
<circle cx="1270.3" cy="918.6" r="3.6"/>
<circle cx="1273.3" cy="932.8" r="3.6"/>
<circle cx="1276.4" cy="918.3" r="3.6"/>
<circle cx="1279.4" cy="929.7" r="3.6"/>
<circle cx="1282.5" cy="921.7" r="3.6"/>
<circle cx="1285.5" cy="920.9" r="3.6"/>
<circle cx="1288.6" cy="923.8" r="3.6"/>
<circle cx="1291.6" cy="934.0" r="3.6"/>
<circle cx="1294.7" cy="927.3" r="3.6"/>
<circle cx="1297.7" cy="925.6" r="3.6"/>
<circle cx="1300.8" cy="922.1" r="3.6"/>
<circle cx="1303.8" cy="926.8" r="3.6"/>
<circle cx="1306.9" cy="927.9" r="3.6"/>
<circle cx="1309.9" cy="917.2" r="3.6"/>
<circle cx="1313.0" cy="926.0" r="3.6"/>
<circle cx="1316.0" cy="920.7" r="3.6"/>
<circle cx="1319.1" cy="940.9" r="3.6"/>
<circle cx="1322.2" cy="933.4" r="3.6"/>
<circle cx="1325.2" cy="928.6" r="3.6"/>
<circle cx="1328.3" cy="930.8" r="3.6"/>
<circle cx="1331.3" cy="930.1" r="3.6"/>
<circle cx="1334.4" cy="920.2" r="3.6"/>
<circle cx="1337.4" cy="915.4" r="3.6"/>
<circle cx="1340.5" cy="923.5" r="3.6"/>
<circle cx="1343.5" cy="929.0" r="3.6"/>
<circle cx="1346.6" cy="932.9" r="3.6"/>
<circle cx="1349.6" cy="929.5" r="3.6"/>
<circle cx="1352.7" cy="910.5" r="3.6"/>
<circle cx="1355.7" cy="926.3" r="3.6"/>
<circle cx="1358.8" cy="927.3" r="3.6"/>
<circle cx="1361.8" cy="924.2" r="3.6"/>
<circle cx="1364.9" cy="913.5" r="3.6"/>
<circle cx="1367.9" cy="924.3" r="3.6"/>
<circle cx="1371.0" cy="912.1" r="3.6"/>
<circle cx="1374.0" cy="923.6" r="3.6"/>
<circle cx="1377.1" cy="927.6" r="3.6"/>
<circle cx="1380.1" cy="926.5" r="3.6"/>
<circle cx="1383.2" cy="926.7" r="3.6"/>
<circle cx="1386.3" cy="928.2" r="3.6"/>
<circle cx="1389.3" cy="932.9" r="3.6"/>
<circle cx="1392.4" cy="922.6" r="3.6"/>
<circle cx="1395.4" cy="920.0" r="3.6"/>
<circle cx="1398.5" cy="924.7" r="3.6"/>
<circle cx="1401.5" cy="929.8" r="3.6"/>
<circle cx="1404.6" cy="921.3" r="3.6"/>
<circle cx="1407.6" cy="924.6" r="3.6"/>
<circle cx="1410.7" cy="927.2" r="3.6"/>
<circle cx="1413.7" cy="920.4" r="3.6"/>
<circle cx="1416.8" cy="916.4" r="3.6"/>
<circle cx="1419.8" cy="928.7" r="3.6"/>
<circle cx="1422.9" cy="931.0" r="3.6"/>
<circle cx="1425.9" cy="918.1" r="3.6"/>
<circle cx="1429.0" cy="924.8" r="3.6"/>
<circle cx="1432.0" cy="913.6" r="3.6"/>
<path d="M 935.0 925.8 L 935.0 811.1 M 935.8 809.4 L 936.7 813.5 L 937.6 817.5 L 938.4 821.2 L 939.3 824.6 L 940.2 827.6 L 941.1 830.3 L 942.0 832.8 L 942.9 835.2 L 943.8 837.4 L 944.6 839.5 L 945.5 841.5 L 946.4 843.5 L 947.3 845.4 L 948.2 847.2 L 949.1 849.1 L 950.0 850.9 L 950.8 852.8 L 951.7 854.6 L 952.6 856.4 L 953.5 858.2 L 954.4 860.0 L 955.3 861.8 L 956.2 863.5 L 957.0 865.1 L 957.9 866.8 L 958.8 868.3 L 959.7 869.8 L 960.6 871.1 L 961.5 872.4 L 962.4 873.6 L 963.2 874.8 L 964.1 875.9 L 965.0 877.0 L 965.9 878.0 L 966.8 879.0 L 967.7 880.0 L 968.6 881.0 L 969.4 881.9 L 970.3 882.8 L 971.9 884.3 L 977.7 889.1 L 983.6 892.8 L 989.4 896.0 L 995.2 898.8 L 1001.0 901.1 L 1006.8 903.0 L 1012.6 904.8 L 1018.4 906.3 L 1024.2 907.6 L 1030.0 908.7 L 1035.8 909.6 L 1041.6 910.5 L 1047.4 911.3 L 1053.2 912.0 L 1059.1 912.6 L 1064.9 913.2 L 1070.7 913.8 L 1076.5 914.3 L 1082.3 914.8 L 1088.1 915.3 L 1093.9 915.8 L 1099.7 916.3 L 1105.5 916.7 L 1111.3 917.2 L 1117.1 917.6 L 1122.9 918.0 L 1128.7 918.4 L 1134.6 918.8 L 1140.4 919.2 L 1146.2 919.5 L 1152.0 919.9 L 1157.8 920.2 L 1163.6 920.5 L 1169.4 920.7 L 1175.2 920.9 L 1181.0 921.2 L 1186.8 921.4 L 1192.6 921.6 L 1198.4 921.8 L 1204.2 922.0 L 1210.1 922.1 L 1215.9 922.3 L 1221.7 922.5 L 1227.5 922.6 L 1233.3 922.8 L 1239.1 922.9 L 1244.9 923.0 L 1250.7 923.1 L 1256.5 923.3 L 1262.3 923.4 L 1268.1 923.5 L 1273.9 923.6 L 1279.8 923.7 L 1285.6 923.8 L 1291.4 923.9 L 1297.2 924.0 L 1303.0 924.1 L 1308.8 924.2 L 1314.6 924.2 L 1320.4 924.3 L 1326.2 924.4 L 1332.0 924.4 L 1337.8 924.4 L 1343.6 924.5 L 1349.4 924.5 L 1355.3 924.5 L 1361.1 924.6 L 1366.9 924.6 L 1372.7 924.6 L 1378.5 924.6 L 1384.3 924.7 L 1390.1 924.7 L 1395.9 924.7 L 1401.7 924.7 L 1407.5 924.7 L 1413.3 924.8 L 1419.1 924.8 L 1424.9 924.8 L 1430.8 924.8" fill="none" stroke="#8b0a8b" stroke-width="2.3"/>
</g>
<line x1="890.40" y1="932.00" x2="896.40" y2="932.00" stroke="#000" stroke-width="1.8" />
<text x="883.3" y="939.0" font-size="21" text-anchor="end" fill="#000" >0.0</text>
<line x1="890.40" y1="900.85" x2="893.90" y2="900.85" stroke="#000" stroke-width="1.8" />
<line x1="890.40" y1="869.70" x2="896.40" y2="869.70" stroke="#000" stroke-width="1.8" />
<text x="883.3" y="876.7" font-size="21" text-anchor="end" fill="#000" >0.5</text>
<line x1="890.40" y1="838.55" x2="893.90" y2="838.55" stroke="#000" stroke-width="1.8" />
<line x1="890.40" y1="807.40" x2="896.40" y2="807.40" stroke="#000" stroke-width="1.8" />
<text x="883.3" y="814.4" font-size="21" text-anchor="end" fill="#000" >1.0</text>
<line x1="938.20" y1="957.50" x2="938.20" y2="950.50" stroke="#000" stroke-width="1.8" />
<line x1="1018.53" y1="957.50" x2="1018.53" y2="953.00" stroke="#000" stroke-width="1.8" />
<line x1="1098.85" y1="957.50" x2="1098.85" y2="950.50" stroke="#000" stroke-width="1.8" />
<line x1="1179.17" y1="957.50" x2="1179.17" y2="953.00" stroke="#000" stroke-width="1.8" />
<line x1="1259.50" y1="957.50" x2="1259.50" y2="950.50" stroke="#000" stroke-width="1.8" />
<line x1="1339.83" y1="957.50" x2="1339.83" y2="953.00" stroke="#000" stroke-width="1.8" />
<line x1="1420.15" y1="957.50" x2="1420.15" y2="950.50" stroke="#000" stroke-width="1.8" />
<g clip-path="url(#clipD)" fill="none" stroke="#ff8c3a" stroke-width="0.85">
<circle cx="909.3" cy="1080.5" r="3.6"/>
<circle cx="910.4" cy="1099.5" r="3.6"/>
<circle cx="911.5" cy="1102.2" r="3.6"/>
<circle cx="912.7" cy="1097.1" r="3.6"/>
<circle cx="913.8" cy="1102.7" r="3.6"/>
<circle cx="914.9" cy="1082.8" r="3.6"/>
<circle cx="916.0" cy="1087.5" r="3.6"/>
<circle cx="917.2" cy="1089.3" r="3.6"/>
<circle cx="918.3" cy="1083.5" r="3.6"/>
<circle cx="919.4" cy="1098.5" r="3.6"/>
<circle cx="920.5" cy="1103.9" r="3.6"/>
<circle cx="921.7" cy="1091.5" r="3.6"/>
<circle cx="922.8" cy="1091.7" r="3.6"/>
<circle cx="923.9" cy="1100.4" r="3.6"/>
<circle cx="925.0" cy="1090.0" r="3.6"/>
<circle cx="926.2" cy="1083.0" r="3.6"/>
<circle cx="927.3" cy="1098.0" r="3.6"/>
<circle cx="928.4" cy="1092.6" r="3.6"/>
<circle cx="929.5" cy="1091.5" r="3.6"/>
<circle cx="930.6" cy="1090.4" r="3.6"/>
<circle cx="931.8" cy="1086.4" r="3.6"/>
<circle cx="932.9" cy="1089.7" r="3.6"/>
<circle cx="934.0" cy="1083.6" r="3.6"/>
<circle cx="935.0" cy="982.7" r="3.6"/>
<circle cx="936.0" cy="980.9" r="3.6"/>
<circle cx="937.1" cy="974.1" r="3.6"/>
<circle cx="938.2" cy="986.5" r="3.6"/>
<circle cx="939.2" cy="990.3" r="3.6"/>
<circle cx="940.3" cy="989.4" r="3.6"/>
<circle cx="941.3" cy="989.6" r="3.6"/>
<circle cx="942.4" cy="999.2" r="3.6"/>
<circle cx="943.5" cy="994.5" r="3.6"/>
<circle cx="944.5" cy="991.9" r="3.6"/>
<circle cx="945.6" cy="1019.0" r="3.6"/>
<circle cx="946.7" cy="1026.0" r="3.6"/>
<circle cx="947.7" cy="1006.4" r="3.6"/>
<circle cx="948.8" cy="1021.0" r="3.6"/>
<circle cx="949.8" cy="1006.8" r="3.6"/>
<circle cx="950.9" cy="998.7" r="3.6"/>
<circle cx="952.0" cy="1023.5" r="3.6"/>
<circle cx="953.0" cy="1027.6" r="3.6"/>
<circle cx="954.1" cy="1027.0" r="3.6"/>
<circle cx="955.1" cy="1027.0" r="3.6"/>
<circle cx="956.2" cy="1031.4" r="3.6"/>
<circle cx="957.3" cy="1039.8" r="3.6"/>
<circle cx="958.3" cy="1031.8" r="3.6"/>
<circle cx="959.4" cy="1051.7" r="3.6"/>
<circle cx="960.4" cy="1035.2" r="3.6"/>
<circle cx="961.5" cy="1038.8" r="3.6"/>
<circle cx="962.6" cy="1031.1" r="3.6"/>
<circle cx="963.6" cy="1040.9" r="3.6"/>
<circle cx="964.7" cy="1039.7" r="3.6"/>
<circle cx="965.7" cy="1051.5" r="3.6"/>
<circle cx="966.8" cy="1044.2" r="3.6"/>
<circle cx="967.9" cy="1040.8" r="3.6"/>
<circle cx="968.9" cy="1039.9" r="3.6"/>
<circle cx="970.0" cy="1047.6" r="3.6"/>
<circle cx="971.0" cy="1037.6" r="3.6"/>
<circle cx="972.1" cy="1040.8" r="3.6"/>
<circle cx="973.2" cy="1056.0" r="3.6"/>
<circle cx="974.2" cy="1070.3" r="3.6"/>
<circle cx="975.3" cy="1060.8" r="3.6"/>
<circle cx="976.3" cy="1052.8" r="3.6"/>
<circle cx="977.4" cy="1052.8" r="3.6"/>
<circle cx="978.5" cy="1056.8" r="3.6"/>
<circle cx="979.5" cy="1058.3" r="3.6"/>
<circle cx="980.6" cy="1050.9" r="3.6"/>
<circle cx="981.6" cy="1060.8" r="3.6"/>
<circle cx="982.7" cy="1072.8" r="3.6"/>
<circle cx="983.8" cy="1059.8" r="3.6"/>
<circle cx="984.8" cy="1050.3" r="3.6"/>
<circle cx="985.9" cy="1064.8" r="3.6"/>
<circle cx="986.4" cy="1053.9" r="3.6"/>
<circle cx="989.4" cy="1055.7" r="3.6"/>
<circle cx="992.5" cy="1061.4" r="3.6"/>
<circle cx="995.6" cy="1059.3" r="3.6"/>
<circle cx="998.6" cy="1070.2" r="3.6"/>
<circle cx="1001.7" cy="1063.8" r="3.6"/>
<circle cx="1004.7" cy="1054.9" r="3.6"/>
<circle cx="1007.8" cy="1066.5" r="3.6"/>
<circle cx="1010.8" cy="1074.3" r="3.6"/>
<circle cx="1013.9" cy="1057.4" r="3.6"/>
<circle cx="1016.9" cy="1077.4" r="3.6"/>
<circle cx="1020.0" cy="1057.4" r="3.6"/>
<circle cx="1023.0" cy="1068.6" r="3.6"/>
<circle cx="1026.1" cy="1065.6" r="3.6"/>
<circle cx="1029.1" cy="1067.9" r="3.6"/>
<circle cx="1032.2" cy="1070.6" r="3.6"/>
<circle cx="1035.2" cy="1063.8" r="3.6"/>
<circle cx="1038.3" cy="1072.1" r="3.6"/>
<circle cx="1041.3" cy="1077.5" r="3.6"/>
<circle cx="1044.4" cy="1072.0" r="3.6"/>
<circle cx="1047.4" cy="1084.6" r="3.6"/>
<circle cx="1050.5" cy="1074.0" r="3.6"/>
<circle cx="1053.5" cy="1085.4" r="3.6"/>
<circle cx="1056.6" cy="1073.4" r="3.6"/>
<circle cx="1059.7" cy="1068.9" r="3.6"/>
<circle cx="1062.7" cy="1069.8" r="3.6"/>
<circle cx="1065.8" cy="1075.4" r="3.6"/>
<circle cx="1068.8" cy="1093.2" r="3.6"/>
<circle cx="1071.9" cy="1078.2" r="3.6"/>
<circle cx="1074.9" cy="1066.5" r="3.6"/>
<circle cx="1078.0" cy="1079.7" r="3.6"/>
<circle cx="1081.0" cy="1072.0" r="3.6"/>
<circle cx="1084.1" cy="1080.4" r="3.6"/>
<circle cx="1087.1" cy="1065.3" r="3.6"/>
<circle cx="1090.2" cy="1090.7" r="3.6"/>
<circle cx="1093.2" cy="1080.1" r="3.6"/>
<circle cx="1096.3" cy="1079.4" r="3.6"/>
<circle cx="1099.3" cy="1073.5" r="3.6"/>
<circle cx="1102.4" cy="1077.0" r="3.6"/>
<circle cx="1105.4" cy="1076.3" r="3.6"/>
<circle cx="1108.5" cy="1093.3" r="3.6"/>
<circle cx="1111.5" cy="1064.2" r="3.6"/>
<circle cx="1114.6" cy="1076.7" r="3.6"/>
<circle cx="1117.6" cy="1082.6" r="3.6"/>
<circle cx="1120.7" cy="1068.9" r="3.6"/>
<circle cx="1123.8" cy="1086.2" r="3.6"/>
<circle cx="1126.8" cy="1076.4" r="3.6"/>
<circle cx="1129.9" cy="1072.0" r="3.6"/>
<circle cx="1132.9" cy="1073.8" r="3.6"/>
<circle cx="1136.0" cy="1077.5" r="3.6"/>
<circle cx="1139.0" cy="1080.0" r="3.6"/>
<circle cx="1142.1" cy="1086.4" r="3.6"/>
<circle cx="1145.1" cy="1077.4" r="3.6"/>
<circle cx="1148.2" cy="1088.6" r="3.6"/>
<circle cx="1151.2" cy="1072.7" r="3.6"/>
<circle cx="1154.3" cy="1074.2" r="3.6"/>
<circle cx="1157.3" cy="1080.1" r="3.6"/>
<circle cx="1160.4" cy="1093.5" r="3.6"/>
<circle cx="1163.4" cy="1076.0" r="3.6"/>
<circle cx="1166.5" cy="1076.2" r="3.6"/>
<circle cx="1169.5" cy="1088.1" r="3.6"/>
<circle cx="1172.6" cy="1083.7" r="3.6"/>
<circle cx="1175.6" cy="1079.9" r="3.6"/>
<circle cx="1178.7" cy="1076.3" r="3.6"/>
<circle cx="1181.7" cy="1083.7" r="3.6"/>
<circle cx="1184.8" cy="1087.0" r="3.6"/>
<circle cx="1187.9" cy="1085.0" r="3.6"/>
<circle cx="1190.9" cy="1088.3" r="3.6"/>
<circle cx="1194.0" cy="1069.6" r="3.6"/>
<circle cx="1197.0" cy="1069.3" r="3.6"/>
<circle cx="1200.1" cy="1096.0" r="3.6"/>
<circle cx="1203.1" cy="1084.8" r="3.6"/>
<circle cx="1206.2" cy="1071.5" r="3.6"/>
<circle cx="1209.2" cy="1072.7" r="3.6"/>
<circle cx="1212.3" cy="1069.0" r="3.6"/>
<circle cx="1215.3" cy="1073.9" r="3.6"/>
<circle cx="1218.4" cy="1079.5" r="3.6"/>
<circle cx="1221.4" cy="1080.6" r="3.6"/>
<circle cx="1224.5" cy="1073.3" r="3.6"/>
<circle cx="1227.5" cy="1079.9" r="3.6"/>
<circle cx="1230.6" cy="1094.3" r="3.6"/>
<circle cx="1233.6" cy="1082.1" r="3.6"/>
<circle cx="1236.7" cy="1095.4" r="3.6"/>
<circle cx="1239.7" cy="1077.7" r="3.6"/>
<circle cx="1242.8" cy="1081.1" r="3.6"/>
<circle cx="1245.8" cy="1084.4" r="3.6"/>
<circle cx="1248.9" cy="1081.7" r="3.6"/>
<circle cx="1251.9" cy="1095.4" r="3.6"/>
<circle cx="1255.0" cy="1087.2" r="3.6"/>
<circle cx="1258.1" cy="1087.9" r="3.6"/>
<circle cx="1261.1" cy="1083.2" r="3.6"/>
<circle cx="1264.2" cy="1085.4" r="3.6"/>
<circle cx="1267.2" cy="1082.8" r="3.6"/>
<circle cx="1270.3" cy="1082.6" r="3.6"/>
<circle cx="1273.3" cy="1093.7" r="3.6"/>
<circle cx="1276.4" cy="1092.7" r="3.6"/>
<circle cx="1279.4" cy="1076.7" r="3.6"/>
<circle cx="1282.5" cy="1090.3" r="3.6"/>
<circle cx="1285.5" cy="1085.7" r="3.6"/>
<circle cx="1288.6" cy="1079.2" r="3.6"/>
<circle cx="1291.6" cy="1087.0" r="3.6"/>
<circle cx="1294.7" cy="1070.0" r="3.6"/>
<circle cx="1297.7" cy="1091.2" r="3.6"/>
<circle cx="1300.8" cy="1089.1" r="3.6"/>
<circle cx="1303.8" cy="1098.9" r="3.6"/>
<circle cx="1306.9" cy="1079.3" r="3.6"/>
<circle cx="1309.9" cy="1087.8" r="3.6"/>
<circle cx="1313.0" cy="1081.0" r="3.6"/>
<circle cx="1316.0" cy="1081.7" r="3.6"/>
<circle cx="1319.1" cy="1068.5" r="3.6"/>
<circle cx="1322.2" cy="1081.5" r="3.6"/>
<circle cx="1325.2" cy="1088.1" r="3.6"/>
<circle cx="1328.3" cy="1088.4" r="3.6"/>
<circle cx="1331.3" cy="1079.9" r="3.6"/>
<circle cx="1334.4" cy="1098.4" r="3.6"/>
<circle cx="1337.4" cy="1088.8" r="3.6"/>
<circle cx="1340.5" cy="1095.8" r="3.6"/>
<circle cx="1343.5" cy="1091.9" r="3.6"/>
<circle cx="1346.6" cy="1077.1" r="3.6"/>
<circle cx="1349.6" cy="1091.6" r="3.6"/>
<circle cx="1352.7" cy="1088.4" r="3.6"/>
<circle cx="1355.7" cy="1079.6" r="3.6"/>
<circle cx="1358.8" cy="1095.9" r="3.6"/>
<circle cx="1361.8" cy="1084.5" r="3.6"/>
<circle cx="1364.9" cy="1093.5" r="3.6"/>
<circle cx="1367.9" cy="1083.9" r="3.6"/>
<circle cx="1371.0" cy="1088.4" r="3.6"/>
<circle cx="1374.0" cy="1078.4" r="3.6"/>
<circle cx="1377.1" cy="1085.9" r="3.6"/>
<circle cx="1380.1" cy="1082.1" r="3.6"/>
<circle cx="1383.2" cy="1075.4" r="3.6"/>
<circle cx="1386.3" cy="1085.8" r="3.6"/>
<circle cx="1389.3" cy="1076.1" r="3.6"/>
<circle cx="1392.4" cy="1080.3" r="3.6"/>
<circle cx="1395.4" cy="1078.9" r="3.6"/>
<circle cx="1398.5" cy="1090.1" r="3.6"/>
<circle cx="1401.5" cy="1083.7" r="3.6"/>
<circle cx="1404.6" cy="1084.1" r="3.6"/>
<circle cx="1407.6" cy="1080.0" r="3.6"/>
<circle cx="1410.7" cy="1077.4" r="3.6"/>
<circle cx="1413.7" cy="1078.1" r="3.6"/>
<circle cx="1416.8" cy="1080.7" r="3.6"/>
<circle cx="1419.8" cy="1088.6" r="3.6"/>
<circle cx="1422.9" cy="1088.2" r="3.6"/>
<circle cx="1425.9" cy="1081.5" r="3.6"/>
<circle cx="1429.0" cy="1092.7" r="3.6"/>
<circle cx="1432.0" cy="1087.2" r="3.6"/>
<path d="M 935.0 1089.1 L 935.0 974.4 M 935.8 976.7 L 936.7 979.1 L 937.6 981.5 L 938.4 983.9 L 939.3 986.4 L 940.2 988.9 L 941.1 991.5 L 942.0 994.2 L 942.9 997.0 L 943.8 999.8 L 944.6 1002.7 L 945.5 1005.5 L 946.4 1008.2 L 947.3 1010.9 L 948.2 1013.4 L 949.1 1015.8 L 950.0 1018.0 L 950.8 1020.0 L 951.7 1022.0 L 952.6 1023.9 L 953.5 1025.8 L 954.4 1027.6 L 955.3 1029.4 L 956.2 1031.0 L 957.0 1032.7 L 957.9 1034.2 L 958.8 1035.7 L 959.7 1037.1 L 960.6 1038.4 L 961.5 1039.6 L 962.4 1040.7 L 963.2 1041.7 L 964.1 1042.7 L 965.0 1043.7 L 965.9 1044.6 L 966.8 1045.5 L 967.7 1046.4 L 968.6 1047.2 L 969.4 1048.1 L 970.3 1048.8 L 971.9 1050.2 L 977.7 1054.2 L 983.6 1057.3 L 989.4 1060.0 L 995.2 1062.2 L 1001.0 1064.1 L 1006.8 1065.7 L 1012.6 1067.1 L 1018.4 1068.4 L 1024.2 1069.5 L 1030.0 1070.4 L 1035.8 1071.2 L 1041.6 1072.0 L 1047.4 1072.6 L 1053.2 1073.3 L 1059.1 1073.9 L 1064.9 1074.4 L 1070.7 1074.9 L 1076.5 1075.4 L 1082.3 1075.9 L 1088.1 1076.3 L 1093.9 1076.7 L 1099.7 1077.1 L 1105.5 1077.5 L 1111.3 1077.9 L 1117.1 1078.2 L 1122.9 1078.6 L 1128.7 1078.9 L 1134.6 1079.2 L 1140.4 1079.5 L 1146.2 1079.8 L 1152.0 1080.1 L 1157.8 1080.4 L 1163.6 1080.6 L 1169.4 1080.9 L 1175.2 1081.1 L 1181.0 1081.4 L 1186.8 1081.6 L 1192.6 1081.8 L 1198.4 1082.1 L 1204.2 1082.3 L 1210.1 1082.5 L 1215.9 1082.7 L 1221.7 1082.9 L 1227.5 1083.0 L 1233.3 1083.2 L 1239.1 1083.4 L 1244.9 1083.5 L 1250.7 1083.7 L 1256.5 1083.8 L 1262.3 1084.0 L 1268.1 1084.2 L 1273.9 1084.3 L 1279.8 1084.5 L 1285.6 1084.6 L 1291.4 1084.8 L 1297.2 1084.9 L 1303.0 1085.0 L 1308.8 1085.1 L 1314.6 1085.2 L 1320.4 1085.3 L 1326.2 1085.3 L 1332.0 1085.3 L 1337.8 1085.3 L 1343.6 1085.3 L 1349.4 1085.3 L 1355.3 1085.3 L 1361.1 1085.3 L 1366.9 1085.3 L 1372.7 1085.3 L 1378.5 1085.3 L 1384.3 1085.3 L 1390.1 1085.3 L 1395.9 1085.2 L 1401.7 1085.2 L 1407.5 1085.2 L 1413.3 1085.2 L 1419.1 1085.1 L 1424.9 1085.1 L 1430.8 1085.0" fill="none" stroke="#ff7a14" stroke-width="2.3"/>
</g>
<line x1="890.40" y1="1095.30" x2="896.40" y2="1095.30" stroke="#000" stroke-width="1.8" />
<text x="883.3" y="1102.3" font-size="21" text-anchor="end" fill="#000" >0.0</text>
<line x1="890.40" y1="1064.15" x2="893.90" y2="1064.15" stroke="#000" stroke-width="1.8" />
<line x1="890.40" y1="1033.00" x2="896.40" y2="1033.00" stroke="#000" stroke-width="1.8" />
<text x="883.3" y="1040.0" font-size="21" text-anchor="end" fill="#000" >0.5</text>
<line x1="890.40" y1="1001.85" x2="893.90" y2="1001.85" stroke="#000" stroke-width="1.8" />
<line x1="890.40" y1="970.70" x2="896.40" y2="970.70" stroke="#000" stroke-width="1.8" />
<text x="883.3" y="977.7" font-size="21" text-anchor="end" fill="#000" >1.0</text>
<line x1="938.20" y1="1120.40" x2="938.20" y2="1113.40" stroke="#000" stroke-width="1.8" />
<line x1="1018.53" y1="1120.40" x2="1018.53" y2="1115.90" stroke="#000" stroke-width="1.8" />
<line x1="1098.85" y1="1120.40" x2="1098.85" y2="1113.40" stroke="#000" stroke-width="1.8" />
<line x1="1179.17" y1="1120.40" x2="1179.17" y2="1115.90" stroke="#000" stroke-width="1.8" />
<line x1="1259.50" y1="1120.40" x2="1259.50" y2="1113.40" stroke="#000" stroke-width="1.8" />
<line x1="1339.83" y1="1120.40" x2="1339.83" y2="1115.90" stroke="#000" stroke-width="1.8" />
<line x1="1420.15" y1="1120.40" x2="1420.15" y2="1113.40" stroke="#000" stroke-width="1.8" />
<rect x="890.40" y="632.00" width="593.70" height="488.40" fill="none" stroke="#000" stroke-width="2" />
<line x1="890.40" y1="794.80" x2="1484.10" y2="794.80" stroke="#000" stroke-width="2.2" />
<line x1="890.40" y1="957.50" x2="1484.10" y2="957.50" stroke="#000" stroke-width="2.2" />
<text x="938.2" y="1144.8" font-size="22" text-anchor="middle" fill="#000" >0</text>
<text x="1098.9" y="1144.8" font-size="22" text-anchor="middle" fill="#000" >50</text>
<text x="1259.5" y="1144.8" font-size="22" text-anchor="middle" fill="#000" >100</text>
<text x="1420.2" y="1144.8" font-size="22" text-anchor="middle" fill="#000" >150</text>
<text x="1089.8" y="1174.3" font-size="29.4" text-anchor="start" fill="#000" >Delay time (ps)</text>
<text x="0.0" y="0.0" font-size="30" text-anchor="middle" fill="#000" transform="translate(853,870.6) rotate(-90)">Normalized ΔOD</text>
<text x="817.0" y="635.3" font-size="35" text-anchor="start" fill="#000" >(d)</text>
<text x="976.3" y="671.9" font-size="30">λ<tspan dy="4">probe</tspan><tspan dy="-4"> = 500 nm</tspan></text>
<circle cx="1271.5" cy="665.1" r="3" fill="none" stroke="#33eeff" stroke-width="1"/>
<text x="1287.0" y="669.6" font-size="29.5">5.1<tspan font-size="15" dy="-2">×</tspan><tspan dy="2">10</tspan><tspan font-size="20" dy="-19">3</tspan><tspan dy="19" dx="0"> mW/cm</tspan></text>
<circle cx="1262.7" cy="827.3" r="3" fill="none" stroke="#a040a0" stroke-width="1"/>
<text x="1285.0" y="831.8" font-size="29.5">6.4<tspan font-size="15" dy="-2">×</tspan><tspan dy="2">10</tspan><tspan font-size="20" dy="-19">3</tspan><tspan dy="19" dx="0"> mW/cm</tspan></text>
<circle cx="1265.5" cy="992.8" r="3" fill="none" stroke="#ff8c3a" stroke-width="1"/>
<text x="1288.2" y="997.3" font-size="29.5">8.1<tspan font-size="15" dy="-2">×</tspan><tspan dy="2">10</tspan><tspan font-size="20" dy="-19">3</tspan><tspan dy="19" dx="0"> mW/cm</tspan></text>
<text x="1130.9" y="720.8" font-size="29.6">τ<tspan dy="6">1</tspan><tspan dy="-6">=</tspan>3.9 ps <tspan dx="-1">τ</tspan><tspan dy="6" dx="0.5">2</tspan><tspan dy="-6" dx="0">=</tspan>11.1 ps</text>
<text x="1147.1" y="892.9" font-size="29.6">τ<tspan dy="6">1</tspan><tspan dy="-6">=</tspan>4.2 ps <tspan dx="-1">τ</tspan><tspan dy="6" dx="0.5">2</tspan><tspan dy="-6" dx="0">=</tspan>12.4 ps</text>
<text x="1132.5" y="1052.1" font-size="29.6">τ<tspan dy="6">1</tspan><tspan dy="-6">=</tspan>4.5 ps <tspan dx="-1">τ</tspan><tspan dy="6" dx="0.5">2</tspan><tspan dy="-6" dx="0">=</tspan>13.2 ps</text></svg></body></html>
